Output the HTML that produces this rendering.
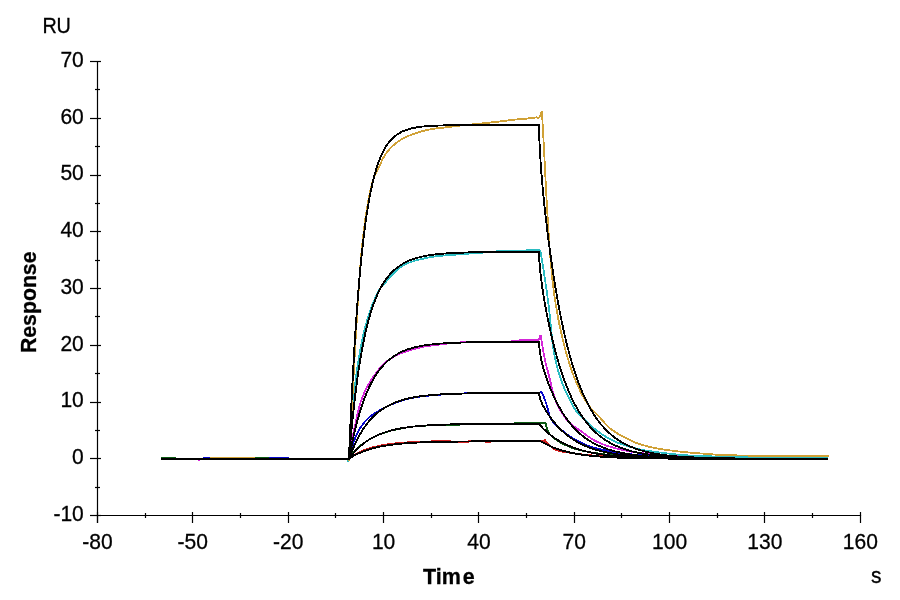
<!DOCTYPE html>
<html lang="en">
<head>
<meta charset="utf-8">
<title>Sensorgram</title>
<style>
html,body{margin:0;padding:0;background:#ffffff;}
body{width:900px;height:600px;overflow:hidden;}
svg{display:block;}
</style>
</head>
<body>
<svg width="900" height="600" viewBox="0 0 900 600">
<rect width="900" height="600" fill="#ffffff"/>
<g fill="none" stroke-width="1.8" stroke-linejoin="bevel" shape-rendering="crispEdges">
<polyline stroke="#d21f1f" points="161.0,458.8 348.2,458.8 348.9,460.8 349.6,458.8 349.0,458.5 349.5,458.1 350.0,457.8 350.5,457.4 351.0,457.0 351.5,456.7 352.0,456.4 352.5,456.1 353.0,455.8 353.5,455.5 354.0,455.2 354.5,454.9 355.0,454.6 355.5,454.4 356.0,454.1 356.5,453.8 357.0,453.6 357.5,453.3 358.0,453.1 358.5,452.8 359.0,452.6 359.5,452.3 360.0,452.1 360.5,451.8 361.0,451.6 361.5,451.4 362.0,451.1 362.5,450.8 363.0,450.6 363.5,450.4 364.0,450.1 364.5,449.9 365.0,449.7 365.5,449.5 366.0,449.3 366.5,449.2 367.0,449.0 367.5,448.8 368.0,448.7 368.5,448.5 369.0,448.4 369.5,448.2 370.0,448.1 370.5,447.9 371.0,447.8 371.5,447.7 372.0,447.5 372.5,447.4 373.0,447.3 373.5,447.2 374.0,447.0 374.5,446.9 375.0,446.8 375.5,446.7 376.0,446.6 376.5,446.5 377.0,446.3 377.5,446.2 378.0,446.1 378.5,446.0 379.0,445.9 379.5,445.8 380.0,445.7 380.5,445.6 381.0,445.5 381.5,445.4 382.0,445.3 382.5,445.2 383.0,445.1 383.5,445.0 384.0,444.9 384.5,444.8 385.0,444.8 385.5,444.7 386.0,444.6 386.5,444.5 387.0,444.4 387.5,444.3 388.0,444.3 388.5,444.2 389.0,444.1 389.5,444.1 390.0,444.0 390.5,443.9 391.0,443.9 391.5,443.8 392.0,443.8 392.5,443.7 393.0,443.6 393.5,443.6 394.0,443.5 394.5,443.5 395.0,443.4 395.5,443.4 396.0,443.3 396.5,443.3 397.0,443.2 397.5,443.1 398.0,443.1 398.5,443.1 399.0,443.0 399.5,443.0 400.0,442.9 400.5,442.9 401.0,442.8 401.5,442.8 402.0,442.7 402.5,442.7 403.0,442.7 403.5,442.6 404.0,442.6 404.5,442.6 405.0,442.5 405.5,442.5 406.0,442.4 406.5,442.4 407.0,442.4 407.5,442.3 408.0,442.3 408.5,442.3 409.0,442.3 409.5,442.2 410.0,442.2 410.5,442.2 411.0,442.1 411.5,442.1 412.0,442.1 412.5,442.1 413.0,442.0 413.5,442.0 414.0,442.0 414.5,442.0 415.0,441.9 415.5,441.9 416.0,441.9 416.5,441.9 417.0,441.8 417.5,441.8 418.0,441.8 418.5,441.8 419.0,441.8 419.5,441.7 420.0,441.7 420.5,441.7 421.0,441.7 421.5,441.7 422.0,441.6 422.5,441.6 423.0,441.6 423.5,441.6 424.0,441.6 424.5,441.6 425.0,441.5 425.5,441.5 426.0,441.5 426.5,441.5 427.0,441.5 427.5,441.5 428.0,441.4 428.5,441.4 429.0,441.4 429.5,441.4 430.0,441.4 430.5,441.4 431.0,441.4 431.5,441.3 432.0,441.3 432.5,441.3 433.0,441.3 433.5,441.3 434.0,441.3 434.5,441.3 435.0,441.3 435.5,441.2 436.0,441.2 436.5,441.2 437.0,441.2 437.5,441.2 438.0,441.2 438.5,441.2 439.0,441.2 439.5,441.2 440.0,441.2 440.5,441.2 441.0,441.2 441.5,441.2 442.0,441.2 442.5,441.2 443.0,441.2 443.5,441.2 444.0,441.2 444.5,441.2 445.0,441.2 445.5,441.2 446.0,441.2 446.5,441.2 447.0,441.2 447.5,441.2 448.0,441.2 448.5,441.2 449.0,441.2 449.5,441.2 450.0,441.2 450.5,441.5 451.0,441.9 451.5,441.9 452.0,441.9 452.5,441.9 453.0,441.9 453.5,441.9 454.0,441.9 454.5,441.9 455.0,441.9 455.5,441.9 456.0,441.9 456.5,441.9 457.0,441.9 457.5,441.9 458.0,441.9 458.5,441.9 459.0,441.9 459.5,441.9 460.0,441.9 460.5,441.9 461.0,441.9 461.5,441.9 462.0,441.9 462.5,441.9 463.0,441.9 463.5,441.9 464.0,441.9 464.5,441.9 465.0,441.9 465.5,441.9 466.0,441.9 466.5,441.9 467.0,441.9 467.5,441.9 468.0,441.9 468.5,441.6 469.0,441.2 469.5,441.2 470.0,441.2 470.5,441.2 471.0,441.2 471.5,441.2 472.0,441.2 472.5,441.2 473.0,441.2 473.5,441.2 474.0,441.2 474.5,441.2 475.0,441.2 475.5,441.2 476.0,441.2 476.5,441.2 477.0,441.2 477.5,441.2 478.0,441.2 478.5,441.2 479.0,441.2 479.5,441.2 480.0,441.2 480.5,441.2 481.0,441.2 481.5,441.2 482.0,441.2 482.5,441.2 483.0,441.2 483.5,441.2 484.0,441.2 484.5,441.2 485.0,441.2 485.5,441.5 486.0,441.9 486.5,441.9 487.0,441.9 487.5,441.9 488.0,441.9 488.5,441.9 489.0,441.9 489.5,441.9 490.0,441.9 490.5,441.6 491.0,441.2 491.5,441.2 492.0,441.2 492.5,441.2 493.0,441.2 493.5,441.2 494.0,441.2 494.5,441.2 495.0,441.2 495.5,441.2 496.0,441.1 496.5,441.1 497.0,441.1 497.5,441.1 498.0,441.1 498.5,441.1 499.0,441.1 499.5,441.1 500.0,441.1 500.5,441.1 501.0,441.1 501.5,441.1 502.0,441.1 502.5,441.1 503.0,441.1 503.5,441.1 504.0,441.1 504.5,441.1 505.0,441.1 505.5,441.1 506.0,441.1 506.5,441.1 507.0,441.1 507.5,441.1 508.0,441.1 508.5,441.1 509.0,441.1 509.5,441.1 510.0,441.0 510.5,441.0 511.0,441.0 511.5,441.0 512.0,441.0 512.5,441.0 513.0,441.0 513.5,441.0 514.0,441.0 514.5,441.0 515.0,441.0 515.5,441.0 516.0,441.0 516.5,441.0 517.0,441.0 517.5,441.0 518.0,441.0 518.5,441.0 519.0,441.0 519.5,441.0 520.0,441.0 520.5,441.0 521.0,441.0 521.5,441.0 522.0,441.0 522.5,441.0 523.0,441.0 523.5,441.0 524.0,441.0 524.5,441.0 525.0,441.0 525.5,441.0 526.0,441.0 526.5,441.0 527.0,441.0 527.5,441.0 528.0,441.0 528.5,441.0 529.0,441.0 529.5,441.0 530.0,441.0 530.5,441.0 531.0,441.0 531.5,441.0 532.0,441.0 532.5,441.0 533.0,441.0 533.5,441.0 534.0,441.0 534.5,441.0 535.0,441.0 535.5,441.0 536.0,441.0 536.5,441.0 537.0,441.0 537.5,441.0 538.0,441.0 538.5,441.0 539.0,441.0 539.5,441.0 540.0,441.0 544.0,441.2 545.0,439.3 546.2,442.2 546.2,442.2 546.7,442.7 547.2,443.2 547.7,443.7 548.2,444.1 548.7,444.5 549.2,445.0 549.7,445.4 550.2,445.8 550.7,446.3 551.2,446.7 551.7,447.1 552.2,447.5 552.7,447.9 553.2,448.3 553.7,448.6 554.2,449.0 554.7,449.3 555.2,449.6 555.7,449.8 556.2,450.0 556.7,450.2 557.2,450.4 557.7,450.5 558.2,450.6 558.7,450.8 559.2,450.9 559.7,451.0 560.2,451.2 560.7,451.3 561.2,451.4 561.7,451.5 562.2,451.6 562.7,451.7 563.2,451.8 563.7,451.8 564.2,451.9 564.7,452.0 565.2,452.1 565.7,452.2 566.2,452.2 566.7,452.3 567.2,452.4 567.7,452.5 568.2,452.5 568.7,452.6 569.2,452.7 569.7,452.8 570.2,452.8 570.7,452.9 571.2,453.0 571.7,453.1 572.2,453.1 572.7,453.2 573.2,453.3 573.7,453.3 574.2,453.4 574.7,453.5 575.2,453.5 575.7,453.6 576.2,453.7 576.7,453.7 577.2,453.8 577.7,453.9 578.2,453.9 578.7,454.0 579.2,454.1 579.7,454.1 580.2,454.2 580.7,454.3 581.2,454.3 581.7,454.4 582.2,454.4 582.7,454.5 583.2,454.5 583.7,454.6 584.2,454.6 584.7,454.7 585.2,454.7 585.7,454.8 586.2,454.9 586.7,454.9 587.2,454.9 587.7,455.0 588.2,455.0 588.7,455.1 589.2,455.1 589.7,455.2 590.2,455.2 590.7,455.3 591.2,455.3 591.7,455.3 592.2,455.4 592.7,455.4 593.2,455.5 593.7,455.5 594.2,455.5 594.7,455.6 595.2,455.6 595.7,455.7 596.2,455.7 596.7,455.7 597.2,455.8 597.7,455.8 598.2,455.8 598.7,455.9 599.2,455.9 599.7,455.9 600.2,456.0 600.7,456.0 601.2,456.0 601.7,456.1 602.2,456.1 602.7,456.1 603.2,456.2 603.7,456.2 604.2,456.2 604.7,456.3 605.2,456.3 605.7,456.3 606.2,456.4 606.7,456.4 607.2,456.4 607.7,456.4 608.2,456.5 608.7,456.5 609.2,456.5 609.7,456.5 610.2,456.6 610.7,456.6 611.2,456.6 611.7,456.6 612.2,456.7 612.7,456.7 613.2,456.7 613.7,456.7 614.2,456.8 614.7,456.8 615.2,456.8 615.7,456.8 616.2,456.9 616.7,456.9 617.2,456.9 617.7,456.9 618.2,456.9 618.7,457.0 619.2,457.0 619.7,457.0 620.2,457.0 620.7,457.0 621.2,457.1 621.7,457.1 622.2,457.1 622.7,457.1 623.2,457.1 623.7,457.1 624.2,457.2 624.7,457.2 625.2,457.2 625.7,457.2 626.2,457.2 626.7,457.3 627.2,457.3 627.7,457.3 628.2,457.3 628.7,457.3 629.2,457.3 629.7,457.4 630.2,457.4 630.7,457.4 631.2,457.4 631.7,457.4 632.2,457.4 632.7,457.4 633.2,457.5 633.7,457.5 634.2,457.5 634.7,457.5 635.2,457.5 635.7,457.5 636.2,457.5 636.7,457.5 637.2,457.5 637.7,457.6 638.2,457.6 638.7,457.6 639.2,457.6 639.7,457.6 640.2,457.6 640.7,457.6 641.2,457.6 641.7,457.6 642.2,457.6 642.7,457.6 643.2,457.7 643.7,457.7 644.2,457.7 644.7,457.7 645.2,457.7 645.7,457.7 646.2,457.7 646.7,457.7 647.2,457.7 647.7,457.7 648.2,457.7 648.7,457.7 649.2,457.7 649.7,457.8 650.2,457.8 650.7,457.8 651.2,457.8 651.7,457.8 652.2,457.8 652.7,457.8 653.2,457.8 653.7,457.8 654.2,457.8 654.7,457.8 655.2,457.8 655.7,457.8 656.2,457.8 656.7,457.8 657.2,457.9 657.7,457.9 658.2,457.9 658.7,457.9 659.2,457.9 659.7,457.9 660.2,457.9 660.7,457.9 661.2,457.9 661.7,457.9 662.2,457.9 662.7,457.9 663.2,457.9 663.7,457.9 664.2,457.9 664.7,457.9 665.2,457.9 665.7,458.0 666.2,458.0 666.7,458.0 667.2,458.0 667.7,458.0 668.2,458.0 668.7,458.0 669.2,458.0 669.7,458.0 670.2,458.0 670.7,458.0 671.2,458.0 671.7,458.0 672.2,458.0 672.7,458.0 673.2,458.0 673.7,458.0 674.2,458.0 674.7,458.0 675.2,458.1 675.7,458.1 676.2,458.1 676.7,458.1 677.2,458.1 677.7,458.1 678.2,458.1 678.7,458.1 679.2,458.1 679.7,458.1 680.2,458.1 680.7,458.1 681.2,458.1 681.7,458.1 682.2,458.1 682.7,458.1 683.2,458.1 683.7,458.1 684.2,458.1 684.7,458.1 685.2,458.1 685.7,458.1 686.2,458.1 686.7,458.1 687.2,458.1 687.7,458.1 688.2,458.1 688.7,458.2 689.2,458.2 689.7,458.2 690.2,458.2 690.7,458.2 691.2,458.2 691.7,458.2 692.2,458.2 692.7,458.2 693.2,458.2 693.7,458.2 694.2,458.2 694.7,458.2 695.2,458.2 695.7,458.2 696.2,458.2 696.7,458.2 697.2,458.2 697.7,458.2 698.2,458.2 698.7,458.2 699.2,458.2 699.7,458.2 700.2,458.2 700.7,458.2 701.2,458.2 701.7,458.2 702.2,458.2 702.7,458.2 703.2,458.2 703.7,458.2 704.2,458.2 704.7,458.2 705.2,458.2 705.7,458.2 706.2,458.2 706.7,458.2 707.2,458.2 707.7,458.2 708.2,458.2 708.7,458.2 709.2,458.2 709.7,458.2 710.2,458.2 710.7,458.2 711.2,458.2 711.7,458.2 712.2,458.2 712.7,458.2 713.2,458.2 713.7,458.2 714.2,458.2 714.7,458.2 715.2,458.2 715.7,458.2 716.2,458.2 716.7,458.2 717.2,458.2 717.7,458.2 718.2,458.3 718.7,458.3 719.2,458.3 719.7,458.3 720.2,458.3 720.7,458.3 721.2,458.3 721.7,458.3 722.2,458.3 722.7,458.3 723.2,458.3 723.7,458.3 724.2,458.3 724.7,458.3 725.2,458.3 725.7,458.3 726.2,458.3 726.7,458.3 727.2,458.3 727.7,458.3 728.2,458.3 728.7,458.3 729.2,458.3 729.7,458.3 730.2,458.3 730.7,458.3 731.2,458.3 731.7,458.3 732.2,458.3 732.7,458.3 733.2,458.3 733.7,458.3 734.2,458.3 734.7,458.3 735.2,458.3 735.7,458.3 736.2,458.3 736.7,458.3 737.2,458.3 737.7,458.3 738.2,458.3 738.7,458.3 739.2,458.3 739.7,458.3 740.2,458.3 740.7,458.3 741.2,458.3 741.7,458.3 742.2,458.3 742.7,458.3 743.2,458.3 743.7,458.3 744.2,458.3 744.7,458.3 745.2,458.3 745.7,458.3 746.2,458.3 746.7,458.3 747.2,458.3 747.7,458.3 748.2,458.3 748.7,458.3 749.2,458.3 749.7,458.3 750.2,458.3 750.7,458.3 751.2,458.3 751.7,458.3 752.2,458.3 752.7,458.3 753.2,458.3 753.7,458.3 754.2,458.3 754.7,458.3 755.2,458.3 755.7,458.3 756.2,458.3 756.7,458.3 757.2,458.3 757.7,458.3 758.2,458.3 758.7,458.3 759.2,458.3 759.7,458.3 760.2,458.3 760.7,458.3 761.2,458.3 761.7,458.3 762.2,458.3 762.7,458.3 763.2,458.3 763.7,458.3 764.2,458.3 764.7,458.3 765.2,458.3 765.7,458.3 766.2,458.4 766.7,458.4 767.2,458.4 767.7,458.4 768.2,458.4 768.7,458.4 769.2,458.4 769.7,458.4 770.2,458.4 770.7,458.4 771.2,458.4 771.7,458.4 772.2,458.4 772.7,458.4 773.2,458.4 773.7,458.4 774.2,458.4 774.7,458.4 775.2,458.4 775.7,458.4 776.2,458.4 776.7,458.4 777.2,458.4 777.7,458.4 778.2,458.4 778.7,458.4 779.2,458.4 779.7,458.4 780.2,458.4 780.7,458.4 781.2,458.4 781.7,458.4 782.2,458.4 782.7,458.4 783.2,458.4 783.7,458.4 784.2,458.4 784.7,458.4 785.2,458.4 785.7,458.4 786.2,458.4 786.7,458.4 787.2,458.4 787.7,458.4 788.2,458.4 788.7,458.4 789.2,458.4 789.7,458.4 790.2,458.4 790.7,458.4 791.2,458.4 791.7,458.4 792.2,458.4 792.7,458.4 793.2,458.4 793.7,458.4 794.2,458.4 794.7,458.4 795.2,458.4 795.7,458.4 796.2,458.4 796.7,458.4 797.2,458.4 797.7,458.4 798.2,458.4 798.7,458.4 799.2,458.4 799.7,458.4 800.2,458.4 800.7,458.4 801.2,458.4 801.7,458.4 802.2,458.4 802.7,458.4 803.2,458.4 803.7,458.4 804.2,458.4 804.7,458.4 805.2,458.4 805.7,458.4 806.2,458.4 806.7,458.4 807.2,458.4 807.7,458.4 808.2,458.4 808.7,458.4 809.2,458.4 809.7,458.4 810.2,458.4 810.7,458.4 811.2,458.4 811.7,458.4 812.2,458.4 812.7,458.4 813.2,458.4 813.7,458.4 814.2,458.4 814.7,458.4 815.2,458.4 815.7,458.4 816.2,458.4 816.7,458.4 817.2,458.4 817.7,458.4 818.2,458.4 818.7,458.4 819.2,458.4 819.7,458.4 820.2,458.4 820.7,458.4 821.2,458.4 821.7,458.4 822.2,458.4 822.7,458.4 823.2,458.4 823.7,458.4 824.2,458.4 824.7,458.4 825.2,458.4 825.7,458.4 826.2,458.4 826.7,458.4 827.2,458.4 827.7,458.4 828.2,458.4"/>
<polyline stroke="#0b5a12" points="161.0,457.7 175.0,457.7 175.0,458.8 254.0,458.8 254.0,457.7 270.0,457.7 270.0,458.8 349.5,458.6 349.0,458.5 349.5,457.7 350.0,456.9 350.5,456.1 351.0,455.3 351.5,454.6 352.0,453.9 352.5,453.3 353.0,452.7 353.5,452.2 354.0,451.7 354.5,451.2 355.0,450.7 355.5,450.2 356.0,449.8 356.5,449.3 357.0,448.8 357.5,448.3 358.0,447.9 358.5,447.4 359.0,446.9 359.5,446.5 360.0,446.0 360.5,445.6 361.0,445.2 361.5,444.8 362.0,444.4 362.5,444.0 363.0,443.7 363.5,443.3 364.0,443.0 364.5,442.6 365.0,442.3 365.5,442.0 366.0,441.6 366.5,441.3 367.0,441.0 367.5,440.7 368.0,440.3 368.5,440.0 369.0,439.7 369.5,439.4 370.0,439.1 370.5,438.8 371.0,438.5 371.5,438.3 372.0,438.0 372.5,437.7 373.0,437.5 373.5,437.2 374.0,437.0 374.5,436.7 375.0,436.5 375.5,436.2 376.0,436.0 376.5,435.8 377.0,435.5 377.5,435.3 378.0,435.1 378.5,434.9 379.0,434.7 379.5,434.4 380.0,434.2 380.5,434.0 381.0,433.8 381.5,433.6 382.0,433.4 382.5,433.3 383.0,433.1 383.5,432.9 384.0,432.7 384.5,432.6 385.0,432.4 385.5,432.2 386.0,432.1 386.5,431.9 387.0,431.8 387.5,431.6 388.0,431.5 388.5,431.3 389.0,431.2 389.5,431.1 390.0,430.9 390.5,430.8 391.0,430.7 391.5,430.5 392.0,430.4 392.5,430.3 393.0,430.2 393.5,430.0 394.0,429.9 394.5,429.8 395.0,429.7 395.5,429.6 396.0,429.5 396.5,429.4 397.0,429.3 397.5,429.2 398.0,429.1 398.5,429.0 399.0,428.9 399.5,428.8 400.0,428.7 400.5,428.6 401.0,428.5 401.5,428.4 402.0,428.3 402.5,428.2 403.0,428.1 403.5,428.0 404.0,427.9 404.5,427.8 405.0,427.8 405.5,427.7 406.0,427.6 406.5,427.5 407.0,427.4 407.5,427.3 408.0,427.3 408.5,427.2 409.0,427.1 409.5,427.0 410.0,427.0 410.5,426.9 411.0,426.8 411.5,426.8 412.0,426.7 412.5,426.7 413.0,426.6 413.5,426.5 414.0,426.5 414.5,426.4 415.0,426.4 415.5,426.4 416.0,426.3 416.5,426.3 417.0,426.2 417.5,426.2 418.0,426.1 418.5,426.1 419.0,426.1 419.5,426.0 420.0,426.0 420.5,425.9 421.0,425.9 421.5,425.9 422.0,425.8 422.5,425.8 423.0,425.7 423.5,425.7 424.0,425.7 424.5,425.6 425.0,425.6 425.5,425.6 426.0,425.5 426.5,425.5 427.0,425.5 427.5,425.4 428.0,425.4 428.5,425.4 429.0,425.3 429.5,425.3 430.0,425.3 430.5,425.2 431.0,425.2 431.5,425.2 432.0,425.2 432.5,425.1 433.0,425.1 433.5,425.1 434.0,425.1 434.5,425.1 435.0,425.0 435.5,425.0 436.0,425.0 436.5,425.0 437.0,425.0 437.5,425.0 438.0,424.9 438.5,424.9 439.0,424.9 439.5,424.9 440.0,424.9 440.5,424.9 441.0,424.9 441.5,424.9 442.0,424.9 442.5,424.9 443.0,424.9 443.5,424.9 444.0,424.9 444.5,424.8 445.0,424.8 445.5,424.8 446.0,424.8 446.5,424.8 447.0,424.8 447.5,424.8 448.0,424.8 448.5,424.8 449.0,424.8 449.5,424.8 450.0,424.8 450.5,424.8 451.0,424.8 451.5,424.8 452.0,424.8 452.5,424.8 453.0,424.8 453.5,424.8 454.0,424.8 454.5,424.8 455.0,424.8 455.5,424.8 456.0,424.8 456.5,424.8 457.0,424.7 457.5,424.7 458.0,424.7 458.5,424.7 459.0,424.7 459.5,424.6 460.0,424.5 460.5,424.3 461.0,424.2 461.5,424.1 462.0,424.0 462.5,424.0 463.0,424.0 463.5,424.0 464.0,424.0 464.5,424.0 465.0,424.0 465.5,424.0 466.0,424.0 466.5,424.0 467.0,424.0 467.5,424.0 468.0,424.0 468.5,424.0 469.0,424.0 469.5,424.0 470.0,424.0 470.5,424.0 471.0,424.0 471.5,424.0 472.0,424.0 472.5,424.0 473.0,424.0 473.5,424.0 474.0,424.0 474.5,424.0 475.0,424.0 475.5,424.0 476.0,424.0 476.5,424.0 477.0,424.0 477.5,424.0 478.0,424.0 478.5,424.0 479.0,424.0 479.5,424.0 480.0,424.0 480.5,424.0 481.0,424.0 481.5,424.0 482.0,424.0 482.5,424.0 483.0,424.0 483.5,424.0 484.0,424.0 484.5,424.0 485.0,424.0 485.5,424.0 486.0,424.0 486.5,424.0 487.0,424.0 487.5,424.0 488.0,424.0 488.5,424.0 489.0,424.0 489.5,424.0 490.0,424.0 490.5,424.0 491.0,424.0 491.5,424.0 492.0,424.0 492.5,424.0 493.0,424.0 493.5,424.0 494.0,424.0 494.5,424.0 495.0,424.0 495.5,424.0 496.0,424.0 496.5,424.0 497.0,424.0 497.5,424.0 498.0,424.0 498.5,424.0 499.0,424.0 499.5,424.0 500.0,424.0 500.5,424.0 501.0,424.0 501.5,424.0 502.0,424.0 502.5,424.0 503.0,424.0 503.5,424.0 504.0,424.0 504.5,424.0 505.0,424.0 505.5,424.0 506.0,424.0 506.5,424.0 507.0,424.0 507.5,424.0 508.0,424.0 508.5,424.0 509.0,424.0 509.5,424.0 510.0,424.0 510.5,424.0 511.0,424.0 511.5,424.0 512.0,424.0 512.5,423.9 513.0,423.7 513.5,423.5 514.0,423.3 514.5,423.1 515.0,423.0 515.5,423.0 516.0,423.0 516.5,423.0 517.0,423.0 517.5,423.0 518.0,423.0 518.5,423.0 519.0,423.0 519.5,423.0 520.0,423.0 520.5,423.0 521.0,423.0 521.5,423.0 522.0,423.0 522.5,423.0 523.0,423.0 523.5,423.0 524.0,423.0 524.5,423.0 525.0,423.0 525.5,423.0 526.0,423.0 526.5,423.0 527.0,423.0 527.5,423.0 528.0,423.0 528.5,423.0 529.0,423.0 529.5,423.0 530.0,423.0 530.5,423.0 531.0,423.0 531.5,423.0 532.0,423.0 532.5,423.0 533.0,423.0 533.5,423.0 534.0,423.0 534.5,423.0 535.0,423.0 535.5,423.0 536.0,423.0 536.5,423.0 537.0,423.0 537.5,423.0 538.0,423.0 538.5,423.0 545.6,423.0 545.6,423.0 546.1,425.2 546.6,427.2 547.1,428.9 547.6,430.2 548.1,431.4 548.6,432.4 549.1,433.3 549.6,434.1 550.1,434.7 550.6,435.3 551.1,435.8 551.6,436.3 552.1,436.8 552.6,437.2 553.1,437.6 553.6,438.0 554.1,438.4 554.6,438.7 555.1,439.1 555.6,439.4 556.1,439.8 556.6,440.1 557.1,440.4 557.6,440.8 558.1,441.1 558.6,441.4 559.1,441.7 559.6,442.0 560.1,442.3 560.6,442.6 561.1,442.8 561.6,443.1 562.1,443.4 562.6,443.6 563.1,443.9 563.6,444.1 564.1,444.4 564.6,444.6 565.1,444.8 565.6,445.1 566.1,445.3 566.6,445.5 567.1,445.7 567.6,446.0 568.1,446.2 568.6,446.4 569.1,446.6 569.6,446.8 570.1,447.0 570.6,447.2 571.1,447.4 571.6,447.6 572.1,447.8 572.6,448.0 573.1,448.2 573.6,448.4 574.1,448.5 574.6,448.7 575.1,448.9 575.6,449.0 576.1,449.2 576.6,449.3 577.1,449.5 577.6,449.6 578.1,449.7 578.6,449.9 579.1,450.0 579.6,450.1 580.1,450.2 580.6,450.4 581.1,450.5 581.6,450.6 582.1,450.7 582.6,450.8 583.1,450.9 583.6,451.0 584.1,451.1 584.6,451.2 585.1,451.3 585.6,451.4 586.1,451.5 586.6,451.6 587.1,451.7 587.6,451.8 588.1,451.9 588.6,452.0 589.1,452.1 589.6,452.1 590.1,452.2 590.6,452.3 591.1,452.4 591.6,452.5 592.1,452.6 592.6,452.6 593.1,452.7 593.6,452.8 594.1,452.9 594.6,452.9 595.1,453.0 595.6,453.1 596.1,453.2 596.6,453.2 597.1,453.3 597.6,453.4 598.1,453.5 598.6,453.5 599.1,453.6 599.6,453.7 600.1,453.7 600.6,453.8 601.1,453.9 601.6,453.9 602.1,454.0 602.6,454.1 603.1,454.1 603.6,454.2 604.1,454.3 604.6,454.3 605.1,454.4 605.6,454.5 606.1,454.5 606.6,454.6 607.1,454.6 607.6,454.7 608.1,454.7 608.6,454.8 609.1,454.9 609.6,454.9 610.1,455.0 610.6,455.0 611.1,455.1 611.6,455.1 612.1,455.2 612.6,455.2 613.1,455.2 613.6,455.3 614.1,455.3 614.6,455.4 615.1,455.4 615.6,455.4 616.1,455.5 616.6,455.5 617.1,455.6 617.6,455.6 618.1,455.6 618.6,455.7 619.1,455.7 619.6,455.7 620.1,455.8 620.6,455.8 621.1,455.9 621.6,455.9 622.1,455.9 622.6,456.0 623.1,456.0 623.6,456.0 624.1,456.1 624.6,456.1 625.1,456.1 625.6,456.2 626.1,456.2 626.6,456.2 627.1,456.2 627.6,456.3 628.1,456.3 628.6,456.3 629.1,456.4 629.6,456.4 630.1,456.4 630.6,456.4 631.1,456.5 631.6,456.5 632.1,456.5 632.6,456.5 633.1,456.6 633.6,456.6 634.1,456.6 634.6,456.6 635.1,456.6 635.6,456.7 636.1,456.7 636.6,456.7 637.1,456.7 637.6,456.7 638.1,456.7 638.6,456.8 639.1,456.8 639.6,456.8 640.1,456.8 640.6,456.8 641.1,456.8 641.6,456.8 642.1,456.8 642.6,456.9 643.1,456.9 643.6,456.9 644.1,456.9 644.6,456.9 645.1,456.9 645.6,456.9 646.1,456.9 646.6,456.9 647.1,457.0 647.6,457.0 648.1,457.0 648.6,457.0 649.1,457.0 649.6,457.0 650.1,457.0 650.6,457.0 651.1,457.0 651.6,457.0 652.1,457.1 652.6,457.1 653.1,457.1 653.6,457.1 654.1,457.1 654.6,457.1 655.1,457.1 655.6,457.1 656.1,457.1 656.6,457.1 657.1,457.1 657.6,457.2 658.1,457.2 658.6,457.2 659.1,457.2 659.6,457.2 660.1,457.2 660.6,457.2 661.1,457.2 661.6,457.2 662.1,457.2 662.6,457.2 663.1,457.2 663.6,457.3 664.1,457.3 664.6,457.3 665.1,457.3 665.6,457.3 666.1,457.3 666.6,457.3 667.1,457.3 667.6,457.3 668.1,457.3 668.6,457.3 669.1,457.3 669.6,457.3 670.1,457.3 670.6,457.4 671.1,457.4 671.6,457.4 672.1,457.4 672.6,457.4 673.1,457.4 673.6,457.4 674.1,457.4 674.6,457.4 675.1,457.4 675.6,457.4 676.1,457.4 676.6,457.4 677.1,457.4 677.6,457.4 678.1,457.4 678.6,457.4 679.1,457.4 679.6,457.5 680.1,457.5 680.6,457.5 681.1,457.5 681.6,457.5 682.1,457.5 682.6,457.5 683.1,457.5 683.6,457.5 684.1,457.5 684.6,457.5 685.1,457.5 685.6,457.5 686.1,457.5 686.6,457.5 687.1,457.5 687.6,457.5 688.1,457.5 688.6,457.5 689.1,457.5 689.6,457.5 690.1,457.5 690.6,457.5 691.1,457.6 691.6,457.6 692.1,457.6 692.6,457.6 693.1,457.6 693.6,457.6 694.1,457.6 694.6,457.6 695.1,457.6 695.6,457.6 696.1,457.6 696.6,457.6 697.1,457.6 697.6,457.6 698.1,457.6 698.6,457.6 699.1,457.6 699.6,457.6 700.1,457.6 700.6,457.6 701.1,457.6 701.6,457.6 702.1,457.6 702.6,457.6 703.1,457.6 703.6,457.6 704.1,457.6 704.6,457.6 705.1,457.6 705.6,457.6 706.1,457.6 706.6,457.6 707.1,457.6 707.6,457.6 708.1,457.6 708.6,457.6 709.1,457.6 709.6,457.6 710.1,457.6 710.6,457.6 711.1,457.6 711.6,457.6 712.1,457.7 712.6,457.7 713.1,457.7 713.6,457.7 714.1,457.7 714.6,457.7 715.1,457.7 715.6,457.7 716.1,457.7 716.6,457.7 717.1,457.7 717.6,457.7 718.1,457.7 718.6,457.7 719.1,457.7 719.6,457.7 720.1,457.7 720.6,457.7 721.1,457.7 721.6,457.7 722.1,457.7 722.6,457.7 723.1,457.7 723.6,457.7 724.1,457.7 724.6,457.7 725.1,457.7 725.6,457.7 726.1,457.7 726.6,457.7 727.1,457.7 727.6,457.7 728.1,457.7 728.6,457.7 729.1,457.7 729.6,457.7 730.1,457.7 730.6,457.7 731.1,457.7 731.6,457.7 732.1,457.7 732.6,457.7 733.1,457.7 733.6,457.7 734.1,457.7 734.6,457.7 735.1,457.7 735.6,457.7 736.1,457.7 736.6,457.7 737.1,457.7 737.6,457.7 738.1,457.7 738.6,457.7 739.1,457.7 739.6,457.8 740.1,457.8 740.6,457.8 741.1,457.8 741.6,457.8 742.1,457.8 742.6,457.8 743.1,457.8 743.6,457.8 744.1,457.8 744.6,457.8 745.1,457.8 745.6,457.8 746.1,457.8 746.6,457.8 747.1,457.8 747.6,457.8 748.1,457.8 748.6,457.8 749.1,457.8 749.6,457.8 750.1,457.8 750.6,457.8 751.1,457.8 751.6,457.8 752.1,457.8 752.6,457.8 753.1,457.8 753.6,457.8 754.1,457.8 754.6,457.8 755.1,457.8 755.6,457.8 756.1,457.8 756.6,457.8 757.1,457.8 757.6,457.8 758.1,457.8 758.6,457.8 759.1,457.8 759.6,457.8 760.1,457.8 760.6,457.8 761.1,457.8 761.6,457.8 762.1,457.8 762.6,457.8 763.1,457.8 763.6,457.8 764.1,457.8 764.6,457.8 765.1,457.8 765.6,457.8 766.1,457.8 766.6,457.8 767.1,457.8 767.6,457.8 768.1,457.8 768.6,457.8 769.1,457.8 769.6,457.8 770.1,457.8 770.6,457.8 771.1,457.8 771.6,457.8 772.1,457.8 772.6,457.8 773.1,457.8 773.6,457.8 774.1,457.8 774.6,457.8 775.1,457.8 775.6,457.8 776.1,457.8 776.6,457.8 777.1,457.8 777.6,457.8 778.1,457.8 778.6,457.9 779.1,457.9 779.6,457.9 780.1,457.9 780.6,457.9 781.1,457.9 781.6,457.9 782.1,457.9 782.6,457.9 783.1,457.9 783.6,457.9 784.1,457.9 784.6,457.9 785.1,457.9 785.6,457.9 786.1,457.9 786.6,457.9 787.1,457.9 787.6,457.9 788.1,457.9 788.6,457.9 789.1,457.9 789.6,457.9 790.1,457.9 790.6,457.9 791.1,457.9 791.6,457.9 792.1,457.9 792.6,457.9 793.1,457.9 793.6,457.9 794.1,457.9 794.6,457.9 795.1,457.9 795.6,457.9 796.1,457.9 796.6,457.9 797.1,457.9 797.6,457.9 798.1,457.9 798.6,457.9 799.1,457.9 799.6,457.9 800.1,457.9 800.6,457.9 801.1,457.9 801.6,457.9 802.1,457.9 802.6,457.9 803.1,457.9 803.6,457.9 804.1,457.9 804.6,457.9 805.1,457.9 805.6,457.9 806.1,457.9 806.6,457.9 807.1,457.9 807.6,457.9 808.1,457.9 808.6,457.9 809.1,457.9 809.6,457.9 810.1,457.9 810.6,457.9 811.1,457.9 811.6,457.9 812.1,457.9 812.6,457.9 813.1,457.9 813.6,457.9 814.1,457.9 814.6,457.9 815.1,457.9 815.6,457.9 816.1,457.9 816.6,457.9 817.1,457.9 817.6,457.9 818.1,457.9 818.6,457.9 819.1,457.9 819.6,457.9 820.1,457.9 820.6,457.9 821.1,457.9 821.6,457.9 822.1,457.9 822.6,457.9 823.1,457.9 823.6,457.9 824.1,457.9 824.6,457.9 825.1,457.9 825.6,457.9 826.1,457.9 826.6,457.9 827.1,457.9 827.6,457.9 828.1,457.9"/>
<polyline stroke="#0808cc" points="161.0,458.8 204.0,458.8 204.0,457.7 211.0,457.7 211.0,458.8 270.0,458.8 270.0,457.7 288.0,457.7 288.0,458.8 349.5,458.6 349.0,458.5 349.5,456.4 350.0,454.3 350.5,452.3 351.0,450.4 351.5,448.6 352.0,446.9 352.5,445.3 353.0,443.8 353.5,442.4 354.0,441.0 354.5,439.7 355.0,438.5 355.5,437.3 356.0,436.1 356.5,435.0 357.0,433.9 357.5,432.9 358.0,431.9 358.5,430.9 359.0,430.0 359.5,429.1 360.0,428.3 360.5,427.5 361.0,426.8 361.5,426.1 362.0,425.4 362.5,424.7 363.0,424.1 363.5,423.5 364.0,422.9 364.5,422.3 365.0,421.7 365.5,421.1 366.0,420.6 366.5,420.0 367.0,419.5 367.5,419.0 368.0,418.5 368.5,418.1 369.0,417.6 369.5,417.2 370.0,416.7 370.5,416.3 371.0,415.9 371.5,415.5 372.0,415.1 372.5,414.8 373.0,414.4 373.5,414.1 374.0,413.7 374.5,413.4 375.0,413.1 375.5,412.8 376.0,412.4 376.5,412.1 377.0,411.8 377.5,411.5 378.0,411.3 378.5,411.0 379.0,410.7 379.5,410.4 380.0,410.1 380.5,409.9 381.0,409.6 381.5,409.3 382.0,409.0 382.5,408.8 383.0,408.5 383.5,408.2 384.0,408.0 384.5,407.7 385.0,407.5 385.5,407.2 386.0,407.0 386.5,406.8 387.0,406.5 387.5,406.3 388.0,406.1 388.5,405.8 389.0,405.6 389.5,405.3 390.0,405.1 390.5,404.9 391.0,404.6 391.5,404.4 392.0,404.2 392.5,404.0 393.0,403.8 393.5,403.5 394.0,403.3 394.5,403.1 395.0,402.9 395.5,402.7 396.0,402.5 396.5,402.3 397.0,402.2 397.5,402.0 398.0,401.8 398.5,401.6 399.0,401.5 399.5,401.3 400.0,401.1 400.5,401.0 401.0,400.8 401.5,400.7 402.0,400.5 402.5,400.4 403.0,400.2 403.5,400.0 404.0,399.9 404.5,399.7 405.0,399.6 405.5,399.5 406.0,399.3 406.5,399.2 407.0,399.0 407.5,398.9 408.0,398.8 408.5,398.7 409.0,398.5 409.5,398.4 410.0,398.3 410.5,398.2 411.0,398.1 411.5,398.0 412.0,397.8 412.5,397.7 413.0,397.6 413.5,397.6 414.0,397.5 414.5,397.4 415.0,397.3 415.5,397.2 416.0,397.1 416.5,397.1 417.0,397.0 417.5,396.9 418.0,396.8 418.5,396.8 419.0,396.7 419.5,396.6 420.0,396.6 420.5,396.5 421.0,396.4 421.5,396.4 422.0,396.3 422.5,396.2 423.0,396.2 423.5,396.1 424.0,396.1 424.5,396.0 425.0,395.9 425.5,395.9 426.0,395.8 426.5,395.8 427.0,395.7 427.5,395.7 428.0,395.6 428.5,395.6 429.0,395.5 429.5,395.5 430.0,395.4 430.5,395.4 431.0,395.3 431.5,395.3 432.0,395.2 432.5,395.2 433.0,395.1 433.5,395.1 434.0,395.0 434.5,395.0 435.0,395.0 435.5,394.9 436.0,394.9 436.5,394.8 437.0,394.8 437.5,394.8 438.0,394.7 438.5,394.7 439.0,394.7 439.5,394.6 440.0,394.6 440.5,394.6 441.0,394.5 441.5,394.5 442.0,394.5 442.5,394.4 443.0,394.4 443.5,394.4 444.0,394.3 444.5,394.3 445.0,394.3 445.5,394.3 446.0,394.2 446.5,394.2 447.0,394.2 447.5,394.1 448.0,394.1 448.5,394.1 449.0,394.0 449.5,394.0 450.0,394.0 450.5,394.0 451.0,393.9 451.5,393.9 452.0,393.9 452.5,393.9 453.0,393.8 453.5,393.8 454.0,393.8 454.5,393.8 455.0,393.7 455.5,393.7 456.0,393.7 456.5,393.7 457.0,393.6 457.5,393.6 458.0,393.6 458.5,393.6 459.0,393.5 459.5,393.5 460.0,393.5 460.5,393.5 461.0,393.5 461.5,393.5 462.0,393.4 462.5,393.4 463.0,393.4 463.5,393.4 464.0,393.4 464.5,393.3 465.0,393.3 465.5,393.3 466.0,393.3 466.5,393.3 467.0,393.3 467.5,393.3 468.0,393.2 468.5,393.2 469.0,393.2 469.5,393.2 470.0,393.2 470.5,393.2 471.0,393.2 471.5,393.2 472.0,393.2 472.5,393.2 473.0,393.1 473.5,393.1 474.0,393.1 474.5,393.1 475.0,393.1 475.5,393.1 476.0,393.1 476.5,393.1 477.0,393.1 477.5,393.1 478.0,393.1 478.5,393.0 479.0,393.0 479.5,393.0 480.0,393.0 480.5,393.0 481.0,393.0 481.5,393.0 482.0,393.0 482.5,393.0 483.0,393.0 483.5,393.0 484.0,393.0 484.5,393.0 485.0,393.0 485.5,392.9 486.0,392.9 486.5,392.9 487.0,392.9 487.5,392.9 488.0,392.9 488.5,392.9 489.0,392.9 489.5,392.9 490.0,392.9 490.5,392.9 491.0,392.9 491.5,392.9 492.0,392.9 492.5,392.9 493.0,392.9 493.5,392.9 494.0,392.9 494.5,392.8 495.0,392.8 495.5,392.8 496.0,392.8 496.5,392.8 497.0,392.8 497.5,392.8 498.0,392.8 498.5,392.8 499.0,392.8 499.5,392.8 500.0,392.8 500.5,392.8 501.0,392.8 501.5,392.8 502.0,392.8 502.5,392.8 503.0,392.8 503.5,392.8 504.0,392.8 504.5,392.8 505.0,392.8 505.5,392.8 506.0,392.8 506.5,392.8 507.0,392.7 507.5,392.7 508.0,392.7 508.5,392.7 509.0,392.7 509.5,392.7 510.0,392.7 510.5,392.7 511.0,392.7 511.5,392.7 512.0,392.7 512.5,392.7 513.0,392.7 513.5,392.7 514.0,392.7 514.5,392.7 515.0,392.7 515.5,392.7 516.0,392.7 516.5,392.7 517.0,392.7 517.5,392.7 518.0,392.7 518.5,392.7 519.0,392.7 519.5,392.7 520.0,392.7 520.5,392.7 521.0,392.7 521.5,392.7 522.0,392.7 522.5,392.6 523.0,392.6 523.5,392.6 524.0,392.6 524.5,392.6 525.0,392.6 525.5,392.6 526.0,392.6 526.5,392.6 527.0,392.6 527.5,392.6 528.0,392.6 528.5,392.6 529.0,392.6 529.5,392.6 530.0,392.6 530.5,392.6 531.0,392.6 531.5,392.6 532.0,392.6 532.5,392.6 533.0,392.6 533.5,392.6 534.0,392.6 534.5,392.6 535.0,392.6 535.5,392.6 536.0,392.6 536.5,392.6 537.0,392.6 537.5,392.6 538.0,392.6 538.5,392.6 541.6,392.2 541.6,392.2 542.1,393.2 542.6,394.2 543.1,395.3 543.6,396.5 544.1,397.8 544.6,399.1 545.1,400.4 545.6,401.8 546.1,403.2 546.6,404.7 547.1,406.3 547.6,408.2 548.1,410.2 548.6,412.2 549.1,414.0 549.6,415.7 550.1,416.9 550.6,417.9 551.1,418.9 551.6,419.7 552.1,420.5 552.6,421.2 553.1,421.9 553.6,422.5 554.1,423.1 554.6,423.7 555.1,424.3 555.6,424.8 556.1,425.3 556.6,425.8 557.1,426.3 557.6,426.8 558.1,427.2 558.6,427.7 559.1,428.1 559.6,428.5 560.1,428.9 560.6,429.3 561.1,429.7 561.6,430.1 562.1,430.5 562.6,430.9 563.1,431.3 563.6,431.7 564.1,432.1 564.6,432.5 565.1,432.9 565.6,433.3 566.1,433.7 566.6,434.1 567.1,434.5 567.6,434.8 568.1,435.2 568.6,435.5 569.1,435.9 569.6,436.3 570.1,436.6 570.6,436.9 571.1,437.3 571.6,437.6 572.1,437.9 572.6,438.2 573.1,438.5 573.6,438.8 574.1,439.1 574.6,439.3 575.1,439.6 575.6,439.9 576.1,440.2 576.6,440.4 577.1,440.7 577.6,441.0 578.1,441.2 578.6,441.5 579.1,441.8 579.6,442.0 580.1,442.3 580.6,442.5 581.1,442.8 581.6,443.0 582.1,443.2 582.6,443.5 583.1,443.7 583.6,443.9 584.1,444.1 584.6,444.3 585.1,444.6 585.6,444.8 586.1,445.0 586.6,445.2 587.1,445.4 587.6,445.6 588.1,445.7 588.6,445.9 589.1,446.1 589.6,446.3 590.1,446.4 590.6,446.6 591.1,446.8 591.6,446.9 592.1,447.1 592.6,447.2 593.1,447.4 593.6,447.5 594.1,447.6 594.6,447.8 595.1,447.9 595.6,448.1 596.1,448.2 596.6,448.3 597.1,448.5 597.6,448.6 598.1,448.7 598.6,448.8 599.1,448.9 599.6,449.1 600.1,449.2 600.6,449.3 601.1,449.4 601.6,449.5 602.1,449.6 602.6,449.7 603.1,449.9 603.6,450.0 604.1,450.1 604.6,450.2 605.1,450.3 605.6,450.4 606.1,450.5 606.6,450.6 607.1,450.7 607.6,450.8 608.1,450.9 608.6,451.0 609.1,451.1 609.6,451.2 610.1,451.3 610.6,451.4 611.1,451.4 611.6,451.5 612.1,451.6 612.6,451.7 613.1,451.8 613.6,451.9 614.1,452.0 614.6,452.1 615.1,452.2 615.6,452.2 616.1,452.3 616.6,452.4 617.1,452.5 617.6,452.6 618.1,452.7 618.6,452.7 619.1,452.8 619.6,452.9 620.1,453.0 620.6,453.0 621.1,453.1 621.6,453.2 622.1,453.2 622.6,453.3 623.1,453.4 623.6,453.4 624.1,453.5 624.6,453.6 625.1,453.6 625.6,453.7 626.1,453.7 626.6,453.8 627.1,453.8 627.6,453.9 628.1,454.0 628.6,454.0 629.1,454.1 629.6,454.1 630.1,454.2 630.6,454.2 631.1,454.3 631.6,454.3 632.1,454.4 632.6,454.4 633.1,454.5 633.6,454.5 634.1,454.6 634.6,454.6 635.1,454.7 635.6,454.7 636.1,454.8 636.6,454.8 637.1,454.9 637.6,454.9 638.1,455.0 638.6,455.0 639.1,455.1 639.6,455.1 640.1,455.1 640.6,455.2 641.1,455.2 641.6,455.3 642.1,455.3 642.6,455.3 643.1,455.4 643.6,455.4 644.1,455.4 644.6,455.5 645.1,455.5 645.6,455.5 646.1,455.6 646.6,455.6 647.1,455.6 647.6,455.7 648.1,455.7 648.6,455.7 649.1,455.8 649.6,455.8 650.1,455.8 650.6,455.8 651.1,455.9 651.6,455.9 652.1,455.9 652.6,455.9 653.1,456.0 653.6,456.0 654.1,456.0 654.6,456.0 655.1,456.0 655.6,456.1 656.1,456.1 656.6,456.1 657.1,456.1 657.6,456.2 658.1,456.2 658.6,456.2 659.1,456.2 659.6,456.3 660.1,456.3 660.6,456.3 661.1,456.3 661.6,456.3 662.1,456.4 662.6,456.4 663.1,456.4 663.6,456.4 664.1,456.5 664.6,456.5 665.1,456.5 665.6,456.5 666.1,456.5 666.6,456.6 667.1,456.6 667.6,456.6 668.1,456.6 668.6,456.6 669.1,456.7 669.6,456.7 670.1,456.7 670.6,456.7 671.1,456.7 671.6,456.7 672.1,456.8 672.6,456.8 673.1,456.8 673.6,456.8 674.1,456.8 674.6,456.9 675.1,456.9 675.6,456.9 676.1,456.9 676.6,456.9 677.1,456.9 677.6,457.0 678.1,457.0 678.6,457.0 679.1,457.0 679.6,457.0 680.1,457.0 680.6,457.0 681.1,457.1 681.6,457.1 682.1,457.1 682.6,457.1 683.1,457.1 683.6,457.1 684.1,457.1 684.6,457.2 685.1,457.2 685.6,457.2 686.1,457.2 686.6,457.2 687.1,457.2 687.6,457.2 688.1,457.2 688.6,457.2 689.1,457.3 689.6,457.3 690.1,457.3 690.6,457.3 691.1,457.3 691.6,457.3 692.1,457.3 692.6,457.3 693.1,457.3 693.6,457.3 694.1,457.3 694.6,457.3 695.1,457.4 695.6,457.4 696.1,457.4 696.6,457.4 697.1,457.4 697.6,457.4 698.1,457.4 698.6,457.4 699.1,457.4 699.6,457.4 700.1,457.4 700.6,457.4 701.1,457.4 701.6,457.4 702.1,457.4 702.6,457.4 703.1,457.4 703.6,457.4 704.1,457.4 704.6,457.4 705.1,457.4 705.6,457.4 706.1,457.4 706.6,457.4 707.1,457.4 707.6,457.4 708.1,457.5 708.6,457.5 709.1,457.5 709.6,457.5 710.1,457.5 710.6,457.5 711.1,457.5 711.6,457.5 712.1,457.5 712.6,457.5 713.1,457.5 713.6,457.5 714.1,457.5 714.6,457.5 715.1,457.5 715.6,457.5 716.1,457.5 716.6,457.5 717.1,457.5 717.6,457.5 718.1,457.5 718.6,457.5 719.1,457.5 719.6,457.5 720.1,457.5 720.6,457.5 721.1,457.5 721.6,457.5 722.1,457.5 722.6,457.5 723.1,457.5 723.6,457.5 724.1,457.5 724.6,457.5 725.1,457.5 725.6,457.5 726.1,457.5 726.6,457.6 727.1,457.6 727.6,457.6 728.1,457.6 728.6,457.6 729.1,457.6 729.6,457.6 730.1,457.6 730.6,457.6 731.1,457.6 731.6,457.6 732.1,457.6 732.6,457.6 733.1,457.6 733.6,457.6 734.1,457.6 734.6,457.6 735.1,457.6 735.6,457.6 736.1,457.6 736.6,457.6 737.1,457.6 737.6,457.6 738.1,457.6 738.6,457.6 739.1,457.6 739.6,457.6 740.1,457.6 740.6,457.6 741.1,457.6 741.6,457.6 742.1,457.6 742.6,457.6 743.1,457.6 743.6,457.6 744.1,457.6 744.6,457.6 745.1,457.6 745.6,457.6 746.1,457.6 746.6,457.6 747.1,457.6 747.6,457.6 748.1,457.6 748.6,457.6 749.1,457.7 749.6,457.7 750.1,457.7 750.6,457.7 751.1,457.7 751.6,457.7 752.1,457.7 752.6,457.7 753.1,457.7 753.6,457.7 754.1,457.7 754.6,457.7 755.1,457.7 755.6,457.7 756.1,457.7 756.6,457.7 757.1,457.7 757.6,457.7 758.1,457.7 758.6,457.7 759.1,457.7 759.6,457.7 760.1,457.7 760.6,457.7 761.1,457.7 761.6,457.7 762.1,457.7 762.6,457.7 763.1,457.7 763.6,457.7 764.1,457.7 764.6,457.7 765.1,457.7 765.6,457.7 766.1,457.7 766.6,457.7 767.1,457.7 767.6,457.7 768.1,457.7 768.6,457.7 769.1,457.7 769.6,457.7 770.1,457.7 770.6,457.7 771.1,457.7 771.6,457.7 772.1,457.7 772.6,457.7 773.1,457.7 773.6,457.7 774.1,457.7 774.6,457.7 775.1,457.7 775.6,457.7 776.1,457.7 776.6,457.7 777.1,457.7 777.6,457.7 778.1,457.7 778.6,457.7 779.1,457.7 779.6,457.7 780.1,457.7 780.6,457.7 781.1,457.7 781.6,457.7 782.1,457.8 782.6,457.8 783.1,457.8 783.6,457.8 784.1,457.8 784.6,457.8 785.1,457.8 785.6,457.8 786.1,457.8 786.6,457.8 787.1,457.8 787.6,457.8 788.1,457.8 788.6,457.8 789.1,457.8 789.6,457.8 790.1,457.8 790.6,457.8 791.1,457.8 791.6,457.8 792.1,457.8 792.6,457.8 793.1,457.8 793.6,457.8 794.1,457.8 794.6,457.8 795.1,457.8 795.6,457.8 796.1,457.8 796.6,457.8 797.1,457.8 797.6,457.8 798.1,457.8 798.6,457.8 799.1,457.8 799.6,457.8 800.1,457.8 800.6,457.8 801.1,457.8 801.6,457.8 802.1,457.8 802.6,457.8 803.1,457.8 803.6,457.8 804.1,457.8 804.6,457.8 805.1,457.8 805.6,457.8 806.1,457.8 806.6,457.8 807.1,457.8 807.6,457.8 808.1,457.8 808.6,457.8 809.1,457.8 809.6,457.8 810.1,457.8 810.6,457.8 811.1,457.8 811.6,457.8 812.1,457.8 812.6,457.8 813.1,457.8 813.6,457.8 814.1,457.8 814.6,457.8 815.1,457.8 815.6,457.8 816.1,457.8 816.6,457.8 817.1,457.8 817.6,457.8 818.1,457.8 818.6,457.8 819.1,457.8 819.6,457.8 820.1,457.8 820.6,457.8 821.1,457.8 821.6,457.8 822.1,457.8 822.6,457.8 823.1,457.8 823.6,457.8 824.1,457.8 824.6,457.8 825.1,457.8 825.6,457.8 826.1,457.8 826.6,457.8 827.1,457.8 827.6,457.8 828.1,457.8"/>
<polyline stroke="#d426d8" points="161.0,458.6 197.0,458.6 199.0,460.4 201.0,458.6 345.0,458.4 348.3,458.6 349.0,460.6 349.6,458.8 349.0,458.5 349.5,455.5 350.0,452.6 350.5,449.7 351.0,446.8 351.5,444.0 352.0,441.2 352.5,438.4 353.0,435.7 353.5,433.0 354.0,430.4 354.5,427.9 355.0,425.6 355.5,423.3 356.0,421.0 356.5,418.7 357.0,416.4 357.5,414.2 358.0,412.1 358.5,410.0 359.0,408.0 359.5,406.2 360.0,404.4 360.5,402.7 361.0,401.1 361.5,399.7 362.0,398.4 362.5,397.1 363.0,395.9 363.5,394.6 364.0,393.5 364.5,392.3 365.0,391.2 365.5,390.2 366.0,389.2 366.5,388.2 367.0,387.2 367.5,386.2 368.0,385.3 368.5,384.4 369.0,383.6 369.5,382.7 370.0,381.9 370.5,381.1 371.0,380.3 371.5,379.5 372.0,378.8 372.5,378.0 373.0,377.3 373.5,376.5 374.0,375.8 374.5,375.1 375.0,374.4 375.5,373.7 376.0,373.0 376.5,372.3 377.0,371.7 377.5,371.0 378.0,370.4 378.5,369.7 379.0,369.1 379.5,368.5 380.0,367.9 380.5,367.4 381.0,366.8 381.5,366.2 382.0,365.7 382.5,365.2 383.0,364.7 383.5,364.2 384.0,363.7 384.5,363.3 385.0,362.8 385.5,362.4 386.0,362.0 386.5,361.6 387.0,361.2 387.5,360.8 388.0,360.5 388.5,360.1 389.0,359.7 389.5,359.4 390.0,359.1 390.5,358.7 391.0,358.4 391.5,358.1 392.0,357.8 392.5,357.5 393.0,357.2 393.5,356.9 394.0,356.6 394.5,356.3 395.0,356.0 395.5,355.7 396.0,355.5 396.5,355.2 397.0,355.0 397.5,354.7 398.0,354.5 398.5,354.3 399.0,354.0 399.5,353.8 400.0,353.6 400.5,353.4 401.0,353.2 401.5,353.0 402.0,352.8 402.5,352.6 403.0,352.4 403.5,352.2 404.0,352.1 404.5,351.9 405.0,351.7 405.5,351.6 406.0,351.4 406.5,351.3 407.0,351.1 407.5,350.9 408.0,350.8 408.5,350.6 409.0,350.5 409.5,350.3 410.0,350.2 410.5,350.1 411.0,349.9 411.5,349.8 412.0,349.6 412.5,349.5 413.0,349.3 413.5,349.2 414.0,349.0 414.5,348.9 415.0,348.8 415.5,348.6 416.0,348.5 416.5,348.3 417.0,348.2 417.5,348.1 418.0,347.9 418.5,347.8 419.0,347.7 419.5,347.6 420.0,347.4 420.5,347.3 421.0,347.2 421.5,347.1 422.0,347.0 422.5,346.9 423.0,346.8 423.5,346.7 424.0,346.6 424.5,346.5 425.0,346.4 425.5,346.3 426.0,346.2 426.5,346.1 427.0,346.1 427.5,346.0 428.0,345.9 428.5,345.8 429.0,345.8 429.5,345.7 430.0,345.6 430.5,345.6 431.0,345.5 431.5,345.4 432.0,345.4 432.5,345.3 433.0,345.2 433.5,345.2 434.0,345.1 434.5,345.0 435.0,345.0 435.5,344.9 436.0,344.9 436.5,344.8 437.0,344.8 437.5,344.7 438.0,344.6 438.5,344.6 439.0,344.5 439.5,344.5 440.0,344.4 440.5,344.3 441.0,344.3 441.5,344.2 442.0,344.2 442.5,344.1 443.0,344.0 443.5,344.0 444.0,343.9 444.5,343.9 445.0,343.8 445.5,343.8 446.0,343.7 446.5,343.6 447.0,343.6 447.5,343.5 448.0,343.5 448.5,343.4 449.0,343.4 449.5,343.3 450.0,343.3 450.5,343.2 451.0,343.2 451.5,343.1 452.0,343.1 452.5,343.0 453.0,343.0 453.5,342.9 454.0,342.9 454.5,342.8 455.0,342.8 455.5,342.8 456.0,342.7 456.5,342.7 457.0,342.6 457.5,342.6 458.0,342.5 458.5,342.5 459.0,342.5 459.5,342.4 460.0,342.4 460.5,342.3 461.0,342.3 461.5,342.3 462.0,342.2 462.5,342.2 463.0,342.2 463.5,342.1 464.0,342.1 464.5,342.1 465.0,342.0 465.5,342.0 466.0,342.0 466.5,341.9 467.0,341.9 467.5,341.9 468.0,341.9 468.5,341.8 469.0,341.8 469.5,341.8 470.0,341.8 470.5,341.8 471.0,341.8 471.5,341.8 472.0,341.8 472.5,341.7 473.0,341.7 473.5,341.7 474.0,341.7 474.5,341.7 475.0,341.7 475.5,341.7 476.0,341.7 476.5,341.7 477.0,341.7 477.5,341.6 478.0,341.6 478.5,341.6 479.0,341.6 479.5,341.6 480.0,341.6 480.5,341.6 481.0,341.6 481.5,341.6 482.0,341.6 482.5,341.6 483.0,341.6 483.5,341.6 484.0,341.6 484.5,341.5 485.0,341.5 485.5,341.5 486.0,341.5 486.5,341.5 487.0,341.5 487.5,341.5 488.0,341.5 488.5,341.5 489.0,341.5 489.5,341.5 490.0,341.5 490.5,341.5 491.0,341.5 491.5,341.5 492.0,341.5 492.5,341.5 493.0,341.5 493.5,341.5 494.0,341.4 494.5,341.4 495.0,341.4 495.5,341.4 496.0,341.4 496.5,341.4 497.0,341.4 497.5,341.4 498.0,341.4 498.5,341.4 499.0,341.4 499.5,341.4 500.0,341.4 500.5,341.4 501.0,341.4 501.5,341.4 502.0,341.4 502.5,341.4 503.0,341.4 503.5,341.4 504.0,341.4 504.5,341.4 505.0,341.4 505.5,341.4 506.0,341.4 506.5,341.4 507.0,341.4 507.5,341.4 508.0,341.4 508.5,341.4 509.0,341.4 509.5,341.4 510.0,341.4 510.5,341.4 511.0,341.4 511.5,341.4 512.0,341.3 512.5,341.3 513.0,341.3 513.5,341.3 514.0,341.3 514.5,341.3 515.0,341.3 515.5,341.3 516.0,341.3 516.5,341.3 517.0,341.3 517.5,341.2 518.0,341.0 518.5,340.7 519.0,340.5 519.5,340.3 520.0,340.2 520.5,340.2 521.0,340.2 521.5,340.2 522.0,340.2 522.5,340.2 523.0,340.2 523.5,340.2 524.0,340.2 524.5,340.2 525.0,340.2 525.5,340.2 526.0,340.2 526.5,340.2 527.0,340.2 527.5,340.2 528.0,340.2 528.5,340.2 529.0,340.2 529.5,340.2 530.0,340.2 530.5,340.2 531.0,340.2 531.5,340.2 532.0,340.2 532.5,340.2 533.0,340.2 533.5,340.2 534.0,340.2 534.5,340.2 535.0,340.2 535.5,340.2 536.0,340.2 536.5,340.2 537.0,340.2 537.5,340.2 538.0,340.2 538.5,340.2 540.6,335.0 541.6,341.0 541.6,341.0 542.1,344.1 542.6,347.1 543.1,350.1 543.6,352.9 544.1,355.5 544.6,358.1 545.1,360.5 545.6,362.7 546.1,364.8 546.6,366.8 547.1,368.7 547.6,370.6 548.1,372.5 548.6,374.4 549.1,376.3 549.6,378.3 550.1,380.4 550.6,382.5 551.1,384.6 551.6,386.7 552.1,388.7 552.6,390.6 553.1,392.3 553.6,394.1 554.1,395.8 554.6,397.4 555.1,399.0 555.6,400.4 556.1,401.8 556.6,403.1 557.1,404.2 557.6,405.3 558.1,406.3 558.6,407.3 559.1,408.2 559.6,409.1 560.1,409.9 560.6,410.8 561.1,411.6 561.6,412.4 562.1,413.2 562.6,413.9 563.1,414.7 563.6,415.5 564.1,416.3 564.6,417.0 565.1,417.7 565.6,418.4 566.1,419.1 566.6,419.8 567.1,420.4 567.6,421.0 568.1,421.5 568.6,422.0 569.1,422.5 569.6,422.9 570.1,423.4 570.6,423.8 571.1,424.3 571.6,424.7 572.1,425.1 572.6,425.5 573.1,425.8 573.6,426.2 574.1,426.6 574.6,426.9 575.1,427.3 575.6,427.6 576.1,427.9 576.6,428.3 577.1,428.6 577.6,428.9 578.1,429.3 578.6,429.6 579.1,429.9 579.6,430.3 580.1,430.6 580.6,430.9 581.1,431.3 581.6,431.6 582.1,432.0 582.6,432.3 583.1,432.7 583.6,433.1 584.1,433.5 584.6,433.8 585.1,434.2 585.6,434.6 586.1,434.9 586.6,435.3 587.1,435.7 587.6,436.1 588.1,436.4 588.6,436.8 589.1,437.1 589.6,437.5 590.1,437.8 590.6,438.2 591.1,438.5 591.6,438.8 592.1,439.2 592.6,439.5 593.1,439.8 593.6,440.0 594.1,440.3 594.6,440.6 595.1,440.9 595.6,441.1 596.1,441.3 596.6,441.6 597.1,441.8 597.6,442.0 598.1,442.3 598.6,442.5 599.1,442.7 599.6,442.9 600.1,443.2 600.6,443.4 601.1,443.6 601.6,443.8 602.1,444.0 602.6,444.2 603.1,444.4 603.6,444.5 604.1,444.7 604.6,444.9 605.1,445.1 605.6,445.3 606.1,445.4 606.6,445.6 607.1,445.8 607.6,445.9 608.1,446.1 608.6,446.3 609.1,446.4 609.6,446.6 610.1,446.7 610.6,446.9 611.1,447.0 611.6,447.2 612.1,447.3 612.6,447.5 613.1,447.6 613.6,447.7 614.1,447.9 614.6,448.0 615.1,448.2 615.6,448.3 616.1,448.4 616.6,448.6 617.1,448.7 617.6,448.8 618.1,448.9 618.6,449.1 619.1,449.2 619.6,449.3 620.1,449.4 620.6,449.5 621.1,449.6 621.6,449.8 622.1,449.9 622.6,450.0 623.1,450.1 623.6,450.2 624.1,450.3 624.6,450.4 625.1,450.5 625.6,450.6 626.1,450.7 626.6,450.8 627.1,450.9 627.6,451.0 628.1,451.1 628.6,451.1 629.1,451.2 629.6,451.3 630.1,451.4 630.6,451.5 631.1,451.6 631.6,451.7 632.1,451.7 632.6,451.8 633.1,451.9 633.6,452.0 634.1,452.1 634.6,452.1 635.1,452.2 635.6,452.3 636.1,452.4 636.6,452.4 637.1,452.5 637.6,452.6 638.1,452.7 638.6,452.7 639.1,452.8 639.6,452.9 640.1,452.9 640.6,453.0 641.1,453.0 641.6,453.1 642.1,453.2 642.6,453.2 643.1,453.3 643.6,453.3 644.1,453.4 644.6,453.4 645.1,453.5 645.6,453.6 646.1,453.6 646.6,453.7 647.1,453.7 647.6,453.8 648.1,453.8 648.6,453.9 649.1,453.9 649.6,454.0 650.1,454.0 650.6,454.1 651.1,454.1 651.6,454.2 652.1,454.2 652.6,454.3 653.1,454.3 653.6,454.4 654.1,454.4 654.6,454.5 655.1,454.5 655.6,454.6 656.1,454.6 656.6,454.7 657.1,454.7 657.6,454.8 658.1,454.8 658.6,454.8 659.1,454.9 659.6,454.9 660.1,455.0 660.6,455.0 661.1,455.0 661.6,455.1 662.1,455.1 662.6,455.2 663.1,455.2 663.6,455.2 664.1,455.3 664.6,455.3 665.1,455.3 665.6,455.4 666.1,455.4 666.6,455.4 667.1,455.5 667.6,455.5 668.1,455.5 668.6,455.5 669.1,455.6 669.6,455.6 670.1,455.6 670.6,455.6 671.1,455.6 671.6,455.7 672.1,455.7 672.6,455.7 673.1,455.7 673.6,455.8 674.1,455.8 674.6,455.8 675.1,455.8 675.6,455.8 676.1,455.9 676.6,455.9 677.1,455.9 677.6,455.9 678.1,455.9 678.6,456.0 679.1,456.0 679.6,456.0 680.1,456.0 680.6,456.0 681.1,456.1 681.6,456.1 682.1,456.1 682.6,456.1 683.1,456.1 683.6,456.2 684.1,456.2 684.6,456.2 685.1,456.2 685.6,456.2 686.1,456.2 686.6,456.3 687.1,456.3 687.6,456.3 688.1,456.3 688.6,456.3 689.1,456.3 689.6,456.4 690.1,456.4 690.6,456.4 691.1,456.4 691.6,456.4 692.1,456.4 692.6,456.5 693.1,456.5 693.6,456.5 694.1,456.5 694.6,456.5 695.1,456.5 695.6,456.6 696.1,456.6 696.6,456.6 697.1,456.6 697.6,456.6 698.1,456.6 698.6,456.6 699.1,456.6 699.6,456.7 700.1,456.7 700.6,456.7 701.1,456.7 701.6,456.7 702.1,456.7 702.6,456.7 703.1,456.7 703.6,456.8 704.1,456.8 704.6,456.8 705.1,456.8 705.6,456.8 706.1,456.8 706.6,456.8 707.1,456.8 707.6,456.8 708.1,456.8 708.6,456.9 709.1,456.9 709.6,456.9 710.1,456.9 710.6,456.9 711.1,456.9 711.6,456.9 712.1,456.9 712.6,456.9 713.1,456.9 713.6,456.9 714.1,456.9 714.6,456.9 715.1,457.0 715.6,457.0 716.1,457.0 716.6,457.0 717.1,457.0 717.6,457.0 718.1,457.0 718.6,457.0 719.1,457.0 719.6,457.0 720.1,457.0 720.6,457.0 721.1,457.0 721.6,457.0 722.1,457.0 722.6,457.0 723.1,457.0 723.6,457.0 724.1,457.0 724.6,457.0 725.1,457.0 725.6,457.0 726.1,457.0 726.6,457.0 727.1,457.0 727.6,457.1 728.1,457.1 728.6,457.1 729.1,457.1 729.6,457.1 730.1,457.1 730.6,457.1 731.1,457.1 731.6,457.1 732.1,457.1 732.6,457.1 733.1,457.1 733.6,457.1 734.1,457.1 734.6,457.1 735.1,457.1 735.6,457.1 736.1,457.1 736.6,457.1 737.1,457.1 737.6,457.1 738.1,457.1 738.6,457.1 739.1,457.1 739.6,457.1 740.1,457.1 740.6,457.1 741.1,457.1 741.6,457.1 742.1,457.1 742.6,457.1 743.1,457.1 743.6,457.2 744.1,457.2 744.6,457.2 745.1,457.2 745.6,457.2 746.1,457.2 746.6,457.2 747.1,457.2 747.6,457.2 748.1,457.2 748.6,457.2 749.1,457.2 749.6,457.2 750.1,457.2 750.6,457.2 751.1,457.2 751.6,457.2 752.1,457.2 752.6,457.2 753.1,457.2 753.6,457.2 754.1,457.2 754.6,457.2 755.1,457.2 755.6,457.2 756.1,457.2 756.6,457.2 757.1,457.2 757.6,457.2 758.1,457.2 758.6,457.2 759.1,457.2 759.6,457.2 760.1,457.2 760.6,457.2 761.1,457.2 761.6,457.2 762.1,457.2 762.6,457.2 763.1,457.3 763.6,457.3 764.1,457.3 764.6,457.3 765.1,457.3 765.6,457.3 766.1,457.3 766.6,457.3 767.1,457.3 767.6,457.3 768.1,457.3 768.6,457.3 769.1,457.3 769.6,457.3 770.1,457.3 770.6,457.3 771.1,457.3 771.6,457.3 772.1,457.3 772.6,457.3 773.1,457.3 773.6,457.3 774.1,457.3 774.6,457.3 775.1,457.3 775.6,457.3 776.1,457.3 776.6,457.3 777.1,457.3 777.6,457.3 778.1,457.3 778.6,457.3 779.1,457.3 779.6,457.3 780.1,457.3 780.6,457.3 781.1,457.3 781.6,457.3 782.1,457.3 782.6,457.3 783.1,457.3 783.6,457.3 784.1,457.3 784.6,457.3 785.1,457.3 785.6,457.3 786.1,457.3 786.6,457.3 787.1,457.3 787.6,457.3 788.1,457.3 788.6,457.3 789.1,457.3 789.6,457.3 790.1,457.3 790.6,457.3 791.1,457.4 791.6,457.4 792.1,457.4 792.6,457.4 793.1,457.4 793.6,457.4 794.1,457.4 794.6,457.4 795.1,457.4 795.6,457.4 796.1,457.4 796.6,457.4 797.1,457.4 797.6,457.4 798.1,457.4 798.6,457.4 799.1,457.4 799.6,457.4 800.1,457.4 800.6,457.4 801.1,457.4 801.6,457.4 802.1,457.4 802.6,457.4 803.1,457.4 803.6,457.4 804.1,457.4 804.6,457.4 805.1,457.4 805.6,457.4 806.1,457.4 806.6,457.4 807.1,457.4 807.6,457.4 808.1,457.4 808.6,457.4 809.1,457.4 809.6,457.4 810.1,457.4 810.6,457.4 811.1,457.4 811.6,457.4 812.1,457.4 812.6,457.4 813.1,457.4 813.6,457.4 814.1,457.4 814.6,457.4 815.1,457.4 815.6,457.4 816.1,457.4 816.6,457.4 817.1,457.4 817.6,457.4 818.1,457.4 818.6,457.4 819.1,457.4 819.6,457.4 820.1,457.4 820.6,457.4 821.1,457.4 821.6,457.4 822.1,457.4 822.6,457.4 823.1,457.4 823.6,457.4 824.1,457.4 824.6,457.4 825.1,457.4 825.6,457.4 826.1,457.4 826.6,457.4 827.1,457.4 827.6,457.4 828.1,457.4"/>
<polyline stroke="#2bbcc2" points="161.0,458.8 347.6,458.8 348.4,461.6 349.3,458.8 349.0,458.5 349.5,444.6 350.0,436.7 350.5,429.1 351.0,422.4 351.5,416.6 352.0,411.3 352.5,406.3 353.0,401.7 353.5,397.3 354.0,393.0 354.5,388.8 355.0,384.8 355.5,381.0 356.0,377.2 356.5,373.6 357.0,370.2 357.5,366.8 358.0,363.5 358.5,360.3 359.0,357.1 359.5,354.1 360.0,351.2 360.5,348.5 361.0,345.8 361.5,343.4 362.0,341.0 362.5,338.6 363.0,336.3 363.5,334.1 364.0,332.0 364.5,330.0 365.0,328.0 365.5,326.0 366.0,324.2 366.5,322.4 367.0,320.6 367.5,318.9 368.0,317.3 368.5,315.7 369.0,314.2 369.5,312.7 370.0,311.2 370.5,309.7 371.0,308.4 371.5,307.0 372.0,305.7 372.5,304.4 373.0,303.1 373.5,301.9 374.0,300.7 374.5,299.6 375.0,298.4 375.5,297.3 376.0,296.2 376.5,295.1 377.0,294.0 377.5,293.0 378.0,291.9 378.5,291.0 379.0,290.1 379.5,289.2 380.0,288.4 380.5,287.7 381.0,287.0 381.5,286.4 382.0,285.9 382.5,285.4 383.0,284.9 383.5,284.5 384.0,284.0 384.5,283.5 385.0,283.0 385.5,282.4 386.0,281.8 386.5,281.2 387.0,280.6 387.5,280.0 388.0,279.4 388.5,278.8 389.0,278.2 389.5,277.6 390.0,277.1 390.5,276.5 391.0,276.0 391.5,275.5 392.0,275.0 392.5,274.5 393.0,274.0 393.5,273.5 394.0,273.0 394.5,272.5 395.0,272.0 395.5,271.6 396.0,271.1 396.5,270.6 397.0,270.2 397.5,269.7 398.0,269.3 398.5,268.8 399.0,268.4 399.5,268.0 400.0,267.6 400.5,267.2 401.0,266.9 401.5,266.5 402.0,266.2 402.5,265.9 403.0,265.5 403.5,265.3 404.0,265.0 404.5,264.7 405.0,264.5 405.5,264.3 406.0,264.0 406.5,263.8 407.0,263.6 407.5,263.4 408.0,263.1 408.5,262.9 409.0,262.7 409.5,262.5 410.0,262.4 410.5,262.2 411.0,262.0 411.5,261.8 412.0,261.6 412.5,261.5 413.0,261.3 413.5,261.1 414.0,261.0 414.5,260.8 415.0,260.7 415.5,260.5 416.0,260.4 416.5,260.2 417.0,260.1 417.5,260.0 418.0,259.9 418.5,259.7 419.0,259.6 419.5,259.5 420.0,259.4 420.5,259.2 421.0,259.1 421.5,259.0 422.0,258.9 422.5,258.8 423.0,258.7 423.5,258.6 424.0,258.4 424.5,258.3 425.0,258.2 425.5,258.1 426.0,258.0 426.5,257.9 427.0,257.8 427.5,257.7 428.0,257.6 428.5,257.5 429.0,257.4 429.5,257.3 430.0,257.2 430.5,257.2 431.0,257.1 431.5,257.0 432.0,256.9 432.5,256.8 433.0,256.7 433.5,256.7 434.0,256.6 434.5,256.5 435.0,256.4 435.5,256.4 436.0,256.3 436.5,256.2 437.0,256.2 437.5,256.1 438.0,256.0 438.5,256.0 439.0,255.9 439.5,255.9 440.0,255.8 440.5,255.7 441.0,255.7 441.5,255.7 442.0,255.6 442.5,255.6 443.0,255.5 443.5,255.5 444.0,255.4 444.5,255.4 445.0,255.4 445.5,255.3 446.0,255.3 446.5,255.3 447.0,255.2 447.5,255.2 448.0,255.2 448.5,255.1 449.0,255.1 449.5,255.0 450.0,255.0 450.5,255.0 451.0,254.9 451.5,254.9 452.0,254.8 452.5,254.8 453.0,254.8 453.5,254.7 454.0,254.7 454.5,254.6 455.0,254.6 455.5,254.6 456.0,254.5 456.5,254.5 457.0,254.4 457.5,254.4 458.0,254.3 458.5,254.3 459.0,254.3 459.5,254.2 460.0,254.2 460.5,254.1 461.0,254.1 461.5,254.1 462.0,254.0 462.5,254.0 463.0,253.9 463.5,253.9 464.0,253.9 464.5,253.8 465.0,253.8 465.5,253.8 466.0,253.7 466.5,253.7 467.0,253.7 467.5,253.6 468.0,253.6 468.5,253.6 469.0,253.5 469.5,253.5 470.0,253.5 470.5,253.4 471.0,253.4 471.5,253.4 472.0,253.3 472.5,253.3 473.0,253.3 473.5,253.2 474.0,253.2 474.5,253.2 475.0,253.1 475.5,253.1 476.0,253.1 476.5,253.0 477.0,253.0 477.5,253.0 478.0,252.9 478.5,252.9 479.0,252.9 479.5,252.8 480.0,252.8 480.5,252.8 481.0,252.7 481.5,252.7 482.0,252.7 482.5,252.6 483.0,252.6 483.5,252.5 484.0,252.5 484.5,252.5 485.0,252.4 485.5,252.4 486.0,252.4 486.5,252.3 487.0,252.3 487.5,252.2 488.0,252.2 488.5,252.2 489.0,252.1 489.5,252.1 490.0,252.1 490.5,252.0 491.0,252.0 491.5,251.9 492.0,251.9 492.5,251.8 493.0,251.8 493.5,251.7 494.0,251.7 494.5,251.6 495.0,251.6 495.5,251.5 496.0,251.5 496.5,251.4 497.0,251.3 497.5,251.2 498.0,251.2 498.5,251.1 499.0,251.0 499.5,251.0 500.0,251.0 500.5,251.0 501.0,251.0 501.5,251.0 502.0,251.0 502.5,251.0 503.0,251.0 503.5,251.0 504.0,251.0 504.5,251.0 505.0,251.0 505.5,251.0 506.0,251.0 506.5,251.0 507.0,251.0 507.5,251.0 508.0,251.0 508.5,251.0 509.0,251.0 509.5,251.0 510.0,251.0 510.5,251.0 511.0,251.0 511.5,251.0 512.0,251.0 512.5,251.0 513.0,251.0 513.5,251.0 514.0,251.0 514.5,251.0 515.0,251.0 515.5,251.0 516.0,251.0 516.5,251.0 517.0,251.0 517.5,251.0 518.0,251.0 518.5,251.0 519.0,251.0 519.5,251.0 520.0,251.0 520.5,251.0 521.0,251.0 521.5,251.0 522.0,251.0 522.5,251.0 523.0,251.0 523.5,251.0 524.0,251.0 524.5,251.0 525.0,251.0 525.5,251.0 526.0,251.0 526.5,250.4 527.0,249.8 527.5,249.8 528.0,249.8 528.5,249.8 529.0,249.8 529.5,249.8 530.0,249.8 530.5,249.8 531.0,249.8 531.5,249.8 532.0,249.8 532.5,249.8 533.0,249.8 533.5,249.8 534.0,249.8 534.5,249.8 535.0,249.8 535.5,249.8 536.0,249.8 536.5,249.8 537.0,249.8 537.5,249.9 538.0,250.0 538.5,250.1 539.0,250.2 539.5,250.2 540.0,250.3 540.3,250.4 540.8,253.3 541.3,256.2 541.8,259.2 542.3,262.2 542.8,265.3 543.3,268.5 543.8,271.7 544.3,274.9 544.8,278.3 545.3,281.6 545.8,285.0 546.3,288.4 546.8,291.9 547.3,295.5 547.8,299.1 548.3,302.9 548.8,306.8 549.3,310.8 549.8,315.4 550.3,320.3 550.8,325.5 551.3,330.8 551.8,335.9 552.3,340.7 552.8,344.9 553.3,348.3 553.8,351.2 554.3,354.0 554.8,356.6 555.3,359.0 555.8,361.3 556.3,363.5 556.8,365.5 557.3,367.5 557.8,369.4 558.3,371.1 558.8,372.8 559.3,374.5 559.8,376.1 560.3,377.6 560.8,379.1 561.3,380.5 561.8,381.9 562.3,383.2 562.8,384.5 563.3,385.8 563.8,387.0 564.3,388.1 564.8,389.3 565.3,390.4 565.8,391.5 566.3,392.5 566.8,393.6 567.3,394.6 567.8,395.7 568.3,396.7 568.8,397.7 569.3,398.7 569.8,399.8 570.3,400.8 570.8,401.8 571.3,402.7 571.8,403.7 572.3,404.6 572.8,405.5 573.3,406.4 573.8,407.3 574.3,408.1 574.8,409.0 575.3,409.7 575.8,410.5 576.3,411.2 576.8,411.8 577.3,412.5 577.8,413.1 578.3,413.6 578.8,414.2 579.3,414.8 579.8,415.3 580.3,415.8 580.8,416.3 581.3,416.8 581.8,417.3 582.3,417.7 582.8,418.2 583.3,418.6 583.8,419.1 584.3,419.5 584.8,420.0 585.3,420.4 585.8,420.9 586.3,421.3 586.8,421.8 587.3,422.3 587.8,422.7 588.3,423.2 588.8,423.6 589.3,424.1 589.8,424.6 590.3,425.0 590.8,425.5 591.3,425.9 591.8,426.4 592.3,426.8 592.8,427.3 593.3,427.7 593.8,428.1 594.3,428.5 594.8,429.0 595.3,429.4 595.8,429.8 596.3,430.2 596.8,430.6 597.3,431.0 597.8,431.3 598.3,431.7 598.8,432.1 599.3,432.4 599.8,432.8 600.3,433.1 600.8,433.5 601.3,433.8 601.8,434.2 602.3,434.5 602.8,434.8 603.3,435.2 603.8,435.5 604.3,435.8 604.8,436.1 605.3,436.4 605.8,436.8 606.3,437.1 606.8,437.4 607.3,437.7 607.8,437.9 608.3,438.2 608.8,438.5 609.3,438.8 609.8,439.0 610.3,439.3 610.8,439.6 611.3,439.8 611.8,440.0 612.3,440.3 612.8,440.5 613.3,440.7 613.8,441.0 614.3,441.2 614.8,441.4 615.3,441.6 615.8,441.8 616.3,442.1 616.8,442.3 617.3,442.5 617.8,442.7 618.3,442.9 618.8,443.1 619.3,443.3 619.8,443.4 620.3,443.6 620.8,443.8 621.3,444.0 621.8,444.2 622.3,444.4 622.8,444.5 623.3,444.7 623.8,444.9 624.3,445.0 624.8,445.2 625.3,445.4 625.8,445.5 626.3,445.7 626.8,445.8 627.3,446.0 627.8,446.1 628.3,446.3 628.8,446.4 629.3,446.6 629.8,446.7 630.3,446.9 630.8,447.0 631.3,447.2 631.8,447.3 632.3,447.4 632.8,447.6 633.3,447.7 633.8,447.8 634.3,448.0 634.8,448.1 635.3,448.2 635.8,448.3 636.3,448.5 636.8,448.6 637.3,448.7 637.8,448.8 638.3,449.0 638.8,449.1 639.3,449.2 639.8,449.3 640.3,449.4 640.8,449.5 641.3,449.6 641.8,449.7 642.3,449.8 642.8,449.9 643.3,450.0 643.8,450.1 644.3,450.2 644.8,450.3 645.3,450.4 645.8,450.5 646.3,450.5 646.8,450.6 647.3,450.7 647.8,450.8 648.3,450.9 648.8,450.9 649.3,451.0 649.8,451.1 650.3,451.2 650.8,451.3 651.3,451.3 651.8,451.4 652.3,451.5 652.8,451.5 653.3,451.6 653.8,451.7 654.3,451.7 654.8,451.8 655.3,451.9 655.8,452.0 656.3,452.0 656.8,452.1 657.3,452.2 657.8,452.2 658.3,452.3 658.8,452.3 659.3,452.4 659.8,452.5 660.3,452.5 660.8,452.6 661.3,452.7 661.8,452.7 662.3,452.8 662.8,452.9 663.3,452.9 663.8,453.0 664.3,453.0 664.8,453.1 665.3,453.2 665.8,453.2 666.3,453.3 666.8,453.4 667.3,453.4 667.8,453.5 668.3,453.5 668.8,453.6 669.3,453.7 669.8,453.7 670.3,453.8 670.8,453.8 671.3,453.9 671.8,453.9 672.3,454.0 672.8,454.1 673.3,454.1 673.8,454.2 674.3,454.2 674.8,454.3 675.3,454.3 675.8,454.4 676.3,454.4 676.8,454.5 677.3,454.5 677.8,454.6 678.3,454.6 678.8,454.7 679.3,454.7 679.8,454.7 680.3,454.8 680.8,454.8 681.3,454.9 681.8,454.9 682.3,454.9 682.8,455.0 683.3,455.0 683.8,455.1 684.3,455.1 684.8,455.1 685.3,455.2 685.8,455.2 686.3,455.2 686.8,455.3 687.3,455.3 687.8,455.4 688.3,455.4 688.8,455.4 689.3,455.5 689.8,455.5 690.3,455.5 690.8,455.6 691.3,455.6 691.8,455.6 692.3,455.6 692.8,455.7 693.3,455.7 693.8,455.7 694.3,455.8 694.8,455.8 695.3,455.8 695.8,455.8 696.3,455.9 696.8,455.9 697.3,455.9 697.8,455.9 698.3,455.9 698.8,456.0 699.3,456.0 699.8,456.0 700.3,456.0 700.8,456.0 701.3,456.0 701.8,456.1 702.3,456.1 702.8,456.1 703.3,456.1 703.8,456.1 704.3,456.1 704.8,456.1 705.3,456.2 705.8,456.2 706.3,456.2 706.8,456.2 707.3,456.2 707.8,456.2 708.3,456.2 708.8,456.3 709.3,456.3 709.8,456.3 710.3,456.3 710.8,456.3 711.3,456.3 711.8,456.3 712.3,456.4 712.8,456.4 713.3,456.4 713.8,456.4 714.3,456.4 714.8,456.4 715.3,456.4 715.8,456.4 716.3,456.5 716.8,456.5 717.3,456.5 717.8,456.5 718.3,456.5 718.8,456.5 719.3,456.5 719.8,456.5 720.3,456.5 720.8,456.6 721.3,456.6 721.8,456.6 722.3,456.6 722.8,456.6 723.3,456.6 723.8,456.6 724.3,456.6 724.8,456.6 725.3,456.6 725.8,456.6 726.3,456.7 726.8,456.7 727.3,456.7 727.8,456.7 728.3,456.7 728.8,456.7 729.3,456.7 729.8,456.7 730.3,456.7 730.8,456.7 731.3,456.7 731.8,456.7 732.3,456.7 732.8,456.7 733.3,456.7 733.8,456.8 734.3,456.8 734.8,456.8 735.3,456.8 735.8,456.8 736.3,456.8 736.8,456.8 737.3,456.8 737.8,456.8 738.3,456.8 738.8,456.8 739.3,456.8 739.8,456.8 740.3,456.8 740.8,456.8 741.3,456.8 741.8,456.8 742.3,456.8 742.8,456.8 743.3,456.8 743.8,456.8 744.3,456.8 744.8,456.8 745.3,456.8 745.8,456.8 746.3,456.8 746.8,456.8 747.3,456.8 747.8,456.8 748.3,456.8 748.8,456.8 749.3,456.8 749.8,456.8 750.3,456.8 750.8,456.8 751.3,456.8 751.8,456.8 752.3,456.9 752.8,456.9 753.3,456.9 753.8,456.9 754.3,456.9 754.8,456.9 755.3,456.9 755.8,456.9 756.3,456.9 756.8,456.9 757.3,456.9 757.8,456.9 758.3,456.9 758.8,456.9 759.3,456.9 759.8,456.9 760.3,456.9 760.8,456.9 761.3,456.9 761.8,456.9 762.3,456.9 762.8,456.9 763.3,456.9 763.8,456.9 764.3,456.9 764.8,456.9 765.3,456.9 765.8,456.9 766.3,456.9 766.8,456.9 767.3,456.9 767.8,456.9 768.3,456.9 768.8,456.9 769.3,456.9 769.8,456.9 770.3,456.9 770.8,456.9 771.3,456.9 771.8,456.9 772.3,456.9 772.8,456.9 773.3,456.9 773.8,456.9 774.3,456.9 774.8,456.9 775.3,456.9 775.8,456.9 776.3,456.9 776.8,456.9 777.3,456.9 777.8,456.9 778.3,456.9 778.8,456.9 779.3,456.9 779.8,456.9 780.3,456.9 780.8,456.9 781.3,456.9 781.8,456.9 782.3,456.9 782.8,456.9 783.3,456.9 783.8,456.9 784.3,457.0 784.8,457.0 785.3,457.0 785.8,457.0 786.3,457.0 786.8,457.0 787.3,457.0 787.8,457.0 788.3,457.0 788.8,457.0 789.3,457.0 789.8,457.0 790.3,457.0 790.8,457.0 791.3,457.0 791.8,457.0 792.3,457.0 792.8,457.0 793.3,457.0 793.8,457.0 794.3,457.0 794.8,457.0 795.3,457.0 795.8,457.0 796.3,457.0 796.8,457.0 797.3,457.0 797.8,457.0 798.3,457.0 798.8,457.0 799.3,457.0 799.8,457.0 800.3,457.0 800.8,457.0 801.3,457.0 801.8,457.0 802.3,457.0 802.8,457.0 803.3,457.0 803.8,457.0 804.3,457.0 804.8,457.0 805.3,457.0 805.8,457.0 806.3,457.0 806.8,457.0 807.3,457.0 807.8,457.0 808.3,457.0 808.8,457.0 809.3,457.0 809.8,457.0 810.3,457.0 810.8,457.0 811.3,457.0 811.8,457.0 812.3,457.0 812.8,457.0 813.3,457.0 813.8,457.0 814.3,457.0 814.8,457.0 815.3,457.0 815.8,457.0 816.3,457.0 816.8,457.0 817.3,457.0 817.8,457.0 818.3,457.0 818.8,457.0 819.3,457.0 819.8,457.0 820.3,457.0 820.8,457.0 821.3,457.0 821.8,457.0 822.3,457.0 822.8,457.0 823.3,457.0 823.8,457.0 824.3,457.0 824.8,457.0 825.3,457.0 825.8,457.0 826.3,457.0 826.8,457.0 827.3,457.0 827.8,457.0 828.3,457.0"/>
<polyline stroke="#d0a136" points="161.0,458.8 211.0,458.8 211.0,457.7 254.0,457.7 254.0,458.8 348.0,458.8 348.6,461.0 349.4,458.8 349.0,458.5 349.5,450.0 350.0,441.3 350.5,432.5 351.0,423.6 351.5,414.5 352.0,405.4 352.5,396.3 353.0,387.1 353.5,377.7 354.0,368.4 354.5,359.2 355.0,350.2 355.5,341.5 356.0,332.9 356.5,324.4 357.0,316.0 357.5,307.9 358.0,300.0 358.5,292.4 359.0,285.1 359.5,277.9 360.0,270.9 360.5,264.1 361.0,257.8 361.5,252.1 362.0,246.9 362.5,242.1 363.0,237.5 363.5,233.1 364.0,229.0 364.5,225.1 365.0,221.4 365.5,217.9 366.0,214.5 366.5,211.3 367.0,208.2 367.5,205.3 368.0,202.4 368.5,199.7 369.0,197.1 369.5,194.7 370.0,192.3 370.5,190.1 371.0,187.9 371.5,185.8 372.0,183.8 372.5,181.9 373.0,180.1 373.5,178.5 374.0,177.1 374.5,175.8 375.0,174.7 375.5,173.7 376.0,172.7 376.5,171.8 377.0,170.9 377.5,170.0 378.0,169.0 378.5,168.0 379.0,166.9 379.5,165.9 380.0,164.8 380.5,163.7 381.0,162.6 381.5,161.5 382.0,160.4 382.5,159.4 383.0,158.4 383.5,157.5 384.0,156.6 384.5,155.8 385.0,155.0 385.5,154.3 386.0,153.6 386.5,152.9 387.0,152.3 387.5,151.6 388.0,151.0 388.5,150.4 389.0,149.8 389.5,149.3 390.0,148.7 390.5,148.2 391.0,147.7 391.5,147.2 392.0,146.7 392.5,146.2 393.0,145.7 393.5,145.3 394.0,144.8 394.5,144.4 395.0,144.0 395.5,143.6 396.0,143.2 396.5,142.8 397.0,142.4 397.5,142.1 398.0,141.7 398.5,141.4 399.0,141.0 399.5,140.7 400.0,140.3 400.5,140.0 401.0,139.7 401.5,139.4 402.0,139.1 402.5,138.8 403.0,138.5 403.5,138.3 404.0,138.0 404.5,137.8 405.0,137.5 405.5,137.3 406.0,137.0 406.5,136.8 407.0,136.6 407.5,136.3 408.0,136.1 408.5,135.9 409.0,135.7 409.5,135.5 410.0,135.3 410.5,135.1 411.0,134.9 411.5,134.7 412.0,134.6 412.5,134.4 413.0,134.2 413.5,134.0 414.0,133.8 414.5,133.7 415.0,133.5 415.5,133.3 416.0,133.2 416.5,133.0 417.0,132.8 417.5,132.7 418.0,132.5 418.5,132.3 419.0,132.2 419.5,132.0 420.0,131.9 420.5,131.7 421.0,131.6 421.5,131.4 422.0,131.3 422.5,131.1 423.0,131.0 423.5,130.9 424.0,130.7 424.5,130.6 425.0,130.5 425.5,130.4 426.0,130.3 426.5,130.2 427.0,130.1 427.5,129.9 428.0,129.8 428.5,129.7 429.0,129.6 429.5,129.5 430.0,129.4 430.5,129.3 431.0,129.3 431.5,129.2 432.0,129.1 432.5,129.0 433.0,128.9 433.5,128.8 434.0,128.8 434.5,128.7 435.0,128.6 435.5,128.5 436.0,128.5 436.5,128.4 437.0,128.3 437.5,128.3 438.0,128.2 438.5,128.1 439.0,128.1 439.5,128.0 440.0,128.0 440.5,127.9 441.0,127.9 441.5,127.8 442.0,127.7 442.5,127.7 443.0,127.6 443.5,127.6 444.0,127.5 444.5,127.5 445.0,127.4 445.5,127.3 446.0,127.3 446.5,127.2 447.0,127.2 447.5,127.1 448.0,127.0 448.5,127.0 449.0,126.9 449.5,126.9 450.0,126.8 450.5,126.7 451.0,126.7 451.5,126.6 452.0,126.5 452.5,126.5 453.0,126.4 453.5,126.4 454.0,126.3 454.5,126.2 455.0,126.2 455.5,126.1 456.0,126.1 456.5,126.0 457.0,125.9 457.5,125.9 458.0,125.8 458.5,125.8 459.0,125.7 459.5,125.7 460.0,125.6 460.5,125.5 461.0,125.5 461.5,125.4 462.0,125.4 462.5,125.3 463.0,125.3 463.5,125.2 464.0,125.2 464.5,125.1 465.0,125.1 465.5,125.0 466.0,125.0 466.5,124.9 467.0,124.9 467.5,124.8 468.0,124.8 468.5,124.7 469.0,124.7 469.5,124.6 470.0,124.6 470.5,124.5 471.0,124.5 471.5,124.4 472.0,124.4 472.5,124.3 473.0,124.3 473.5,124.3 474.0,124.2 474.5,124.2 475.0,124.1 475.5,124.1 476.0,124.0 476.5,124.0 477.0,123.9 477.5,123.9 478.0,123.8 478.5,123.8 479.0,123.7 479.5,123.7 480.0,123.6 480.5,123.5 481.0,123.5 481.5,123.4 482.0,123.4 482.5,123.3 483.0,123.3 483.5,123.2 484.0,123.2 484.5,123.1 485.0,123.1 485.5,123.0 486.0,123.0 486.5,122.9 487.0,122.9 487.5,122.8 488.0,122.7 488.5,122.7 489.0,122.6 489.5,122.6 490.0,122.5 490.5,122.5 491.0,122.4 491.5,122.4 492.0,122.3 492.5,122.2 493.0,122.2 493.5,122.1 494.0,122.1 494.5,122.0 495.0,122.0 495.5,121.9 496.0,121.9 496.5,121.8 497.0,121.7 497.5,121.7 498.0,121.6 498.5,121.6 499.0,121.5 499.5,121.5 500.0,121.4 500.5,121.3 501.0,121.3 501.5,121.2 502.0,121.2 502.5,121.1 503.0,121.0 503.5,121.0 504.0,120.9 504.5,120.9 505.0,120.8 505.5,120.7 506.0,120.7 506.5,120.6 507.0,120.5 507.5,120.5 508.0,120.4 508.5,120.4 509.0,120.3 509.5,120.2 510.0,120.2 510.5,120.1 511.0,120.1 511.5,120.0 512.0,119.9 512.5,119.9 513.0,119.8 513.5,119.8 514.0,119.7 514.5,119.7 515.0,119.6 515.5,119.5 516.0,119.5 516.5,119.4 517.0,119.4 517.5,119.4 518.0,119.3 518.5,119.3 519.0,119.2 519.5,119.2 520.0,119.1 520.5,119.1 521.0,119.0 521.5,119.0 522.0,119.0 522.5,118.9 523.0,118.9 523.5,118.8 524.0,118.8 524.5,118.7 525.0,118.7 525.5,118.6 526.0,118.6 526.5,118.6 527.0,118.5 527.5,118.5 528.0,118.4 528.5,118.4 529.0,118.3 529.5,118.3 530.0,118.2 530.5,118.1 531.0,118.1 531.5,118.0 532.0,118.0 532.5,117.9 533.0,117.8 533.5,117.8 534.0,117.7 534.5,117.6 535.0,117.6 535.5,117.5 536.0,117.4 536.5,117.4 537.0,117.3 538.5,118.0 540.0,116.6 541.6,111.3 542.0,113.0 542.0,113.0 542.5,121.7 543.0,130.7 543.5,139.9 544.0,149.3 544.5,158.9 545.0,169.0 545.5,179.2 546.0,188.8 546.5,198.0 547.0,206.9 547.5,215.3 548.0,223.5 548.5,231.4 549.0,239.0 549.5,246.0 550.0,252.5 550.5,258.8 551.0,264.7 551.5,270.4 552.0,275.7 552.5,280.6 553.0,285.0 553.5,289.0 554.0,292.8 554.5,296.4 555.0,299.7 555.5,302.9 556.0,305.9 556.5,308.8 557.0,311.7 557.5,314.5 558.0,317.2 558.5,319.9 559.0,322.4 559.5,324.9 560.0,327.3 560.5,329.6 561.0,331.9 561.5,334.1 562.0,336.3 562.5,338.4 563.0,340.5 563.5,342.5 564.0,344.5 564.5,346.5 565.0,348.4 565.5,350.3 566.0,352.1 566.5,353.9 567.0,355.7 567.5,357.4 568.0,359.0 568.5,360.6 569.0,362.2 569.5,363.8 570.0,365.3 570.5,366.9 571.0,368.4 571.5,369.8 572.0,371.3 572.5,372.7 573.0,374.0 573.5,375.4 574.0,376.7 574.5,378.0 575.0,379.3 575.5,380.5 576.0,381.7 576.5,382.8 577.0,384.0 577.5,385.1 578.0,386.2 578.5,387.3 579.0,388.4 579.5,389.4 580.0,390.5 580.5,391.5 581.0,392.5 581.5,393.5 582.0,394.5 582.5,395.5 583.0,396.4 583.5,397.3 584.0,398.2 584.5,399.1 585.0,399.9 585.5,400.8 586.0,401.6 586.5,402.4 587.0,403.1 587.5,403.9 588.0,404.6 588.5,405.3 589.0,405.9 589.5,406.6 590.0,407.2 590.5,407.8 591.0,408.3 591.5,408.9 592.0,409.4 592.5,409.9 593.0,410.5 593.5,411.0 594.0,411.5 594.5,412.0 595.0,412.4 595.5,412.9 596.0,413.4 596.5,413.9 597.0,414.4 597.5,415.0 598.0,415.5 598.5,416.0 599.0,416.6 599.5,417.1 600.0,417.7 600.5,418.2 601.0,418.8 601.5,419.4 602.0,420.0 602.5,420.6 603.0,421.1 603.5,421.7 604.0,422.3 604.5,422.8 605.0,423.4 605.5,424.0 606.0,424.5 606.5,425.0 607.0,425.5 607.5,426.0 608.0,426.5 608.5,427.0 609.0,427.5 609.5,427.9 610.0,428.3 610.5,428.7 611.0,429.1 611.5,429.5 612.0,429.8 612.5,430.2 613.0,430.5 613.5,430.9 614.0,431.2 614.5,431.6 615.0,431.9 615.5,432.2 616.0,432.5 616.5,432.9 617.0,433.2 617.5,433.5 618.0,433.8 618.5,434.1 619.0,434.3 619.5,434.6 620.0,434.9 620.5,435.2 621.0,435.5 621.5,435.7 622.0,436.0 622.5,436.3 623.0,436.5 623.5,436.8 624.0,437.1 624.5,437.3 625.0,437.6 625.5,437.9 626.0,438.1 626.5,438.4 627.0,438.6 627.5,438.9 628.0,439.1 628.5,439.4 629.0,439.6 629.5,439.9 630.0,440.1 630.5,440.4 631.0,440.6 631.5,440.8 632.0,441.1 632.5,441.3 633.0,441.5 633.5,441.7 634.0,441.9 634.5,442.2 635.0,442.4 635.5,442.6 636.0,442.8 636.5,443.0 637.0,443.2 637.5,443.3 638.0,443.5 638.5,443.7 639.0,443.9 639.5,444.0 640.0,444.2 640.5,444.4 641.0,444.5 641.5,444.7 642.0,444.8 642.5,445.0 643.0,445.1 643.5,445.3 644.0,445.4 644.5,445.5 645.0,445.7 645.5,445.8 646.0,445.9 646.5,446.1 647.0,446.2 647.5,446.3 648.0,446.4 648.5,446.6 649.0,446.7 649.5,446.8 650.0,446.9 650.5,447.0 651.0,447.1 651.5,447.2 652.0,447.4 652.5,447.5 653.0,447.6 653.5,447.7 654.0,447.8 654.5,447.9 655.0,448.0 655.5,448.1 656.0,448.2 656.5,448.3 657.0,448.4 657.5,448.4 658.0,448.5 658.5,448.6 659.0,448.7 659.5,448.8 660.0,448.9 660.5,449.0 661.0,449.1 661.5,449.1 662.0,449.2 662.5,449.3 663.0,449.4 663.5,449.5 664.0,449.5 664.5,449.6 665.0,449.7 665.5,449.7 666.0,449.8 666.5,449.9 667.0,450.0 667.5,450.0 668.0,450.1 668.5,450.2 669.0,450.2 669.5,450.3 670.0,450.4 670.5,450.4 671.0,450.5 671.5,450.6 672.0,450.6 672.5,450.7 673.0,450.8 673.5,450.8 674.0,450.9 674.5,450.9 675.0,451.0 675.5,451.1 676.0,451.1 676.5,451.2 677.0,451.3 677.5,451.3 678.0,451.4 678.5,451.4 679.0,451.5 679.5,451.5 680.0,451.6 680.5,451.7 681.0,451.7 681.5,451.8 682.0,451.8 682.5,451.9 683.0,451.9 683.5,452.0 684.0,452.0 684.5,452.1 685.0,452.1 685.5,452.2 686.0,452.2 686.5,452.3 687.0,452.3 687.5,452.4 688.0,452.4 688.5,452.5 689.0,452.5 689.5,452.6 690.0,452.6 690.5,452.6 691.0,452.7 691.5,452.7 692.0,452.8 692.5,452.8 693.0,452.9 693.5,452.9 694.0,452.9 694.5,453.0 695.0,453.0 695.5,453.0 696.0,453.1 696.5,453.1 697.0,453.2 697.5,453.2 698.0,453.2 698.5,453.3 699.0,453.3 699.5,453.3 700.0,453.4 700.5,453.4 701.0,453.4 701.5,453.5 702.0,453.5 702.5,453.5 703.0,453.6 703.5,453.6 704.0,453.7 704.5,453.7 705.0,453.7 705.5,453.8 706.0,453.8 706.5,453.8 707.0,453.9 707.5,453.9 708.0,454.0 708.5,454.0 709.0,454.1 709.5,454.1 710.0,454.1 710.5,454.2 711.0,454.2 711.5,454.3 712.0,454.3 712.5,454.4 713.0,454.4 713.5,454.5 714.0,454.5 714.5,454.5 715.0,454.6 715.5,454.6 716.0,454.7 716.5,454.7 717.0,454.7 717.5,454.8 718.0,454.8 718.5,454.8 719.0,454.9 719.5,454.9 720.0,454.9 720.5,454.9 721.0,454.9 721.5,455.0 722.0,455.0 722.5,455.0 723.0,455.0 723.5,455.0 724.0,455.0 724.5,455.1 725.0,455.1 725.5,455.1 726.0,455.1 726.5,455.1 727.0,455.1 727.5,455.1 728.0,455.2 728.5,455.2 729.0,455.2 729.5,455.2 730.0,455.2 730.5,455.2 731.0,455.2 731.5,455.2 732.0,455.3 732.5,455.3 733.0,455.3 733.5,455.3 734.0,455.3 734.5,455.3 735.0,455.3 735.5,455.3 736.0,455.3 736.5,455.3 737.0,455.4 737.5,455.4 738.0,455.4 738.5,455.4 739.0,455.4 739.5,455.4 740.0,455.4 740.5,455.4 741.0,455.4 741.5,455.4 742.0,455.4 742.5,455.5 743.0,455.5 743.5,455.5 744.0,455.5 744.5,455.5 745.0,455.5 745.5,455.5 746.0,455.5 746.5,455.5 747.0,455.5 747.5,455.5 748.0,455.6 748.5,455.6 749.0,455.6 749.5,455.6 750.0,455.6 750.5,455.6 751.0,455.6 751.5,455.6 752.0,455.6 752.5,455.6 753.0,455.7 753.5,455.7 754.0,455.7 754.5,455.7 755.0,455.7 755.5,455.7 756.0,455.7 756.5,455.7 757.0,455.7 757.5,455.7 758.0,455.7 758.5,455.8 759.0,455.8 759.5,455.8 760.0,455.8 760.5,455.8 761.0,455.8 761.5,455.8 762.0,455.8 762.5,455.8 763.0,455.8 763.5,455.8 764.0,455.9 764.5,455.9 765.0,455.9 765.5,455.9 766.0,455.9 766.5,455.9 767.0,455.9 767.5,455.9 768.0,455.9 768.5,455.9 769.0,455.9 769.5,455.9 770.0,455.9 770.5,455.9 771.0,455.9 771.5,456.0 772.0,456.0 772.5,456.0 773.0,456.0 773.5,456.0 774.0,456.0 774.5,456.0 775.0,456.0 775.5,456.0 776.0,456.0 776.5,456.0 777.0,456.0 777.5,456.0 778.0,456.0 778.5,456.0 779.0,456.0 779.5,456.0 780.0,456.0 780.5,456.0 781.0,456.0 781.5,456.0 782.0,456.0 782.5,456.0 783.0,456.0 783.5,456.0 784.0,456.0 784.5,456.0 785.0,456.0 785.5,456.0 786.0,456.0 786.5,456.0 787.0,456.0 787.5,456.0 788.0,456.0 788.5,456.0 789.0,456.0 789.5,456.0 790.0,456.0 790.5,456.0 791.0,456.0 791.5,456.0 792.0,456.0 792.5,456.0 793.0,456.0 793.5,456.0 794.0,456.0 794.5,456.0 795.0,456.0 795.5,456.0 796.0,456.0 796.5,456.0 797.0,456.0 797.5,456.0 798.0,456.0 798.5,456.0 799.0,456.0 799.5,456.0 800.0,456.0 800.5,456.0 801.0,456.0 801.5,456.0 802.0,456.0 802.5,456.0 803.0,456.0 803.5,456.0 804.0,456.0 804.5,456.0 805.0,456.0 805.5,456.0 806.0,456.0 806.5,456.0 807.0,456.0 807.5,456.0 808.0,456.0 808.5,456.0 809.0,456.0 809.5,456.0 810.0,456.0 810.5,456.0 811.0,456.0 811.5,456.0 812.0,456.0 812.5,456.0 813.0,456.0 813.5,456.0 814.0,456.0 814.5,456.0 815.0,456.0 815.5,456.0 816.0,456.0 816.5,456.0 817.0,456.0 817.5,456.0 818.0,456.0 818.5,456.0 819.0,456.0 819.5,456.0 820.0,456.0 820.5,456.0 821.0,456.0 821.5,456.0 822.0,456.0 822.5,456.0 823.0,456.0 823.5,456.0 824.0,456.0 824.5,456.0 825.0,456.0 825.5,456.0 826.0,456.0 826.5,456.0 827.0,456.0 827.5,456.0 828.0,456.0 828.5,456.0"/>
</g>
<g fill="none" stroke-width="1.85" stroke-linejoin="miter" shape-rendering="crispEdges">
<polyline stroke="#000000" points="161.0,458.8 349.0,458.8 349.0,458.8 349.2,452.6 349.5,446.5 349.8,440.6 350.0,434.8 350.2,429.1 350.5,423.5 350.8,418.0 351.0,412.5 351.2,407.2 351.5,402.0 351.8,396.9 352.0,391.9 352.2,387.0 352.5,382.2 352.8,377.4 353.0,372.8 353.2,368.2 353.5,363.7 353.8,359.3 354.0,355.0 354.2,350.7 354.5,346.6 354.8,342.5 355.0,338.5 355.2,334.6 355.5,330.7 355.8,326.9 356.0,323.2 356.2,319.5 356.5,315.9 356.8,312.4 357.0,309.0 357.2,305.6 357.5,302.3 357.8,299.0 358.0,295.8 358.2,292.6 358.5,289.5 358.8,286.5 359.0,283.5 359.2,280.6 359.5,277.8 359.8,274.9 360.0,272.2 360.2,269.5 360.5,266.8 360.8,264.2 361.0,261.6 361.2,259.1 361.5,256.7 361.8,254.2 362.0,251.9 362.2,249.5 362.5,247.2 362.8,245.0 363.0,242.8 363.2,240.6 363.5,238.5 363.8,236.4 364.0,234.3 364.2,232.3 364.5,230.4 364.8,228.4 365.0,226.5 365.2,224.7 365.5,222.8 365.8,221.0 366.0,219.3 366.2,217.5 366.5,215.8 366.8,214.2 367.0,212.5 367.2,210.9 367.5,209.3 367.8,207.8 368.0,206.3 368.2,204.8 368.5,203.3 368.8,201.9 369.0,200.5 369.2,199.1 369.5,197.7 369.8,196.4 370.0,195.1 370.2,193.8 370.5,192.5 370.8,191.3 371.0,190.1 371.2,188.9 371.5,187.7 371.8,186.6 372.0,185.4 372.2,184.3 372.5,183.2 372.8,182.2 373.0,181.1 373.2,180.1 373.5,179.1 373.8,178.1 374.0,177.1 374.2,176.2 374.5,175.2 374.8,174.3 375.0,173.4 375.2,172.5 375.5,171.6 375.8,170.8 376.0,170.0 376.2,169.1 376.5,168.3 376.8,167.5 377.0,166.8 377.2,166.0 377.5,165.2 377.8,164.5 378.0,163.8 378.2,163.1 378.5,162.4 378.8,161.7 379.0,161.0 379.2,160.4 379.5,159.7 379.8,159.1 380.0,158.5 380.2,157.9 380.5,157.3 380.8,156.7 381.0,156.1 381.2,155.5 381.5,155.0 381.8,154.4 382.0,153.9 382.2,153.4 382.5,152.8 382.8,152.3 383.0,151.8 383.2,151.3 383.5,150.9 383.8,150.4 384.0,149.9 384.2,149.5 384.5,149.0 384.8,148.6 385.0,148.2 385.2,147.7 385.5,147.3 385.8,146.9 386.0,146.5 386.2,146.1 386.5,145.7 386.8,145.4 387.0,145.0 387.2,144.6 387.5,144.3 387.8,143.9 388.0,143.6 388.2,143.2 388.5,142.9 388.8,142.6 389.0,142.3 390.0,141.1 391.0,139.9 392.0,138.9 393.0,137.9 394.0,137.0 395.0,136.1 396.0,135.4 397.0,134.6 398.0,134.0 399.0,133.3 400.0,132.8 401.0,132.2 402.0,131.7 403.0,131.2 404.0,130.8 405.0,130.4 406.0,130.0 407.0,129.7 408.0,129.4 409.0,129.1 410.0,128.8 411.0,128.5 412.0,128.3 413.0,128.1 414.0,127.9 415.0,127.7 416.0,127.5 417.0,127.3 418.0,127.2 419.0,127.0 420.0,126.9 421.0,126.8 422.0,126.6 423.0,126.5 424.0,126.4 425.0,126.3 426.0,126.3 427.0,126.2 428.0,126.1 429.0,126.0 430.0,126.0 431.0,125.9 432.0,125.8 433.0,125.8 434.0,125.7 435.0,125.7 436.0,125.7 437.0,125.6 438.0,125.6 439.0,125.5 440.0,125.5 441.0,125.5 442.0,125.5 443.0,125.4 444.0,125.4 445.0,125.4 446.0,125.4 447.0,125.3 448.0,125.3 449.0,125.3 450.0,125.3 451.0,125.3 452.0,125.3 453.0,125.3 454.0,125.2 455.0,125.2 456.0,125.2 457.0,125.2 458.0,125.2 459.0,125.2 460.0,125.2 461.0,125.2 462.0,125.2 463.0,125.2 464.0,125.2 465.0,125.1 466.0,125.1 467.0,125.1 468.0,125.1 469.0,125.1 470.0,125.1 471.0,125.1 472.0,125.1 473.0,125.1 474.0,125.1 475.0,125.1 476.0,125.1 477.0,125.1 478.0,125.1 479.0,125.1 480.0,125.1 481.0,125.1 482.0,125.1 483.0,125.1 484.0,125.1 485.0,125.1 486.0,125.1 487.0,125.1 488.0,125.1 489.0,125.1 490.0,125.1 491.0,125.1 492.0,125.1 493.0,125.1 494.0,125.1 495.0,125.1 496.0,125.1 497.0,125.1 498.0,125.1 499.0,125.1 500.0,125.1 501.0,125.1 502.0,125.1 503.0,125.1 504.0,125.1 505.0,125.1 506.0,125.1 507.0,125.1 508.0,125.1 509.0,125.1 510.0,125.1 511.0,125.1 512.0,125.1 513.0,125.1 514.0,125.1 515.0,125.1 516.0,125.1 517.0,125.1 518.0,125.1 519.0,125.1 520.0,125.1 521.0,125.1 522.0,125.1 523.0,125.1 524.0,125.1 525.0,125.1 526.0,125.1 527.0,125.1 528.0,125.1 529.0,125.1 530.0,125.1 531.0,125.1 532.0,125.1 533.0,125.1 534.0,125.1 535.0,125.1 536.0,125.1 537.0,125.1 538.0,125.1 538.8,125.1 538.8,125.1 539.0,131.5 539.3,137.3 539.5,142.7 539.8,147.7 540.0,152.2 540.3,156.5 540.5,160.5 540.8,164.3 541.0,167.9 541.3,171.3 541.5,174.5 541.8,177.6 542.0,180.6 542.3,183.5 542.5,186.3 542.8,189.0 543.0,191.7 543.3,194.3 543.5,196.8 543.8,199.3 544.0,201.7 544.3,204.1 544.5,206.4 544.8,208.7 545.0,211.0 545.3,213.3 545.5,215.5 545.8,217.6 546.0,219.8 546.3,221.9 546.5,224.0 546.8,226.1 547.0,228.2 547.3,230.2 547.5,232.3 547.8,234.3 548.0,236.2 548.3,238.2 548.5,240.1 548.8,242.1 549.0,244.0 549.3,245.9 549.5,247.7 549.8,249.6 550.0,251.4 550.3,253.3 550.5,255.1 550.8,256.8 551.0,258.6 551.3,260.4 551.5,262.1 551.8,263.8 552.0,265.6 552.3,267.2 552.5,268.9 552.8,270.6 553.0,272.2 553.3,273.9 553.5,275.5 553.8,277.1 554.0,278.7 554.3,280.3 554.5,281.8 554.8,283.4 555.0,284.9 555.3,286.5 555.5,288.0 555.8,289.5 556.0,291.0 556.3,292.4 556.5,293.9 556.8,295.3 557.0,296.8 557.3,298.2 557.5,299.6 557.8,301.0 558.0,302.4 558.3,303.7 558.5,305.1 558.8,306.5 559.0,307.8 559.3,309.1 559.5,310.4 559.8,311.7 560.0,313.0 560.3,314.3 560.5,315.6 560.8,316.8 561.0,318.1 561.3,319.3 561.5,320.5 561.8,321.7 562.0,322.9 562.3,324.1 562.5,325.3 562.8,326.5 563.0,327.6 563.3,328.8 563.5,329.9 563.8,331.1 564.0,332.2 564.3,333.3 564.5,334.4 564.8,335.5 565.0,336.6 565.3,337.6 565.5,338.7 565.8,339.7 566.0,340.8 566.3,341.8 566.5,342.9 566.8,343.9 567.0,344.9 567.3,345.9 567.5,346.9 567.8,347.8 568.0,348.8 568.3,349.8 568.5,350.7 568.8,351.7 569.0,352.6 569.3,353.6 569.5,354.5 569.8,355.4 570.0,356.3 570.3,357.2 570.5,358.1 570.8,359.0 571.0,359.8 571.3,360.7 571.5,361.6 571.8,362.4 572.0,363.3 572.3,364.1 572.5,364.9 572.8,365.8 573.0,366.6 573.3,367.4 573.5,368.2 573.8,369.0 574.0,369.8 574.3,370.5 574.5,371.3 574.8,372.1 575.0,372.8 575.3,373.6 575.5,374.3 575.8,375.1 576.0,375.8 576.3,376.6 576.5,377.3 576.8,378.0 577.0,378.7 577.3,379.4 577.5,380.1 577.8,380.8 578.0,381.5 578.3,382.1 578.5,382.8 578.8,383.5 579.0,384.1 579.3,384.8 579.5,385.4 579.8,386.1 580.0,386.7 580.3,387.4 580.5,388.0 580.8,388.6 581.0,389.2 581.3,389.8 581.5,390.4 581.8,391.0 582.0,391.6 582.3,392.2 582.5,392.8 582.8,393.4 583.0,394.0 583.3,394.5 583.5,395.1 583.8,395.6 584.0,396.2 584.3,396.7 584.5,397.3 584.8,397.8 585.0,398.4 585.3,398.9 585.5,399.4 585.8,399.9 586.0,400.5 586.3,401.0 586.5,401.5 586.8,402.0 587.0,402.5 587.3,403.0 587.5,403.5 587.8,403.9 588.0,404.4 588.3,404.9 588.5,405.4 588.8,405.8 589.0,406.3 589.3,406.8 589.5,407.2 589.8,407.7 590.0,408.1 590.3,408.6 590.5,409.0 590.8,409.4 591.0,409.9 591.3,410.3 591.5,410.7 591.8,411.1 592.0,411.6 592.3,412.0 592.5,412.4 592.8,412.8 593.0,413.2 593.3,413.6 593.5,414.0 593.8,414.4 594.0,414.8 594.3,415.2 594.5,415.5 594.8,415.9 595.0,416.3 595.3,416.7 595.5,417.0 595.8,417.4 596.0,417.8 596.3,418.1 596.5,418.5 596.8,418.8 597.0,419.2 597.3,419.5 597.5,419.9 597.8,420.2 598.0,420.6 598.3,420.9 598.5,421.2 598.8,421.6 599.8,422.8 600.8,424.1 601.8,425.3 602.8,426.4 603.8,427.6 604.8,428.6 605.8,429.7 606.8,430.7 607.8,431.7 608.8,432.6 609.8,433.5 610.8,434.4 611.8,435.2 612.8,436.0 613.8,436.8 614.8,437.6 615.8,438.3 616.8,439.0 617.8,439.7 618.8,440.4 619.8,441.0 620.8,441.6 621.8,442.2 622.8,442.8 623.8,443.3 624.8,443.9 625.8,444.4 626.8,444.9 627.8,445.4 628.8,445.8 629.8,446.3 630.8,446.7 631.8,447.1 632.8,447.5 633.8,447.9 634.8,448.3 635.8,448.7 636.8,449.0 637.8,449.3 638.8,449.7 639.8,450.0 640.8,450.3 641.8,450.6 642.8,450.9 643.8,451.1 644.8,451.4 645.8,451.7 646.8,451.9 647.8,452.1 648.8,452.4 649.8,452.6 650.8,452.8 651.8,453.0 652.8,453.2 653.8,453.4 654.8,453.6 655.8,453.8 656.8,453.9 657.8,454.1 658.8,454.3 659.8,454.4 660.8,454.6 661.8,454.7 662.8,454.8 663.8,455.0 664.8,455.1 665.8,455.2 666.8,455.4 667.8,455.5 668.8,455.6 669.8,455.7 670.8,455.8 671.8,455.9 672.8,456.0 673.8,456.1 674.8,456.2 675.8,456.3 676.8,456.4 677.8,456.5 678.8,456.5 679.8,456.6 680.8,456.7 681.8,456.8 682.8,456.8 683.8,456.9 684.8,457.0 685.8,457.0 686.8,457.1 687.8,457.1 688.8,457.2 689.8,457.2 690.8,457.3 691.8,457.3 692.8,457.4 693.8,457.4 694.8,457.5 695.8,457.5 696.8,457.6 697.8,457.6 698.8,457.7 699.8,457.7 700.8,457.7 701.8,457.8 702.8,457.8 703.8,457.8 704.8,457.9 705.8,457.9 706.8,457.9 707.8,458.0 708.8,458.0 709.8,458.0 710.8,458.0 711.8,458.1 712.8,458.1 713.8,458.1 714.8,458.1 715.8,458.1 716.8,458.2 717.8,458.2 718.8,458.2 719.8,458.2 720.8,458.2 721.8,458.3 722.8,458.3 723.8,458.3 724.8,458.3 725.8,458.3 726.8,458.3 727.8,458.4 728.8,458.4 729.8,458.4 730.8,458.4 731.8,458.4 732.8,458.4 733.8,458.4 734.8,458.4 735.8,458.5 736.8,458.5 737.8,458.5 738.8,458.5 739.8,458.5 740.8,458.5 741.8,458.5 742.8,458.5 743.8,458.5 744.8,458.5 745.8,458.5 746.8,458.5 747.8,458.6 748.8,458.6 749.8,458.6 750.8,458.6 751.8,458.6 752.8,458.6 753.8,458.6 754.8,458.6 755.8,458.6 756.8,458.6 757.8,458.6 758.8,458.6 759.8,458.6 760.8,458.6 761.8,458.6 762.8,458.6 763.8,458.6 764.8,458.6 765.8,458.6 766.8,458.7 767.8,458.7 768.8,458.7 769.8,458.7 770.8,458.7 771.8,458.7 772.8,458.7 773.8,458.7 774.8,458.7 775.8,458.7 776.8,458.7 777.8,458.7 778.8,458.7 779.8,458.7 780.8,458.7 781.8,458.7 782.8,458.7 783.8,458.7 784.8,458.7 785.8,458.7 786.8,458.7 787.8,458.7 788.8,458.7 789.8,458.7 790.8,458.7 791.8,458.7 792.8,458.7 793.8,458.7 794.8,458.7 795.8,458.7 796.8,458.7 797.8,458.7 798.8,458.7 799.8,458.7 800.8,458.7 801.8,458.7 802.8,458.7 803.8,458.7 804.8,458.7 805.8,458.7 806.8,458.7 807.8,458.7 808.8,458.7 809.8,458.7 810.8,458.7 811.8,458.7 812.8,458.7 813.8,458.7 814.8,458.7 815.8,458.7 816.8,458.7 817.8,458.7 818.8,458.7 819.8,458.7 820.8,458.7 821.8,458.7 822.8,458.7 823.8,458.7 824.8,458.7 825.8,458.7 826.8,458.7 827.8,458.7"/>
<polyline stroke="#000000" points="161.0,458.8 349.0,458.8 349.0,458.8 349.2,455.7 349.5,452.7 349.8,449.7 350.0,446.8 350.2,443.9 350.5,441.1 350.8,438.3 351.0,435.5 351.2,432.8 351.5,430.2 351.8,427.6 352.0,425.0 352.2,422.5 352.5,420.0 352.8,417.6 353.0,415.2 353.2,412.8 353.5,410.5 353.8,408.2 354.0,405.9 354.2,403.7 354.5,401.5 354.8,399.3 355.0,397.2 355.2,395.1 355.5,393.1 355.8,391.1 356.0,389.1 356.2,387.1 356.5,385.2 356.8,383.3 357.0,381.4 357.2,379.6 357.5,377.8 357.8,376.0 358.0,374.3 358.2,372.5 358.5,370.8 358.8,369.2 359.0,367.5 359.2,365.9 359.5,364.3 359.8,362.7 360.0,361.2 360.2,359.6 360.5,358.1 360.8,356.7 361.0,355.2 361.2,353.8 361.5,352.4 361.8,351.0 362.0,349.6 362.2,348.2 362.5,346.9 362.8,345.6 363.0,344.3 363.2,343.0 363.5,341.8 363.8,340.6 364.0,339.3 364.2,338.1 364.5,337.0 364.8,335.8 365.0,334.7 365.2,333.5 365.5,332.4 365.8,331.3 366.0,330.3 366.2,329.2 366.5,328.1 366.8,327.1 367.0,326.1 367.2,325.1 367.5,324.1 367.8,323.1 368.0,322.2 368.2,321.2 368.5,320.3 368.8,319.4 369.0,318.5 369.2,317.6 369.5,316.7 369.8,315.9 370.0,315.0 370.2,314.2 370.5,313.3 370.8,312.5 371.0,311.7 371.2,310.9 371.5,310.1 371.8,309.4 372.0,308.6 372.2,307.9 372.5,307.1 372.8,306.4 373.0,305.7 373.2,305.0 373.5,304.3 373.8,303.6 374.0,302.9 374.2,302.2 374.5,301.6 374.8,300.9 375.0,300.3 375.2,299.7 375.5,299.0 375.8,298.4 376.0,297.8 376.2,297.2 376.5,296.6 376.8,296.1 377.0,295.5 377.2,294.9 377.5,294.4 377.8,293.8 378.0,293.3 378.2,292.7 378.5,292.2 378.8,291.7 379.0,291.2 379.2,290.7 379.5,290.2 379.8,289.7 380.0,289.2 380.2,288.7 380.5,288.3 380.8,287.8 381.0,287.3 381.2,286.9 381.5,286.4 381.8,286.0 382.0,285.6 382.2,285.1 382.5,284.7 382.8,284.3 383.0,283.9 383.2,283.5 383.5,283.1 383.8,282.7 384.0,282.3 384.2,281.9 384.5,281.5 384.8,281.2 385.0,280.8 385.2,280.4 385.5,280.1 385.8,279.7 386.0,279.4 386.2,279.0 386.5,278.7 386.8,278.3 387.0,278.0 387.2,277.7 387.5,277.4 387.8,277.0 388.0,276.7 388.2,276.4 388.5,276.1 388.8,275.8 389.0,275.5 390.0,274.3 391.0,273.3 392.0,272.2 393.0,271.2 394.0,270.3 395.0,269.4 396.0,268.6 397.0,267.8 398.0,267.0 399.0,266.3 400.0,265.6 401.0,264.9 402.0,264.3 403.0,263.7 404.0,263.2 405.0,262.6 406.0,262.1 407.0,261.6 408.0,261.2 409.0,260.7 410.0,260.3 411.0,259.9 412.0,259.5 413.0,259.2 414.0,258.8 415.0,258.5 416.0,258.2 417.0,257.9 418.0,257.6 419.0,257.4 420.0,257.1 421.0,256.9 422.0,256.6 423.0,256.4 424.0,256.2 425.0,256.0 426.0,255.8 427.0,255.6 428.0,255.5 429.0,255.3 430.0,255.1 431.0,255.0 432.0,254.8 433.0,254.7 434.0,254.6 435.0,254.5 436.0,254.3 437.0,254.2 438.0,254.1 439.0,254.0 440.0,253.9 441.0,253.8 442.0,253.7 443.0,253.7 444.0,253.6 445.0,253.5 446.0,253.4 447.0,253.4 448.0,253.3 449.0,253.2 450.0,253.2 451.0,253.1 452.0,253.0 453.0,253.0 454.0,252.9 455.0,252.9 456.0,252.9 457.0,252.8 458.0,252.8 459.0,252.7 460.0,252.7 461.0,252.7 462.0,252.6 463.0,252.6 464.0,252.6 465.0,252.5 466.0,252.5 467.0,252.5 468.0,252.4 469.0,252.4 470.0,252.4 471.0,252.4 472.0,252.3 473.0,252.3 474.0,252.3 475.0,252.3 476.0,252.3 477.0,252.3 478.0,252.2 479.0,252.2 480.0,252.2 481.0,252.2 482.0,252.2 483.0,252.2 484.0,252.2 485.0,252.1 486.0,252.1 487.0,252.1 488.0,252.1 489.0,252.1 490.0,252.1 491.0,252.1 492.0,252.1 493.0,252.1 494.0,252.1 495.0,252.1 496.0,252.0 497.0,252.0 498.0,252.0 499.0,252.0 500.0,252.0 501.0,252.0 502.0,252.0 503.0,252.0 504.0,252.0 505.0,252.0 506.0,252.0 507.0,252.0 508.0,252.0 509.0,252.0 510.0,252.0 511.0,252.0 512.0,252.0 513.0,252.0 514.0,252.0 515.0,252.0 516.0,252.0 517.0,252.0 518.0,251.9 519.0,251.9 520.0,251.9 521.0,251.9 522.0,251.9 523.0,251.9 524.0,251.9 525.0,251.9 526.0,251.9 527.0,251.9 528.0,251.9 529.0,251.9 530.0,251.9 531.0,251.9 532.0,251.9 533.0,251.9 534.0,251.9 535.0,251.9 536.0,251.9 537.0,251.9 538.0,251.9 538.8,251.9 538.8,251.9 539.0,255.8 539.3,259.3 539.5,262.5 539.8,265.5 540.0,268.3 540.3,270.9 540.5,273.3 540.8,275.6 541.0,277.8 541.3,279.9 541.5,281.8 541.8,283.7 542.0,285.6 542.3,287.3 542.5,289.1 542.8,290.7 543.0,292.4 543.3,293.9 543.5,295.5 543.8,297.0 544.0,298.5 544.3,300.0 544.5,301.4 544.8,302.9 545.0,304.3 545.3,305.6 545.5,307.0 545.8,308.4 546.0,309.7 546.3,311.0 546.5,312.3 546.8,313.6 547.0,314.9 547.3,316.1 547.5,317.4 547.8,318.6 548.0,319.8 548.3,321.1 548.5,322.3 548.8,323.4 549.0,324.6 549.3,325.8 549.5,327.0 549.8,328.1 550.0,329.2 550.3,330.4 550.5,331.5 550.8,332.6 551.0,333.7 551.3,334.8 551.5,335.9 551.8,336.9 552.0,338.0 552.3,339.0 552.5,340.1 552.8,341.1 553.0,342.1 553.3,343.1 553.5,344.2 553.8,345.2 554.0,346.1 554.3,347.1 554.5,348.1 554.8,349.0 555.0,350.0 555.3,350.9 555.5,351.9 555.8,352.8 556.0,353.7 556.3,354.6 556.5,355.6 556.8,356.5 557.0,357.3 557.3,358.2 557.5,359.1 557.8,360.0 558.0,360.8 558.3,361.7 558.5,362.5 558.8,363.4 559.0,364.2 559.3,365.0 559.5,365.8 559.8,366.6 560.0,367.4 560.3,368.2 560.5,369.0 560.8,369.8 561.0,370.6 561.3,371.3 561.5,372.1 561.8,372.8 562.0,373.6 562.3,374.3 562.5,375.1 562.8,375.8 563.0,376.5 563.3,377.2 563.5,377.9 563.8,378.6 564.0,379.3 564.3,380.0 564.5,380.7 564.8,381.4 565.0,382.1 565.3,382.7 565.5,383.4 565.8,384.0 566.0,384.7 566.3,385.3 566.5,386.0 566.8,386.6 567.0,387.2 567.3,387.9 567.5,388.5 567.8,389.1 568.0,389.7 568.3,390.3 568.5,390.9 568.8,391.5 569.0,392.1 569.3,392.6 569.5,393.2 569.8,393.8 570.0,394.3 570.3,394.9 570.5,395.5 570.8,396.0 571.0,396.6 571.3,397.1 571.5,397.6 571.8,398.2 572.0,398.7 572.3,399.2 572.5,399.7 572.8,400.2 573.0,400.8 573.3,401.3 573.5,401.8 573.8,402.3 574.0,402.7 574.3,403.2 574.5,403.7 574.8,404.2 575.0,404.7 575.3,405.1 575.5,405.6 575.8,406.1 576.0,406.5 576.3,407.0 576.5,407.4 576.8,407.9 577.0,408.3 577.3,408.8 577.5,409.2 577.8,409.6 578.0,410.0 578.3,410.5 578.5,410.9 578.8,411.3 579.0,411.7 579.3,412.1 579.5,412.5 579.8,412.9 580.0,413.3 580.3,413.7 580.5,414.1 580.8,414.5 581.0,414.9 581.3,415.3 581.5,415.6 581.8,416.0 582.0,416.4 582.3,416.8 582.5,417.1 582.8,417.5 583.0,417.8 583.3,418.2 583.5,418.6 583.8,418.9 584.0,419.3 584.3,419.6 584.5,419.9 584.8,420.3 585.0,420.6 585.3,420.9 585.5,421.3 585.8,421.6 586.0,421.9 586.3,422.2 586.5,422.6 586.8,422.9 587.0,423.2 587.3,423.5 587.5,423.8 587.8,424.1 588.0,424.4 588.3,424.7 588.5,425.0 588.8,425.3 589.0,425.6 589.3,425.9 589.5,426.2 589.8,426.4 590.0,426.7 590.3,427.0 590.5,427.3 590.8,427.5 591.0,427.8 591.3,428.1 591.5,428.4 591.8,428.6 592.0,428.9 592.3,429.1 592.5,429.4 592.8,429.7 593.0,429.9 593.3,430.2 593.5,430.4 593.8,430.7 594.0,430.9 594.3,431.1 594.5,431.4 594.8,431.6 595.0,431.9 595.3,432.1 595.5,432.3 595.8,432.5 596.0,432.8 596.3,433.0 596.5,433.2 596.8,433.4 597.0,433.7 597.3,433.9 597.5,434.1 597.8,434.3 598.0,434.5 598.3,434.7 598.5,434.9 598.8,435.2 599.8,436.0 600.8,436.7 601.8,437.5 602.8,438.2 603.8,438.9 604.8,439.6 605.8,440.3 606.8,440.9 607.8,441.5 608.8,442.1 609.8,442.7 610.8,443.2 611.8,443.8 612.8,444.3 613.8,444.8 614.8,445.3 615.8,445.7 616.8,446.2 617.8,446.6 618.8,447.0 619.8,447.4 620.8,447.8 621.8,448.2 622.8,448.5 623.8,448.9 624.8,449.2 625.8,449.6 626.8,449.9 627.8,450.2 628.8,450.5 629.8,450.8 630.8,451.0 631.8,451.3 632.8,451.6 633.8,451.8 634.8,452.0 635.8,452.3 636.8,452.5 637.8,452.7 638.8,452.9 639.8,453.1 640.8,453.3 641.8,453.5 642.8,453.7 643.8,453.8 644.8,454.0 645.8,454.2 646.8,454.3 647.8,454.5 648.8,454.6 649.8,454.8 650.8,454.9 651.8,455.0 652.8,455.2 653.8,455.3 654.8,455.4 655.8,455.5 656.8,455.6 657.8,455.7 658.8,455.8 659.8,455.9 660.8,456.0 661.8,456.1 662.8,456.2 663.8,456.3 664.8,456.4 665.8,456.5 666.8,456.6 667.8,456.6 668.8,456.7 669.8,456.8 670.8,456.8 671.8,456.9 672.8,457.0 673.8,457.0 674.8,457.1 675.8,457.1 676.8,457.2 677.8,457.3 678.8,457.3 679.8,457.4 680.8,457.4 681.8,457.4 682.8,457.5 683.8,457.5 684.8,457.6 685.8,457.6 686.8,457.7 687.8,457.7 688.8,457.7 689.8,457.8 690.8,457.8 691.8,457.8 692.8,457.9 693.8,457.9 694.8,457.9 695.8,458.0 696.8,458.0 697.8,458.0 698.8,458.0 699.8,458.1 700.8,458.1 701.8,458.1 702.8,458.1 703.8,458.1 704.8,458.2 705.8,458.2 706.8,458.2 707.8,458.2 708.8,458.2 709.8,458.3 710.8,458.3 711.8,458.3 712.8,458.3 713.8,458.3 714.8,458.3 715.8,458.4 716.8,458.4 717.8,458.4 718.8,458.4 719.8,458.4 720.8,458.4 721.8,458.4 722.8,458.4 723.8,458.5 724.8,458.5 725.8,458.5 726.8,458.5 727.8,458.5 728.8,458.5 729.8,458.5 730.8,458.5 731.8,458.5 732.8,458.5 733.8,458.5 734.8,458.5 735.8,458.6 736.8,458.6 737.8,458.6 738.8,458.6 739.8,458.6 740.8,458.6 741.8,458.6 742.8,458.6 743.8,458.6 744.8,458.6 745.8,458.6 746.8,458.6 747.8,458.6 748.8,458.6 749.8,458.6 750.8,458.6 751.8,458.6 752.8,458.6 753.8,458.6 754.8,458.6 755.8,458.7 756.8,458.7 757.8,458.7 758.8,458.7 759.8,458.7 760.8,458.7 761.8,458.7 762.8,458.7 763.8,458.7 764.8,458.7 765.8,458.7 766.8,458.7 767.8,458.7 768.8,458.7 769.8,458.7 770.8,458.7 771.8,458.7 772.8,458.7 773.8,458.7 774.8,458.7 775.8,458.7 776.8,458.7 777.8,458.7 778.8,458.7 779.8,458.7 780.8,458.7 781.8,458.7 782.8,458.7 783.8,458.7 784.8,458.7 785.8,458.7 786.8,458.7 787.8,458.7 788.8,458.7 789.8,458.7 790.8,458.7 791.8,458.7 792.8,458.7 793.8,458.7 794.8,458.7 795.8,458.7 796.8,458.7 797.8,458.7 798.8,458.7 799.8,458.7 800.8,458.7 801.8,458.7 802.8,458.7 803.8,458.7 804.8,458.7 805.8,458.7 806.8,458.7 807.8,458.7 808.8,458.7 809.8,458.7 810.8,458.7 811.8,458.7 812.8,458.7 813.8,458.7 814.8,458.7 815.8,458.7 816.8,458.7 817.8,458.7 818.8,458.7 819.8,458.7 820.8,458.7 821.8,458.7 822.8,458.7 823.8,458.7 824.8,458.7 825.8,458.7 826.8,458.7 827.8,458.7"/>
<polyline stroke="#000000" points="161.0,458.8 349.0,458.8 349.0,458.8 349.2,457.4 349.5,456.0 349.8,454.7 350.0,453.4 350.2,452.1 350.5,450.8 350.8,449.5 351.0,448.3 351.2,447.0 351.5,445.8 351.8,444.6 352.0,443.4 352.2,442.2 352.5,441.0 352.8,439.9 353.0,438.7 353.2,437.6 353.5,436.5 353.8,435.4 354.0,434.3 354.2,433.2 354.5,432.1 354.8,431.1 355.0,430.0 355.2,429.0 355.5,428.0 355.8,427.0 356.0,426.0 356.2,425.0 356.5,424.1 356.8,423.1 357.0,422.1 357.2,421.2 357.5,420.3 357.8,419.4 358.0,418.5 358.2,417.6 358.5,416.7 358.8,415.8 359.0,415.0 359.2,414.1 359.5,413.3 359.8,412.4 360.0,411.6 360.2,410.8 360.5,410.0 360.8,409.2 361.0,408.4 361.2,407.6 361.5,406.9 361.8,406.1 362.0,405.4 362.2,404.6 362.5,403.9 362.8,403.2 363.0,402.5 363.2,401.8 363.5,401.1 363.8,400.4 364.0,399.7 364.2,399.0 364.5,398.3 364.8,397.7 365.0,397.0 365.2,396.4 365.5,395.8 365.8,395.1 366.0,394.5 366.2,393.9 366.5,393.3 366.8,392.7 367.0,392.1 367.2,391.5 367.5,390.9 367.8,390.4 368.0,389.8 368.2,389.2 368.5,388.7 368.8,388.2 369.0,387.6 369.2,387.1 369.5,386.6 369.8,386.0 370.0,385.5 370.2,385.0 370.5,384.5 370.8,384.0 371.0,383.5 371.2,383.0 371.5,382.6 371.8,382.1 372.0,381.6 372.2,381.2 372.5,380.7 372.8,380.3 373.0,379.8 373.2,379.4 373.5,378.9 373.8,378.5 374.0,378.1 374.2,377.7 374.5,377.2 374.8,376.8 375.0,376.4 375.2,376.0 375.5,375.6 375.8,375.2 376.0,374.8 376.2,374.5 376.5,374.1 376.8,373.7 377.0,373.3 377.2,373.0 377.5,372.6 377.8,372.3 378.0,371.9 378.2,371.6 378.5,371.2 378.8,370.9 379.0,370.5 379.2,370.2 379.5,369.9 379.8,369.5 380.0,369.2 380.2,368.9 380.5,368.6 380.8,368.3 381.0,368.0 381.2,367.7 381.5,367.4 381.8,367.1 382.0,366.8 382.2,366.5 382.5,366.2 382.8,365.9 383.0,365.7 383.2,365.4 383.5,365.1 383.8,364.8 384.0,364.6 384.2,364.3 384.5,364.0 384.8,363.8 385.0,363.5 385.2,363.3 385.5,363.0 385.8,362.8 386.0,362.6 386.2,362.3 386.5,362.1 386.8,361.8 387.0,361.6 387.2,361.4 387.5,361.2 387.8,360.9 388.0,360.7 388.2,360.5 388.5,360.3 388.8,360.1 389.0,359.9 390.0,359.0 391.0,358.3 392.0,357.5 393.0,356.8 394.0,356.1 395.0,355.5 396.0,354.9 397.0,354.3 398.0,353.7 399.0,353.2 400.0,352.7 401.0,352.2 402.0,351.7 403.0,351.3 404.0,350.8 405.0,350.4 406.0,350.1 407.0,349.7 408.0,349.3 409.0,349.0 410.0,348.7 411.0,348.4 412.0,348.1 413.0,347.8 414.0,347.5 415.0,347.3 416.0,347.0 417.0,346.8 418.0,346.6 419.0,346.4 420.0,346.2 421.0,346.0 422.0,345.8 423.0,345.6 424.0,345.5 425.0,345.3 426.0,345.2 427.0,345.0 428.0,344.9 429.0,344.7 430.0,344.6 431.0,344.5 432.0,344.4 433.0,344.3 434.0,344.2 435.0,344.1 436.0,344.0 437.0,343.9 438.0,343.8 439.0,343.7 440.0,343.6 441.0,343.5 442.0,343.5 443.0,343.4 444.0,343.3 445.0,343.3 446.0,343.2 447.0,343.2 448.0,343.1 449.0,343.1 450.0,343.0 451.0,343.0 452.0,342.9 453.0,342.9 454.0,342.8 455.0,342.8 456.0,342.7 457.0,342.7 458.0,342.7 459.0,342.6 460.0,342.6 461.0,342.6 462.0,342.5 463.0,342.5 464.0,342.5 465.0,342.5 466.0,342.4 467.0,342.4 468.0,342.4 469.0,342.4 470.0,342.4 471.0,342.3 472.0,342.3 473.0,342.3 474.0,342.3 475.0,342.3 476.0,342.2 477.0,342.2 478.0,342.2 479.0,342.2 480.0,342.2 481.0,342.2 482.0,342.2 483.0,342.2 484.0,342.1 485.0,342.1 486.0,342.1 487.0,342.1 488.0,342.1 489.0,342.1 490.0,342.1 491.0,342.1 492.0,342.1 493.0,342.1 494.0,342.1 495.0,342.0 496.0,342.0 497.0,342.0 498.0,342.0 499.0,342.0 500.0,342.0 501.0,342.0 502.0,342.0 503.0,342.0 504.0,342.0 505.0,342.0 506.0,342.0 507.0,342.0 508.0,342.0 509.0,342.0 510.0,342.0 511.0,342.0 512.0,342.0 513.0,342.0 514.0,342.0 515.0,342.0 516.0,341.9 517.0,341.9 518.0,341.9 519.0,341.9 520.0,341.9 521.0,341.9 522.0,341.9 523.0,341.9 524.0,341.9 525.0,341.9 526.0,341.9 527.0,341.9 528.0,341.9 529.0,341.9 530.0,341.9 531.0,341.9 532.0,341.9 533.0,341.9 534.0,341.9 535.0,341.9 536.0,341.9 537.0,341.9 538.0,341.9 538.8,341.9 538.8,341.9 539.0,344.5 539.3,346.8 539.5,348.9 539.8,350.8 540.0,352.6 540.3,354.2 540.5,355.7 540.8,357.1 541.0,358.4 541.3,359.7 541.5,360.9 541.8,362.0 542.0,363.1 542.3,364.1 542.5,365.1 542.8,366.0 543.0,367.0 543.3,367.9 543.5,368.8 543.8,369.6 544.0,370.5 544.3,371.3 544.5,372.1 544.8,372.9 545.0,373.7 545.3,374.4 545.5,375.2 545.8,375.9 546.0,376.7 546.3,377.4 546.5,378.1 546.8,378.9 547.0,379.6 547.3,380.3 547.5,380.9 547.8,381.6 548.0,382.3 548.3,383.0 548.5,383.6 548.8,384.3 549.0,384.9 549.3,385.6 549.5,386.2 549.8,386.9 550.0,387.5 550.3,388.1 550.5,388.7 550.8,389.3 551.0,389.9 551.3,390.5 551.5,391.1 551.8,391.7 552.0,392.3 552.3,392.9 552.5,393.4 552.8,394.0 553.0,394.6 553.3,395.1 553.5,395.7 553.8,396.2 554.0,396.8 554.3,397.3 554.5,397.9 554.8,398.4 555.0,398.9 555.3,399.4 555.5,399.9 555.8,400.5 556.0,401.0 556.3,401.5 556.5,402.0 556.8,402.5 557.0,402.9 557.3,403.4 557.5,403.9 557.8,404.4 558.0,404.9 558.3,405.3 558.5,405.8 558.8,406.3 559.0,406.7 559.3,407.2 559.5,407.6 559.8,408.1 560.0,408.5 560.3,408.9 560.5,409.4 560.8,409.8 561.0,410.2 561.3,410.6 561.5,411.1 561.8,411.5 562.0,411.9 562.3,412.3 562.5,412.7 562.8,413.1 563.0,413.5 563.3,413.9 563.5,414.3 563.8,414.7 564.0,415.0 564.3,415.4 564.5,415.8 564.8,416.2 565.0,416.5 565.3,416.9 565.5,417.3 565.8,417.6 566.0,418.0 566.3,418.4 566.5,418.7 566.8,419.0 567.0,419.4 567.3,419.7 567.5,420.1 567.8,420.4 568.0,420.7 568.3,421.1 568.5,421.4 568.8,421.7 569.0,422.0 569.3,422.4 569.5,422.7 569.8,423.0 570.0,423.3 570.3,423.6 570.5,423.9 570.8,424.2 571.0,424.5 571.3,424.8 571.5,425.1 571.8,425.4 572.0,425.7 572.3,426.0 572.5,426.3 572.8,426.6 573.0,426.8 573.3,427.1 573.5,427.4 573.8,427.7 574.0,427.9 574.3,428.2 574.5,428.5 574.8,428.7 575.0,429.0 575.3,429.2 575.5,429.5 575.8,429.8 576.0,430.0 576.3,430.3 576.5,430.5 576.8,430.8 577.0,431.0 577.3,431.2 577.5,431.5 577.8,431.7 578.0,431.9 578.3,432.2 578.5,432.4 578.8,432.6 579.0,432.9 579.3,433.1 579.5,433.3 579.8,433.5 580.0,433.8 580.3,434.0 580.5,434.2 580.8,434.4 581.0,434.6 581.3,434.8 581.5,435.0 581.8,435.2 582.0,435.4 582.3,435.6 582.5,435.8 582.8,436.0 583.0,436.2 583.3,436.4 583.5,436.6 583.8,436.8 584.0,437.0 584.3,437.2 584.5,437.4 584.8,437.6 585.0,437.8 585.3,437.9 585.5,438.1 585.8,438.3 586.0,438.5 586.3,438.7 586.5,438.8 586.8,439.0 587.0,439.2 587.3,439.3 587.5,439.5 587.8,439.7 588.0,439.8 588.3,440.0 588.5,440.2 588.8,440.3 589.0,440.5 589.3,440.7 589.5,440.8 589.8,441.0 590.0,441.1 590.3,441.3 590.5,441.4 590.8,441.6 591.0,441.7 591.3,441.9 591.5,442.0 591.8,442.2 592.0,442.3 592.3,442.5 592.5,442.6 592.8,442.7 593.0,442.9 593.3,443.0 593.5,443.2 593.8,443.3 594.0,443.4 594.3,443.6 594.5,443.7 594.8,443.8 595.0,443.9 595.3,444.1 595.5,444.2 595.8,444.3 596.0,444.5 596.3,444.6 596.5,444.7 596.8,444.8 597.0,444.9 597.3,445.1 597.5,445.2 597.8,445.3 598.0,445.4 598.3,445.5 598.5,445.7 598.8,445.8 599.8,446.2 600.8,446.6 601.8,447.1 602.8,447.5 603.8,447.8 604.8,448.2 605.8,448.6 606.8,448.9 607.8,449.3 608.8,449.6 609.8,449.9 610.8,450.2 611.8,450.5 612.8,450.8 613.8,451.1 614.8,451.3 615.8,451.6 616.8,451.8 617.8,452.1 618.8,452.3 619.8,452.5 620.8,452.7 621.8,452.9 622.8,453.1 623.8,453.3 624.8,453.5 625.8,453.7 626.8,453.9 627.8,454.0 628.8,454.2 629.8,454.4 630.8,454.5 631.8,454.6 632.8,454.8 633.8,454.9 634.8,455.1 635.8,455.2 636.8,455.3 637.8,455.4 638.8,455.5 639.8,455.6 640.8,455.8 641.8,455.9 642.8,456.0 643.8,456.1 644.8,456.1 645.8,456.2 646.8,456.3 647.8,456.4 648.8,456.5 649.8,456.6 650.8,456.6 651.8,456.7 652.8,456.8 653.8,456.8 654.8,456.9 655.8,457.0 656.8,457.0 657.8,457.1 658.8,457.2 659.8,457.2 660.8,457.3 661.8,457.3 662.8,457.4 663.8,457.4 664.8,457.5 665.8,457.5 666.8,457.5 667.8,457.6 668.8,457.6 669.8,457.7 670.8,457.7 671.8,457.7 672.8,457.8 673.8,457.8 674.8,457.8 675.8,457.9 676.8,457.9 677.8,457.9 678.8,458.0 679.8,458.0 680.8,458.0 681.8,458.0 682.8,458.1 683.8,458.1 684.8,458.1 685.8,458.1 686.8,458.1 687.8,458.2 688.8,458.2 689.8,458.2 690.8,458.2 691.8,458.2 692.8,458.3 693.8,458.3 694.8,458.3 695.8,458.3 696.8,458.3 697.8,458.3 698.8,458.4 699.8,458.4 700.8,458.4 701.8,458.4 702.8,458.4 703.8,458.4 704.8,458.4 705.8,458.4 706.8,458.5 707.8,458.5 708.8,458.5 709.8,458.5 710.8,458.5 711.8,458.5 712.8,458.5 713.8,458.5 714.8,458.5 715.8,458.5 716.8,458.5 717.8,458.5 718.8,458.6 719.8,458.6 720.8,458.6 721.8,458.6 722.8,458.6 723.8,458.6 724.8,458.6 725.8,458.6 726.8,458.6 727.8,458.6 728.8,458.6 729.8,458.6 730.8,458.6 731.8,458.6 732.8,458.6 733.8,458.6 734.8,458.6 735.8,458.6 736.8,458.6 737.8,458.6 738.8,458.7 739.8,458.7 740.8,458.7 741.8,458.7 742.8,458.7 743.8,458.7 744.8,458.7 745.8,458.7 746.8,458.7 747.8,458.7 748.8,458.7 749.8,458.7 750.8,458.7 751.8,458.7 752.8,458.7 753.8,458.7 754.8,458.7 755.8,458.7 756.8,458.7 757.8,458.7 758.8,458.7 759.8,458.7 760.8,458.7 761.8,458.7 762.8,458.7 763.8,458.7 764.8,458.7 765.8,458.7 766.8,458.7 767.8,458.7 768.8,458.7 769.8,458.7 770.8,458.7 771.8,458.7 772.8,458.7 773.8,458.7 774.8,458.7 775.8,458.7 776.8,458.7 777.8,458.7 778.8,458.7 779.8,458.7 780.8,458.7 781.8,458.7 782.8,458.7 783.8,458.7 784.8,458.7 785.8,458.7 786.8,458.7 787.8,458.7 788.8,458.7 789.8,458.7 790.8,458.7 791.8,458.7 792.8,458.7 793.8,458.7 794.8,458.7 795.8,458.7 796.8,458.7 797.8,458.7 798.8,458.7 799.8,458.7 800.8,458.7 801.8,458.7 802.8,458.7 803.8,458.7 804.8,458.7 805.8,458.7 806.8,458.7 807.8,458.7 808.8,458.7 809.8,458.7 810.8,458.7 811.8,458.7 812.8,458.7 813.8,458.7 814.8,458.7 815.8,458.7 816.8,458.7 817.8,458.7 818.8,458.7 819.8,458.7 820.8,458.7 821.8,458.7 822.8,458.7 823.8,458.7 824.8,458.7 825.8,458.7 826.8,458.7 827.8,458.7"/>
<polyline stroke="#000000" points="161.0,458.8 349.0,458.8 349.0,458.8 349.2,458.1 349.5,457.4 349.8,456.7 350.0,456.0 350.2,455.4 350.5,454.7 350.8,454.1 351.0,453.4 351.2,452.8 351.5,452.2 351.8,451.6 352.0,451.0 352.2,450.4 352.5,449.8 352.8,449.2 353.0,448.6 353.2,448.0 353.5,447.4 353.8,446.9 354.0,446.3 354.2,445.7 354.5,445.2 354.8,444.6 355.0,444.1 355.2,443.6 355.5,443.0 355.8,442.5 356.0,442.0 356.2,441.5 356.5,441.0 356.8,440.5 357.0,440.0 357.2,439.5 357.5,439.0 357.8,438.5 358.0,438.0 358.2,437.6 358.5,437.1 358.8,436.7 359.0,436.2 359.2,435.7 359.5,435.3 359.8,434.9 360.0,434.4 360.2,434.0 360.5,433.6 360.8,433.1 361.0,432.7 361.2,432.3 361.5,431.9 361.8,431.5 362.0,431.1 362.2,430.7 362.5,430.3 362.8,429.9 363.0,429.5 363.2,429.1 363.5,428.8 363.8,428.4 364.0,428.0 364.2,427.6 364.5,427.3 364.8,426.9 365.0,426.6 365.2,426.2 365.5,425.9 365.8,425.5 366.0,425.2 366.2,424.9 366.5,424.5 366.8,424.2 367.0,423.9 367.2,423.5 367.5,423.2 367.8,422.9 368.0,422.6 368.2,422.3 368.5,422.0 368.8,421.7 369.0,421.4 369.2,421.1 369.5,420.8 369.8,420.5 370.0,420.2 370.2,419.9 370.5,419.7 370.8,419.4 371.0,419.1 371.2,418.8 371.5,418.6 371.8,418.3 372.0,418.0 372.2,417.8 372.5,417.5 372.8,417.3 373.0,417.0 373.2,416.8 373.5,416.5 373.8,416.3 374.0,416.0 374.2,415.8 374.5,415.5 374.8,415.3 375.0,415.1 375.2,414.8 375.5,414.6 375.8,414.4 376.0,414.2 376.2,413.9 376.5,413.7 376.8,413.5 377.0,413.3 377.2,413.1 377.5,412.9 377.8,412.7 378.0,412.5 378.2,412.3 378.5,412.1 378.8,411.9 379.0,411.7 379.2,411.5 379.5,411.3 379.8,411.1 380.0,410.9 380.2,410.7 380.5,410.5 380.8,410.3 381.0,410.2 381.2,410.0 381.5,409.8 381.8,409.6 382.0,409.5 382.2,409.3 382.5,409.1 382.8,408.9 383.0,408.8 383.2,408.6 383.5,408.5 383.8,408.3 384.0,408.1 384.2,408.0 384.5,407.8 384.8,407.7 385.0,407.5 385.2,407.4 385.5,407.2 385.8,407.1 386.0,406.9 386.2,406.8 386.5,406.6 386.8,406.5 387.0,406.3 387.2,406.2 387.5,406.1 387.8,405.9 388.0,405.8 388.2,405.7 388.5,405.5 388.8,405.4 389.0,405.3 390.0,404.8 391.0,404.3 392.0,403.8 393.0,403.4 394.0,403.0 395.0,402.5 396.0,402.2 397.0,401.8 398.0,401.4 399.0,401.1 400.0,400.7 401.0,400.4 402.0,400.1 403.0,399.8 404.0,399.5 405.0,399.3 406.0,399.0 407.0,398.8 408.0,398.5 409.0,398.3 410.0,398.1 411.0,397.9 412.0,397.7 413.0,397.5 414.0,397.3 415.0,397.1 416.0,397.0 417.0,396.8 418.0,396.6 419.0,396.5 420.0,396.3 421.0,396.2 422.0,396.1 423.0,396.0 424.0,395.8 425.0,395.7 426.0,395.6 427.0,395.5 428.0,395.4 429.0,395.3 430.0,395.2 431.0,395.1 432.0,395.0 433.0,394.9 434.0,394.9 435.0,394.8 436.0,394.7 437.0,394.6 438.0,394.6 439.0,394.5 440.0,394.4 441.0,394.4 442.0,394.3 443.0,394.3 444.0,394.2 445.0,394.2 446.0,394.1 447.0,394.1 448.0,394.0 449.0,394.0 450.0,393.9 451.0,393.9 452.0,393.9 453.0,393.8 454.0,393.8 455.0,393.8 456.0,393.7 457.0,393.7 458.0,393.7 459.0,393.6 460.0,393.6 461.0,393.6 462.0,393.6 463.0,393.5 464.0,393.5 465.0,393.5 466.0,393.5 467.0,393.4 468.0,393.4 469.0,393.4 470.0,393.4 471.0,393.4 472.0,393.4 473.0,393.3 474.0,393.3 475.0,393.3 476.0,393.3 477.0,393.3 478.0,393.3 479.0,393.3 480.0,393.2 481.0,393.2 482.0,393.2 483.0,393.2 484.0,393.2 485.0,393.2 486.0,393.2 487.0,393.2 488.0,393.2 489.0,393.1 490.0,393.1 491.0,393.1 492.0,393.1 493.0,393.1 494.0,393.1 495.0,393.1 496.0,393.1 497.0,393.1 498.0,393.1 499.0,393.1 500.0,393.1 501.0,393.1 502.0,393.1 503.0,393.1 504.0,393.1 505.0,393.1 506.0,393.0 507.0,393.0 508.0,393.0 509.0,393.0 510.0,393.0 511.0,393.0 512.0,393.0 513.0,393.0 514.0,393.0 515.0,393.0 516.0,393.0 517.0,393.0 518.0,393.0 519.0,393.0 520.0,393.0 521.0,393.0 522.0,393.0 523.0,393.0 524.0,393.0 525.0,393.0 526.0,393.0 527.0,393.0 528.0,393.0 529.0,393.0 530.0,393.0 531.0,393.0 532.0,393.0 533.0,393.0 534.0,393.0 535.0,393.0 536.0,393.0 537.0,393.0 538.0,393.0 538.8,393.0 538.8,393.0 539.0,394.2 539.3,395.3 539.5,396.4 539.8,397.3 540.0,398.2 540.3,399.0 540.5,399.8 540.8,400.5 541.0,401.2 541.3,401.8 541.5,402.5 541.8,403.0 542.0,403.6 542.3,404.2 542.5,404.7 542.8,405.2 543.0,405.7 543.3,406.2 543.5,406.7 543.8,407.1 544.0,407.6 544.3,408.0 544.5,408.5 544.8,408.9 545.0,409.4 545.3,409.8 545.5,410.2 545.8,410.6 546.0,411.0 546.3,411.4 546.5,411.8 546.8,412.2 547.0,412.6 547.3,413.0 547.5,413.4 547.8,413.8 548.0,414.1 548.3,414.5 548.5,414.9 548.8,415.2 549.0,415.6 549.3,416.0 549.5,416.3 549.8,416.7 550.0,417.0 550.3,417.4 550.5,417.7 550.8,418.1 551.0,418.4 551.3,418.7 551.5,419.1 551.8,419.4 552.0,419.7 552.3,420.0 552.5,420.4 552.8,420.7 553.0,421.0 553.3,421.3 553.5,421.6 553.8,421.9 554.0,422.2 554.3,422.5 554.5,422.8 554.8,423.1 555.0,423.4 555.3,423.7 555.5,424.0 555.8,424.3 556.0,424.6 556.3,424.9 556.5,425.2 556.8,425.4 557.0,425.7 557.3,426.0 557.5,426.3 557.8,426.5 558.0,426.8 558.3,427.1 558.5,427.3 558.8,427.6 559.0,427.8 559.3,428.1 559.5,428.4 559.8,428.6 560.0,428.9 560.3,429.1 560.5,429.4 560.8,429.6 561.0,429.8 561.3,430.1 561.5,430.3 561.8,430.6 562.0,430.8 562.3,431.0 562.5,431.2 562.8,431.5 563.0,431.7 563.3,431.9 563.5,432.2 563.8,432.4 564.0,432.6 564.3,432.8 564.5,433.0 564.8,433.2 565.0,433.4 565.3,433.7 565.5,433.9 565.8,434.1 566.0,434.3 566.3,434.5 566.5,434.7 566.8,434.9 567.0,435.1 567.3,435.3 567.5,435.5 567.8,435.7 568.0,435.9 568.3,436.0 568.5,436.2 568.8,436.4 569.0,436.6 569.3,436.8 569.5,437.0 569.8,437.2 570.0,437.3 570.3,437.5 570.5,437.7 570.8,437.9 571.0,438.0 571.3,438.2 571.5,438.4 571.8,438.5 572.0,438.7 572.3,438.9 572.5,439.0 572.8,439.2 573.0,439.4 573.3,439.5 573.5,439.7 573.8,439.9 574.0,440.0 574.3,440.2 574.5,440.3 574.8,440.5 575.0,440.6 575.3,440.8 575.5,440.9 575.8,441.1 576.0,441.2 576.3,441.4 576.5,441.5 576.8,441.7 577.0,441.8 577.3,441.9 577.5,442.1 577.8,442.2 578.0,442.3 578.3,442.5 578.5,442.6 578.8,442.8 579.0,442.9 579.3,443.0 579.5,443.2 579.8,443.3 580.0,443.4 580.3,443.5 580.5,443.7 580.8,443.8 581.0,443.9 581.3,444.0 581.5,444.2 581.8,444.3 582.0,444.4 582.3,444.5 582.5,444.6 582.8,444.8 583.0,444.9 583.3,445.0 583.5,445.1 583.8,445.2 584.0,445.3 584.3,445.4 584.5,445.5 584.8,445.7 585.0,445.8 585.3,445.9 585.5,446.0 585.8,446.1 586.0,446.2 586.3,446.3 586.5,446.4 586.8,446.5 587.0,446.6 587.3,446.7 587.5,446.8 587.8,446.9 588.0,447.0 588.3,447.1 588.5,447.2 588.8,447.3 589.0,447.4 589.3,447.5 589.5,447.6 589.8,447.7 590.0,447.8 590.3,447.9 590.5,447.9 590.8,448.0 591.0,448.1 591.3,448.2 591.5,448.3 591.8,448.4 592.0,448.5 592.3,448.6 592.5,448.6 592.8,448.7 593.0,448.8 593.3,448.9 593.5,449.0 593.8,449.1 594.0,449.1 594.3,449.2 594.5,449.3 594.8,449.4 595.0,449.4 595.3,449.5 595.5,449.6 595.8,449.7 596.0,449.8 596.3,449.8 596.5,449.9 596.8,450.0 597.0,450.0 597.3,450.1 597.5,450.2 597.8,450.3 598.0,450.3 598.3,450.4 598.5,450.5 598.8,450.5 599.8,450.8 600.8,451.1 601.8,451.3 602.8,451.6 603.8,451.8 604.8,452.0 605.8,452.2 606.8,452.5 607.8,452.7 608.8,452.9 609.8,453.1 610.8,453.2 611.8,453.4 612.8,453.6 613.8,453.8 614.8,453.9 615.8,454.1 616.8,454.2 617.8,454.4 618.8,454.5 619.8,454.7 620.8,454.8 621.8,454.9 622.8,455.1 623.8,455.2 624.8,455.3 625.8,455.4 626.8,455.5 627.8,455.6 628.8,455.7 629.8,455.8 630.8,455.9 631.8,456.0 632.8,456.1 633.8,456.2 634.8,456.3 635.8,456.4 636.8,456.4 637.8,456.5 638.8,456.6 639.8,456.7 640.8,456.7 641.8,456.8 642.8,456.9 643.8,456.9 644.8,457.0 645.8,457.0 646.8,457.1 647.8,457.1 648.8,457.2 649.8,457.3 650.8,457.3 651.8,457.3 652.8,457.4 653.8,457.4 654.8,457.5 655.8,457.5 656.8,457.6 657.8,457.6 658.8,457.6 659.8,457.7 660.8,457.7 661.8,457.7 662.8,457.8 663.8,457.8 664.8,457.8 665.8,457.9 666.8,457.9 667.8,457.9 668.8,458.0 669.8,458.0 670.8,458.0 671.8,458.0 672.8,458.1 673.8,458.1 674.8,458.1 675.8,458.1 676.8,458.1 677.8,458.2 678.8,458.2 679.8,458.2 680.8,458.2 681.8,458.2 682.8,458.3 683.8,458.3 684.8,458.3 685.8,458.3 686.8,458.3 687.8,458.3 688.8,458.3 689.8,458.4 690.8,458.4 691.8,458.4 692.8,458.4 693.8,458.4 694.8,458.4 695.8,458.4 696.8,458.4 697.8,458.4 698.8,458.5 699.8,458.5 700.8,458.5 701.8,458.5 702.8,458.5 703.8,458.5 704.8,458.5 705.8,458.5 706.8,458.5 707.8,458.5 708.8,458.5 709.8,458.5 710.8,458.6 711.8,458.6 712.8,458.6 713.8,458.6 714.8,458.6 715.8,458.6 716.8,458.6 717.8,458.6 718.8,458.6 719.8,458.6 720.8,458.6 721.8,458.6 722.8,458.6 723.8,458.6 724.8,458.6 725.8,458.6 726.8,458.6 727.8,458.6 728.8,458.6 729.8,458.6 730.8,458.6 731.8,458.7 732.8,458.7 733.8,458.7 734.8,458.7 735.8,458.7 736.8,458.7 737.8,458.7 738.8,458.7 739.8,458.7 740.8,458.7 741.8,458.7 742.8,458.7 743.8,458.7 744.8,458.7 745.8,458.7 746.8,458.7 747.8,458.7 748.8,458.7 749.8,458.7 750.8,458.7 751.8,458.7 752.8,458.7 753.8,458.7 754.8,458.7 755.8,458.7 756.8,458.7 757.8,458.7 758.8,458.7 759.8,458.7 760.8,458.7 761.8,458.7 762.8,458.7 763.8,458.7 764.8,458.7 765.8,458.7 766.8,458.7 767.8,458.7 768.8,458.7 769.8,458.7 770.8,458.7 771.8,458.7 772.8,458.7 773.8,458.7 774.8,458.7 775.8,458.7 776.8,458.7 777.8,458.7 778.8,458.7 779.8,458.7 780.8,458.7 781.8,458.7 782.8,458.7 783.8,458.7 784.8,458.7 785.8,458.7 786.8,458.7 787.8,458.7 788.8,458.7 789.8,458.7 790.8,458.7 791.8,458.7 792.8,458.7 793.8,458.7 794.8,458.7 795.8,458.7 796.8,458.7 797.8,458.7 798.8,458.7 799.8,458.7 800.8,458.7 801.8,458.7 802.8,458.7 803.8,458.7 804.8,458.7 805.8,458.7 806.8,458.7 807.8,458.7 808.8,458.7 809.8,458.7 810.8,458.7 811.8,458.7 812.8,458.7 813.8,458.7 814.8,458.7 815.8,458.7 816.8,458.7 817.8,458.7 818.8,458.7 819.8,458.7 820.8,458.7 821.8,458.7 822.8,458.7 823.8,458.7 824.8,458.7 825.8,458.7 826.8,458.7 827.8,458.7"/>
<polyline stroke="#000000" points="161.0,458.8 349.0,458.8 349.0,458.8 349.2,458.4 349.5,458.1 349.8,457.7 350.0,457.4 350.2,457.1 350.5,456.8 350.8,456.4 351.0,456.1 351.2,455.8 351.5,455.5 351.8,455.2 352.0,454.9 352.2,454.6 352.5,454.3 352.8,454.0 353.0,453.7 353.2,453.4 353.5,453.1 353.8,452.8 354.0,452.5 354.2,452.2 354.5,452.0 354.8,451.7 355.0,451.4 355.2,451.1 355.5,450.9 355.8,450.6 356.0,450.4 356.2,450.1 356.5,449.8 356.8,449.6 357.0,449.3 357.2,449.1 357.5,448.8 357.8,448.6 358.0,448.4 358.2,448.1 358.5,447.9 358.8,447.6 359.0,447.4 359.2,447.2 359.5,446.9 359.8,446.7 360.0,446.5 360.2,446.3 360.5,446.1 360.8,445.8 361.0,445.6 361.2,445.4 361.5,445.2 361.8,445.0 362.0,444.8 362.2,444.6 362.5,444.4 362.8,444.2 363.0,444.0 363.2,443.8 363.5,443.6 363.8,443.4 364.0,443.2 364.2,443.0 364.5,442.8 364.8,442.6 365.0,442.5 365.2,442.3 365.5,442.1 365.8,441.9 366.0,441.7 366.2,441.6 366.5,441.4 366.8,441.2 367.0,441.0 367.2,440.9 367.5,440.7 367.8,440.5 368.0,440.4 368.2,440.2 368.5,440.1 368.8,439.9 369.0,439.7 369.2,439.6 369.5,439.4 369.8,439.3 370.0,439.1 370.2,439.0 370.5,438.8 370.8,438.7 371.0,438.5 371.2,438.4 371.5,438.3 371.8,438.1 372.0,438.0 372.2,437.8 372.5,437.7 372.8,437.6 373.0,437.4 373.2,437.3 373.5,437.2 373.8,437.0 374.0,436.9 374.2,436.8 374.5,436.7 374.8,436.5 375.0,436.4 375.2,436.3 375.5,436.2 375.8,436.0 376.0,435.9 376.2,435.8 376.5,435.7 376.8,435.6 377.0,435.5 377.2,435.3 377.5,435.2 377.8,435.1 378.0,435.0 378.2,434.9 378.5,434.8 378.8,434.7 379.0,434.6 379.2,434.5 379.5,434.4 379.8,434.3 380.0,434.2 380.2,434.1 380.5,434.0 380.8,433.9 381.0,433.8 381.2,433.7 381.5,433.6 381.8,433.5 382.0,433.4 382.2,433.3 382.5,433.2 382.8,433.1 383.0,433.0 383.2,432.9 383.5,432.8 383.8,432.7 384.0,432.7 384.2,432.6 384.5,432.5 384.8,432.4 385.0,432.3 385.2,432.2 385.5,432.1 385.8,432.1 386.0,432.0 386.2,431.9 386.5,431.8 386.8,431.7 387.0,431.7 387.2,431.6 387.5,431.5 387.8,431.4 388.0,431.4 388.2,431.3 388.5,431.2 388.8,431.1 389.0,431.1 390.0,430.8 391.0,430.5 392.0,430.3 393.0,430.0 394.0,429.8 395.0,429.5 396.0,429.3 397.0,429.1 398.0,428.9 399.0,428.7 400.0,428.5 401.0,428.3 402.0,428.2 403.0,428.0 404.0,427.8 405.0,427.7 406.0,427.5 407.0,427.4 408.0,427.2 409.0,427.1 410.0,427.0 411.0,426.9 412.0,426.7 413.0,426.6 414.0,426.5 415.0,426.4 416.0,426.3 417.0,426.2 418.0,426.1 419.0,426.0 420.0,425.9 421.0,425.9 422.0,425.8 423.0,425.7 424.0,425.6 425.0,425.6 426.0,425.5 427.0,425.4 428.0,425.4 429.0,425.3 430.0,425.2 431.0,425.2 432.0,425.1 433.0,425.1 434.0,425.0 435.0,425.0 436.0,424.9 437.0,424.9 438.0,424.8 439.0,424.8 440.0,424.8 441.0,424.7 442.0,424.7 443.0,424.7 444.0,424.6 445.0,424.6 446.0,424.6 447.0,424.5 448.0,424.5 449.0,424.5 450.0,424.4 451.0,424.4 452.0,424.4 453.0,424.4 454.0,424.3 455.0,424.3 456.0,424.3 457.0,424.3 458.0,424.3 459.0,424.2 460.0,424.2 461.0,424.2 462.0,424.2 463.0,424.2 464.0,424.2 465.0,424.1 466.0,424.1 467.0,424.1 468.0,424.1 469.0,424.1 470.0,424.1 471.0,424.1 472.0,424.0 473.0,424.0 474.0,424.0 475.0,424.0 476.0,424.0 477.0,424.0 478.0,424.0 479.0,424.0 480.0,424.0 481.0,424.0 482.0,424.0 483.0,423.9 484.0,423.9 485.0,423.9 486.0,423.9 487.0,423.9 488.0,423.9 489.0,423.9 490.0,423.9 491.0,423.9 492.0,423.9 493.0,423.9 494.0,423.9 495.0,423.9 496.0,423.9 497.0,423.9 498.0,423.9 499.0,423.9 500.0,423.8 501.0,423.8 502.0,423.8 503.0,423.8 504.0,423.8 505.0,423.8 506.0,423.8 507.0,423.8 508.0,423.8 509.0,423.8 510.0,423.8 511.0,423.8 512.0,423.8 513.0,423.8 514.0,423.8 515.0,423.8 516.0,423.8 517.0,423.8 518.0,423.8 519.0,423.8 520.0,423.8 521.0,423.8 522.0,423.8 523.0,423.8 524.0,423.8 525.0,423.8 526.0,423.8 527.0,423.8 528.0,423.8 529.0,423.8 530.0,423.8 531.0,423.8 532.0,423.8 533.0,423.8 534.0,423.8 535.0,423.8 536.0,423.8 537.0,423.8 538.0,423.8 538.8,423.8 538.8,423.8 539.0,424.1 539.3,424.4 539.5,424.7 539.8,424.9 540.0,425.2 540.3,425.5 540.5,425.8 540.8,426.1 541.0,426.3 541.3,426.6 541.5,426.9 541.8,427.1 542.0,427.4 542.3,427.7 542.5,427.9 542.8,428.2 543.0,428.4 543.3,428.7 543.5,428.9 543.8,429.2 544.0,429.4 544.3,429.6 544.5,429.9 544.8,430.1 545.0,430.4 545.3,430.6 545.5,430.8 545.8,431.1 546.0,431.3 546.3,431.5 546.5,431.7 546.8,432.0 547.0,432.2 547.3,432.4 547.5,432.6 547.8,432.8 548.0,433.0 548.3,433.2 548.5,433.5 548.8,433.7 549.0,433.9 549.3,434.1 549.5,434.3 549.8,434.5 550.0,434.7 550.3,434.9 550.5,435.1 550.8,435.3 551.0,435.5 551.3,435.7 551.5,435.8 551.8,436.0 552.0,436.2 552.3,436.4 552.5,436.6 552.8,436.8 553.0,437.0 553.3,437.1 553.5,437.3 553.8,437.5 554.0,437.7 554.3,437.8 554.5,438.0 554.8,438.2 555.0,438.3 555.3,438.5 555.5,438.7 555.8,438.8 556.0,439.0 556.3,439.2 556.5,439.3 556.8,439.5 557.0,439.7 557.3,439.8 557.5,440.0 557.8,440.1 558.0,440.3 558.3,440.4 558.5,440.6 558.8,440.7 559.0,440.9 559.3,441.0 559.5,441.2 559.8,441.3 560.0,441.5 560.3,441.6 560.5,441.7 560.8,441.9 561.0,442.0 561.3,442.2 561.5,442.3 561.8,442.4 562.0,442.6 562.3,442.7 562.5,442.8 562.8,443.0 563.0,443.1 563.3,443.2 563.5,443.3 563.8,443.5 564.0,443.6 564.3,443.7 564.5,443.8 564.8,444.0 565.0,444.1 565.3,444.2 565.5,444.3 565.8,444.4 566.0,444.6 566.3,444.7 566.5,444.8 566.8,444.9 567.0,445.0 567.3,445.1 567.5,445.2 567.8,445.4 568.0,445.5 568.3,445.6 568.5,445.7 568.8,445.8 569.0,445.9 569.3,446.0 569.5,446.1 569.8,446.2 570.0,446.3 570.3,446.4 570.5,446.5 570.8,446.6 571.0,446.7 571.3,446.8 571.5,446.9 571.8,447.0 572.0,447.1 572.3,447.2 572.5,447.3 572.8,447.4 573.0,447.5 573.3,447.6 573.5,447.7 573.8,447.8 574.0,447.9 574.3,447.9 574.5,448.0 574.8,448.1 575.0,448.2 575.3,448.3 575.5,448.4 575.8,448.5 576.0,448.6 576.3,448.6 576.5,448.7 576.8,448.8 577.0,448.9 577.3,449.0 577.5,449.0 577.8,449.1 578.0,449.2 578.3,449.3 578.5,449.4 578.8,449.4 579.0,449.5 579.3,449.6 579.5,449.7 579.8,449.7 580.0,449.8 580.3,449.9 580.5,450.0 580.8,450.0 581.0,450.1 581.3,450.2 581.5,450.2 581.8,450.3 582.0,450.4 582.3,450.5 582.5,450.5 582.8,450.6 583.0,450.7 583.3,450.7 583.5,450.8 583.8,450.9 584.0,450.9 584.3,451.0 584.5,451.1 584.8,451.1 585.0,451.2 585.3,451.2 585.5,451.3 585.8,451.4 586.0,451.4 586.3,451.5 586.5,451.5 586.8,451.6 587.0,451.7 587.3,451.7 587.5,451.8 587.8,451.8 588.0,451.9 588.3,451.9 588.5,452.0 588.8,452.1 589.0,452.1 589.3,452.2 589.5,452.2 589.8,452.3 590.0,452.3 590.3,452.4 590.5,452.4 590.8,452.5 591.0,452.5 591.3,452.6 591.5,452.6 591.8,452.7 592.0,452.7 592.3,452.8 592.5,452.8 592.8,452.9 593.0,452.9 593.3,453.0 593.5,453.0 593.8,453.1 594.0,453.1 594.3,453.2 594.5,453.2 594.8,453.3 595.0,453.3 595.3,453.4 595.5,453.4 595.8,453.4 596.0,453.5 596.3,453.5 596.5,453.6 596.8,453.6 597.0,453.7 597.3,453.7 597.5,453.7 597.8,453.8 598.0,453.8 598.3,453.9 598.5,453.9 598.8,453.9 599.8,454.1 600.8,454.2 601.8,454.4 602.8,454.5 603.8,454.7 604.8,454.8 605.8,454.9 606.8,455.1 607.8,455.2 608.8,455.3 609.8,455.4 610.8,455.5 611.8,455.6 612.8,455.7 613.8,455.8 614.8,455.9 615.8,456.0 616.8,456.1 617.8,456.2 618.8,456.3 619.8,456.3 620.8,456.4 621.8,456.5 622.8,456.6 623.8,456.6 624.8,456.7 625.8,456.8 626.8,456.8 627.8,456.9 628.8,457.0 629.8,457.0 630.8,457.1 631.8,457.1 632.8,457.2 633.8,457.2 634.8,457.3 635.8,457.3 636.8,457.4 637.8,457.4 638.8,457.5 639.8,457.5 640.8,457.5 641.8,457.6 642.8,457.6 643.8,457.7 644.8,457.7 645.8,457.7 646.8,457.8 647.8,457.8 648.8,457.8 649.8,457.9 650.8,457.9 651.8,457.9 652.8,457.9 653.8,458.0 654.8,458.0 655.8,458.0 656.8,458.0 657.8,458.1 658.8,458.1 659.8,458.1 660.8,458.1 661.8,458.2 662.8,458.2 663.8,458.2 664.8,458.2 665.8,458.2 666.8,458.2 667.8,458.3 668.8,458.3 669.8,458.3 670.8,458.3 671.8,458.3 672.8,458.3 673.8,458.3 674.8,458.4 675.8,458.4 676.8,458.4 677.8,458.4 678.8,458.4 679.8,458.4 680.8,458.4 681.8,458.4 682.8,458.5 683.8,458.5 684.8,458.5 685.8,458.5 686.8,458.5 687.8,458.5 688.8,458.5 689.8,458.5 690.8,458.5 691.8,458.5 692.8,458.5 693.8,458.5 694.8,458.5 695.8,458.6 696.8,458.6 697.8,458.6 698.8,458.6 699.8,458.6 700.8,458.6 701.8,458.6 702.8,458.6 703.8,458.6 704.8,458.6 705.8,458.6 706.8,458.6 707.8,458.6 708.8,458.6 709.8,458.6 710.8,458.6 711.8,458.6 712.8,458.6 713.8,458.6 714.8,458.6 715.8,458.6 716.8,458.7 717.8,458.7 718.8,458.7 719.8,458.7 720.8,458.7 721.8,458.7 722.8,458.7 723.8,458.7 724.8,458.7 725.8,458.7 726.8,458.7 727.8,458.7 728.8,458.7 729.8,458.7 730.8,458.7 731.8,458.7 732.8,458.7 733.8,458.7 734.8,458.7 735.8,458.7 736.8,458.7 737.8,458.7 738.8,458.7 739.8,458.7 740.8,458.7 741.8,458.7 742.8,458.7 743.8,458.7 744.8,458.7 745.8,458.7 746.8,458.7 747.8,458.7 748.8,458.7 749.8,458.7 750.8,458.7 751.8,458.7 752.8,458.7 753.8,458.7 754.8,458.7 755.8,458.7 756.8,458.7 757.8,458.7 758.8,458.7 759.8,458.7 760.8,458.7 761.8,458.7 762.8,458.7 763.8,458.7 764.8,458.7 765.8,458.7 766.8,458.7 767.8,458.7 768.8,458.7 769.8,458.7 770.8,458.7 771.8,458.7 772.8,458.7 773.8,458.7 774.8,458.7 775.8,458.7 776.8,458.7 777.8,458.7 778.8,458.7 779.8,458.7 780.8,458.7 781.8,458.7 782.8,458.7 783.8,458.7 784.8,458.7 785.8,458.7 786.8,458.7 787.8,458.7 788.8,458.7 789.8,458.7 790.8,458.7 791.8,458.7 792.8,458.7 793.8,458.7 794.8,458.7 795.8,458.7 796.8,458.7 797.8,458.7 798.8,458.7 799.8,458.7 800.8,458.7 801.8,458.7 802.8,458.7 803.8,458.7 804.8,458.7 805.8,458.7 806.8,458.7 807.8,458.7 808.8,458.7 809.8,458.7 810.8,458.7 811.8,458.7 812.8,458.7 813.8,458.7 814.8,458.7 815.8,458.7 816.8,458.7 817.8,458.7 818.8,458.7 819.8,458.7 820.8,458.7 821.8,458.7 822.8,458.7 823.8,458.7 824.8,458.7 825.8,458.7 826.8,458.7 827.8,458.7"/>
<polyline stroke="#000000" points="161.0,458.8 349.0,458.8 349.0,458.8 349.2,458.6 349.5,458.4 349.8,458.3 350.0,458.1 350.2,457.9 350.5,457.8 350.8,457.6 351.0,457.5 351.2,457.3 351.5,457.2 351.8,457.0 352.0,456.9 352.2,456.7 352.5,456.6 352.8,456.4 353.0,456.3 353.2,456.1 353.5,456.0 353.8,455.8 354.0,455.7 354.2,455.6 354.5,455.4 354.8,455.3 355.0,455.2 355.2,455.0 355.5,454.9 355.8,454.8 356.0,454.6 356.2,454.5 356.5,454.4 356.8,454.3 357.0,454.1 357.2,454.0 357.5,453.9 357.8,453.8 358.0,453.7 358.2,453.5 358.5,453.4 358.8,453.3 359.0,453.2 359.2,453.1 359.5,453.0 359.8,452.9 360.0,452.8 360.2,452.6 360.5,452.5 360.8,452.4 361.0,452.3 361.2,452.2 361.5,452.1 361.8,452.0 362.0,451.9 362.2,451.8 362.5,451.7 362.8,451.6 363.0,451.5 363.2,451.4 363.5,451.3 363.8,451.2 364.0,451.1 364.2,451.0 364.5,450.9 364.8,450.8 365.0,450.8 365.2,450.7 365.5,450.6 365.8,450.5 366.0,450.4 366.2,450.3 366.5,450.2 366.8,450.1 367.0,450.1 367.2,450.0 367.5,449.9 367.8,449.8 368.0,449.7 368.2,449.7 368.5,449.6 368.8,449.5 369.0,449.4 369.2,449.3 369.5,449.3 369.8,449.2 370.0,449.1 370.2,449.0 370.5,449.0 370.8,448.9 371.0,448.8 371.2,448.7 371.5,448.7 371.8,448.6 372.0,448.5 372.2,448.5 372.5,448.4 372.8,448.3 373.0,448.3 373.2,448.2 373.5,448.1 373.8,448.1 374.0,448.0 374.2,447.9 374.5,447.9 374.8,447.8 375.0,447.8 375.2,447.7 375.5,447.6 375.8,447.6 376.0,447.5 376.2,447.4 376.5,447.4 376.8,447.3 377.0,447.3 377.2,447.2 377.5,447.2 377.8,447.1 378.0,447.1 378.2,447.0 378.5,446.9 378.8,446.9 379.0,446.8 379.2,446.8 379.5,446.7 379.8,446.7 380.0,446.6 380.2,446.6 380.5,446.5 380.8,446.5 381.0,446.4 381.2,446.4 381.5,446.3 381.8,446.3 382.0,446.2 382.2,446.2 382.5,446.1 382.8,446.1 383.0,446.0 383.2,446.0 383.5,446.0 383.8,445.9 384.0,445.9 384.2,445.8 384.5,445.8 384.8,445.7 385.0,445.7 385.2,445.7 385.5,445.6 385.8,445.6 386.0,445.5 386.2,445.5 386.5,445.5 386.8,445.4 387.0,445.4 387.2,445.3 387.5,445.3 387.8,445.3 388.0,445.2 388.2,445.2 388.5,445.1 388.8,445.1 389.0,445.1 390.0,444.9 391.0,444.8 392.0,444.7 393.0,444.5 394.0,444.4 395.0,444.3 396.0,444.2 397.0,444.1 398.0,444.0 399.0,443.9 400.0,443.8 401.0,443.7 402.0,443.6 403.0,443.5 404.0,443.4 405.0,443.3 406.0,443.3 407.0,443.2 408.0,443.1 409.0,443.1 410.0,443.0 411.0,442.9 412.0,442.9 413.0,442.8 414.0,442.7 415.0,442.7 416.0,442.6 417.0,442.6 418.0,442.5 419.0,442.5 420.0,442.4 421.0,442.4 422.0,442.4 423.0,442.3 424.0,442.3 425.0,442.2 426.0,442.2 427.0,442.2 428.0,442.1 429.0,442.1 430.0,442.1 431.0,442.1 432.0,442.0 433.0,442.0 434.0,442.0 435.0,441.9 436.0,441.9 437.0,441.9 438.0,441.9 439.0,441.8 440.0,441.8 441.0,441.8 442.0,441.8 443.0,441.8 444.0,441.8 445.0,441.7 446.0,441.7 447.0,441.7 448.0,441.7 449.0,441.7 450.0,441.7 451.0,441.6 452.0,441.6 453.0,441.6 454.0,441.6 455.0,441.6 456.0,441.6 457.0,441.6 458.0,441.6 459.0,441.5 460.0,441.5 461.0,441.5 462.0,441.5 463.0,441.5 464.0,441.5 465.0,441.5 466.0,441.5 467.0,441.5 468.0,441.5 469.0,441.5 470.0,441.5 471.0,441.4 472.0,441.4 473.0,441.4 474.0,441.4 475.0,441.4 476.0,441.4 477.0,441.4 478.0,441.4 479.0,441.4 480.0,441.4 481.0,441.4 482.0,441.4 483.0,441.4 484.0,441.4 485.0,441.4 486.0,441.4 487.0,441.4 488.0,441.4 489.0,441.4 490.0,441.4 491.0,441.4 492.0,441.4 493.0,441.4 494.0,441.3 495.0,441.3 496.0,441.3 497.0,441.3 498.0,441.3 499.0,441.3 500.0,441.3 501.0,441.3 502.0,441.3 503.0,441.3 504.0,441.3 505.0,441.3 506.0,441.3 507.0,441.3 508.0,441.3 509.0,441.3 510.0,441.3 511.0,441.3 512.0,441.3 513.0,441.3 514.0,441.3 515.0,441.3 516.0,441.3 517.0,441.3 518.0,441.3 519.0,441.3 520.0,441.3 521.0,441.3 522.0,441.3 523.0,441.3 524.0,441.3 525.0,441.3 526.0,441.3 527.0,441.3 528.0,441.3 529.0,441.3 530.0,441.3 531.0,441.3 532.0,441.3 533.0,441.3 534.0,441.3 535.0,441.3 536.0,441.3 537.0,441.3 538.0,441.3 538.8,441.3 538.8,441.3 539.0,441.3 539.3,441.3 539.5,441.3 539.8,441.3 540.0,441.3 540.3,441.3 540.5,441.3 540.8,441.3 541.0,441.5 541.3,441.6 541.5,441.8 541.8,441.9 542.0,442.0 542.3,442.2 542.5,442.3 542.8,442.5 543.0,442.6 543.3,442.8 543.5,442.9 543.8,443.0 544.0,443.2 544.3,443.3 544.5,443.5 544.8,443.6 545.0,443.7 545.3,443.9 545.5,444.0 545.8,444.1 546.0,444.2 546.3,444.4 546.5,444.5 546.8,444.6 547.0,444.7 547.3,444.9 547.5,445.0 547.8,445.1 548.0,445.2 548.3,445.4 548.5,445.5 548.8,445.6 549.0,445.7 549.3,445.8 549.5,445.9 549.8,446.0 550.0,446.2 550.3,446.3 550.5,446.4 550.8,446.5 551.0,446.6 551.3,446.7 551.5,446.8 551.8,446.9 552.0,447.0 552.3,447.1 552.5,447.2 552.8,447.3 553.0,447.4 553.3,447.5 553.5,447.6 553.8,447.7 554.0,447.8 554.3,447.9 554.5,448.0 554.8,448.1 555.0,448.2 555.3,448.3 555.5,448.4 555.8,448.5 556.0,448.6 556.3,448.6 556.5,448.7 556.8,448.8 557.0,448.9 557.3,449.0 557.5,449.1 557.8,449.2 558.0,449.2 558.3,449.3 558.5,449.4 558.8,449.5 559.0,449.6 559.3,449.7 559.5,449.7 559.8,449.8 560.0,449.9 560.3,450.0 560.5,450.0 560.8,450.1 561.0,450.2 561.3,450.3 561.5,450.3 561.8,450.4 562.0,450.5 562.3,450.6 562.5,450.6 562.8,450.7 563.0,450.8 563.3,450.9 563.5,450.9 563.8,451.0 564.0,451.1 564.3,451.1 564.5,451.2 564.8,451.3 565.0,451.3 565.3,451.4 565.5,451.5 565.8,451.5 566.0,451.6 566.3,451.6 566.5,451.7 566.8,451.8 567.0,451.8 567.3,451.9 567.5,452.0 567.8,452.0 568.0,452.1 568.3,452.1 568.5,452.2 568.8,452.2 569.0,452.3 569.3,452.4 569.5,452.4 569.8,452.5 570.0,452.5 570.3,452.6 570.5,452.6 570.8,452.7 571.0,452.7 571.3,452.8 571.5,452.8 571.8,452.9 572.0,452.9 572.3,453.0 572.5,453.0 572.8,453.1 573.0,453.1 573.3,453.2 573.5,453.2 573.8,453.3 574.0,453.3 574.3,453.4 574.5,453.4 574.8,453.5 575.0,453.5 575.3,453.6 575.5,453.6 575.8,453.7 576.0,453.7 576.3,453.8 576.5,453.8 576.8,453.8 577.0,453.9 577.3,453.9 577.5,454.0 577.8,454.0 578.0,454.1 578.3,454.1 578.5,454.1 578.8,454.2 579.0,454.2 579.3,454.3 579.5,454.3 579.8,454.3 580.0,454.4 580.3,454.4 580.5,454.4 580.8,454.5 581.0,454.5 581.3,454.6 581.5,454.6 581.8,454.6 582.0,454.7 582.3,454.7 582.5,454.7 582.8,454.8 583.0,454.8 583.3,454.8 583.5,454.9 583.8,454.9 584.0,454.9 584.3,455.0 584.5,455.0 584.8,455.0 585.0,455.1 585.3,455.1 585.5,455.1 585.8,455.2 586.0,455.2 586.3,455.2 586.5,455.3 586.8,455.3 587.0,455.3 587.3,455.4 587.5,455.4 587.8,455.4 588.0,455.4 588.3,455.5 588.5,455.5 588.8,455.5 589.0,455.6 589.3,455.6 589.5,455.6 589.8,455.6 590.0,455.7 590.3,455.7 590.5,455.7 590.8,455.8 591.0,455.8 591.3,455.8 591.5,455.8 591.8,455.9 592.0,455.9 592.3,455.9 592.5,455.9 592.8,456.0 593.0,456.0 593.3,456.0 593.5,456.0 593.8,456.1 594.0,456.1 594.3,456.1 594.5,456.1 594.8,456.1 595.0,456.2 595.3,456.2 595.5,456.2 595.8,456.2 596.0,456.3 596.3,456.3 596.5,456.3 596.8,456.3 597.0,456.3 597.3,456.4 597.5,456.4 597.8,456.4 598.0,456.4 598.3,456.4 598.5,456.5 598.8,456.5 599.8,456.6 600.8,456.6 601.8,456.7 602.8,456.8 603.8,456.9 604.8,456.9 605.8,457.0 606.8,457.0 607.8,457.1 608.8,457.2 609.8,457.2 610.8,457.3 611.8,457.3 612.8,457.4 613.8,457.4 614.8,457.5 615.8,457.5 616.8,457.6 617.8,457.6 618.8,457.6 619.8,457.7 620.8,457.7 621.8,457.7 622.8,457.8 623.8,457.8 624.8,457.8 625.8,457.9 626.8,457.9 627.8,457.9 628.8,458.0 629.8,458.0 630.8,458.0 631.8,458.0 632.8,458.1 633.8,458.1 634.8,458.1 635.8,458.1 636.8,458.2 637.8,458.2 638.8,458.2 639.8,458.2 640.8,458.2 641.8,458.3 642.8,458.3 643.8,458.3 644.8,458.3 645.8,458.3 646.8,458.3 647.8,458.3 648.8,458.4 649.8,458.4 650.8,458.4 651.8,458.4 652.8,458.4 653.8,458.4 654.8,458.4 655.8,458.4 656.8,458.5 657.8,458.5 658.8,458.5 659.8,458.5 660.8,458.5 661.8,458.5 662.8,458.5 663.8,458.5 664.8,458.5 665.8,458.5 666.8,458.5 667.8,458.6 668.8,458.6 669.8,458.6 670.8,458.6 671.8,458.6 672.8,458.6 673.8,458.6 674.8,458.6 675.8,458.6 676.8,458.6 677.8,458.6 678.8,458.6 679.8,458.6 680.8,458.6 681.8,458.6 682.8,458.6 683.8,458.6 684.8,458.6 685.8,458.6 686.8,458.6 687.8,458.7 688.8,458.7 689.8,458.7 690.8,458.7 691.8,458.7 692.8,458.7 693.8,458.7 694.8,458.7 695.8,458.7 696.8,458.7 697.8,458.7 698.8,458.7 699.8,458.7 700.8,458.7 701.8,458.7 702.8,458.7 703.8,458.7 704.8,458.7 705.8,458.7 706.8,458.7 707.8,458.7 708.8,458.7 709.8,458.7 710.8,458.7 711.8,458.7 712.8,458.7 713.8,458.7 714.8,458.7 715.8,458.7 716.8,458.7 717.8,458.7 718.8,458.7 719.8,458.7 720.8,458.7 721.8,458.7 722.8,458.7 723.8,458.7 724.8,458.7 725.8,458.7 726.8,458.7 727.8,458.7 728.8,458.7 729.8,458.7 730.8,458.7 731.8,458.7 732.8,458.7 733.8,458.7 734.8,458.7 735.8,458.7 736.8,458.7 737.8,458.7 738.8,458.7 739.8,458.7 740.8,458.7 741.8,458.7 742.8,458.7 743.8,458.7 744.8,458.7 745.8,458.7 746.8,458.7 747.8,458.7 748.8,458.7 749.8,458.7 750.8,458.7 751.8,458.7 752.8,458.7 753.8,458.7 754.8,458.7 755.8,458.7 756.8,458.7 757.8,458.7 758.8,458.7 759.8,458.7 760.8,458.7 761.8,458.7 762.8,458.7 763.8,458.7 764.8,458.7 765.8,458.7 766.8,458.7 767.8,458.7 768.8,458.7 769.8,458.7 770.8,458.7 771.8,458.7 772.8,458.7 773.8,458.7 774.8,458.7 775.8,458.7 776.8,458.7 777.8,458.7 778.8,458.7 779.8,458.7 780.8,458.7 781.8,458.7 782.8,458.7 783.8,458.7 784.8,458.7 785.8,458.7 786.8,458.7 787.8,458.7 788.8,458.7 789.8,458.7 790.8,458.7 791.8,458.7 792.8,458.7 793.8,458.7 794.8,458.7 795.8,458.7 796.8,458.7 797.8,458.7 798.8,458.7 799.8,458.7 800.8,458.7 801.8,458.7 802.8,458.7 803.8,458.7 804.8,458.7 805.8,458.7 806.8,458.7 807.8,458.7 808.8,458.7 809.8,458.7 810.8,458.7 811.8,458.7 812.8,458.7 813.8,458.7 814.8,458.7 815.8,458.7 816.8,458.7 817.8,458.7 818.8,458.7 819.8,458.7 820.8,458.7 821.8,458.7 822.8,458.7 823.8,458.7 824.8,458.7 825.8,458.7 826.8,458.7 827.8,458.7"/>
</g>
<g stroke="#000000" stroke-width="1.2" fill="none">
<line x1="97.5" y1="60.9" x2="97.5" y2="523.0"/>
<line x1="90.0" y1="515.5" x2="861.1" y2="515.5"/>
<line x1="90" y1="515.50" x2="101" y2="515.50"/>
<line x1="95" y1="487.50" x2="100" y2="487.50"/>
<line x1="90" y1="458.50" x2="101" y2="458.50"/>
<line x1="95" y1="430.50" x2="100" y2="430.50"/>
<line x1="90" y1="402.50" x2="101" y2="402.50"/>
<line x1="95" y1="373.50" x2="100" y2="373.50"/>
<line x1="90" y1="345.50" x2="101" y2="345.50"/>
<line x1="95" y1="316.50" x2="100" y2="316.50"/>
<line x1="90" y1="288.50" x2="101" y2="288.50"/>
<line x1="95" y1="260.50" x2="100" y2="260.50"/>
<line x1="90" y1="231.50" x2="101" y2="231.50"/>
<line x1="95" y1="203.50" x2="100" y2="203.50"/>
<line x1="90" y1="175.50" x2="101" y2="175.50"/>
<line x1="95" y1="146.50" x2="100" y2="146.50"/>
<line x1="90" y1="118.50" x2="101" y2="118.50"/>
<line x1="95" y1="89.50" x2="100" y2="89.50"/>
<line x1="90" y1="61.50" x2="101" y2="61.50"/>
<line x1="97.50" y1="512" x2="97.50" y2="523"/>
<line x1="145.50" y1="513" x2="145.50" y2="518"/>
<line x1="192.50" y1="512" x2="192.50" y2="523"/>
<line x1="240.50" y1="513" x2="240.50" y2="518"/>
<line x1="288.50" y1="512" x2="288.50" y2="523"/>
<line x1="335.50" y1="513" x2="335.50" y2="518"/>
<line x1="383.50" y1="512" x2="383.50" y2="523"/>
<line x1="431.50" y1="513" x2="431.50" y2="518"/>
<line x1="478.50" y1="512" x2="478.50" y2="523"/>
<line x1="526.50" y1="513" x2="526.50" y2="518"/>
<line x1="574.50" y1="512" x2="574.50" y2="523"/>
<line x1="621.50" y1="513" x2="621.50" y2="518"/>
<line x1="669.50" y1="512" x2="669.50" y2="523"/>
<line x1="717.50" y1="513" x2="717.50" y2="518"/>
<line x1="764.50" y1="512" x2="764.50" y2="523"/>
<line x1="812.50" y1="513" x2="812.50" y2="518"/>
<line x1="860.50" y1="512" x2="860.50" y2="523"/>
</g>
<g font-family="'Liberation Sans', Arial, sans-serif" font-size="22.4px" fill="#000000" stroke="#000000" stroke-width="0.3">
<text transform="translate(83.8,520.9) scale(0.94,1)" text-anchor="end">-10</text>
<text transform="translate(83.8,464.1) scale(0.94,1)" text-anchor="end">0</text>
<text transform="translate(83.8,407.4) scale(0.94,1)" text-anchor="end">10</text>
<text transform="translate(83.8,350.6) scale(0.94,1)" text-anchor="end">20</text>
<text transform="translate(83.8,293.9) scale(0.94,1)" text-anchor="end">30</text>
<text transform="translate(83.8,237.2) scale(0.94,1)" text-anchor="end">40</text>
<text transform="translate(83.8,180.4) scale(0.94,1)" text-anchor="end">50</text>
<text transform="translate(83.8,123.7) scale(0.94,1)" text-anchor="end">60</text>
<text transform="translate(83.8,66.9) scale(0.94,1)" text-anchor="end">70</text>
<text transform="translate(97.5,549.0) scale(0.94,1)" text-anchor="middle">-80</text>
<text transform="translate(192.8,549.0) scale(0.94,1)" text-anchor="middle">-50</text>
<text transform="translate(288.2,549.0) scale(0.94,1)" text-anchor="middle">-20</text>
<text transform="translate(383.6,549.0) scale(0.94,1)" text-anchor="middle">10</text>
<text transform="translate(478.9,549.0) scale(0.94,1)" text-anchor="middle">40</text>
<text transform="translate(574.2,549.0) scale(0.94,1)" text-anchor="middle">70</text>
<text transform="translate(669.6,549.0) scale(0.94,1)" text-anchor="middle">100</text>
<text transform="translate(764.9,549.0) scale(0.94,1)" text-anchor="middle">130</text>
<text transform="translate(860.3,549.0) scale(0.94,1)" text-anchor="middle">160</text>
<text transform="translate(42.6,32.6) scale(0.885,1)" text-anchor="start" letter-spacing="-0.4">RU</text>
<text transform="translate(871.0,582.5) scale(0.94,1)" text-anchor="start">s</text>
<text transform="translate(448.8,583.5) scale(0.96,1)" text-anchor="middle" font-weight="bold">Tim<tspan dx="2">e</tspan></text>
<text transform="translate(35.8,302.3) rotate(-90) scale(0.95,1)" text-anchor="middle" font-weight="bold">Response</text>
</g>
</svg>
</body>
</html>
